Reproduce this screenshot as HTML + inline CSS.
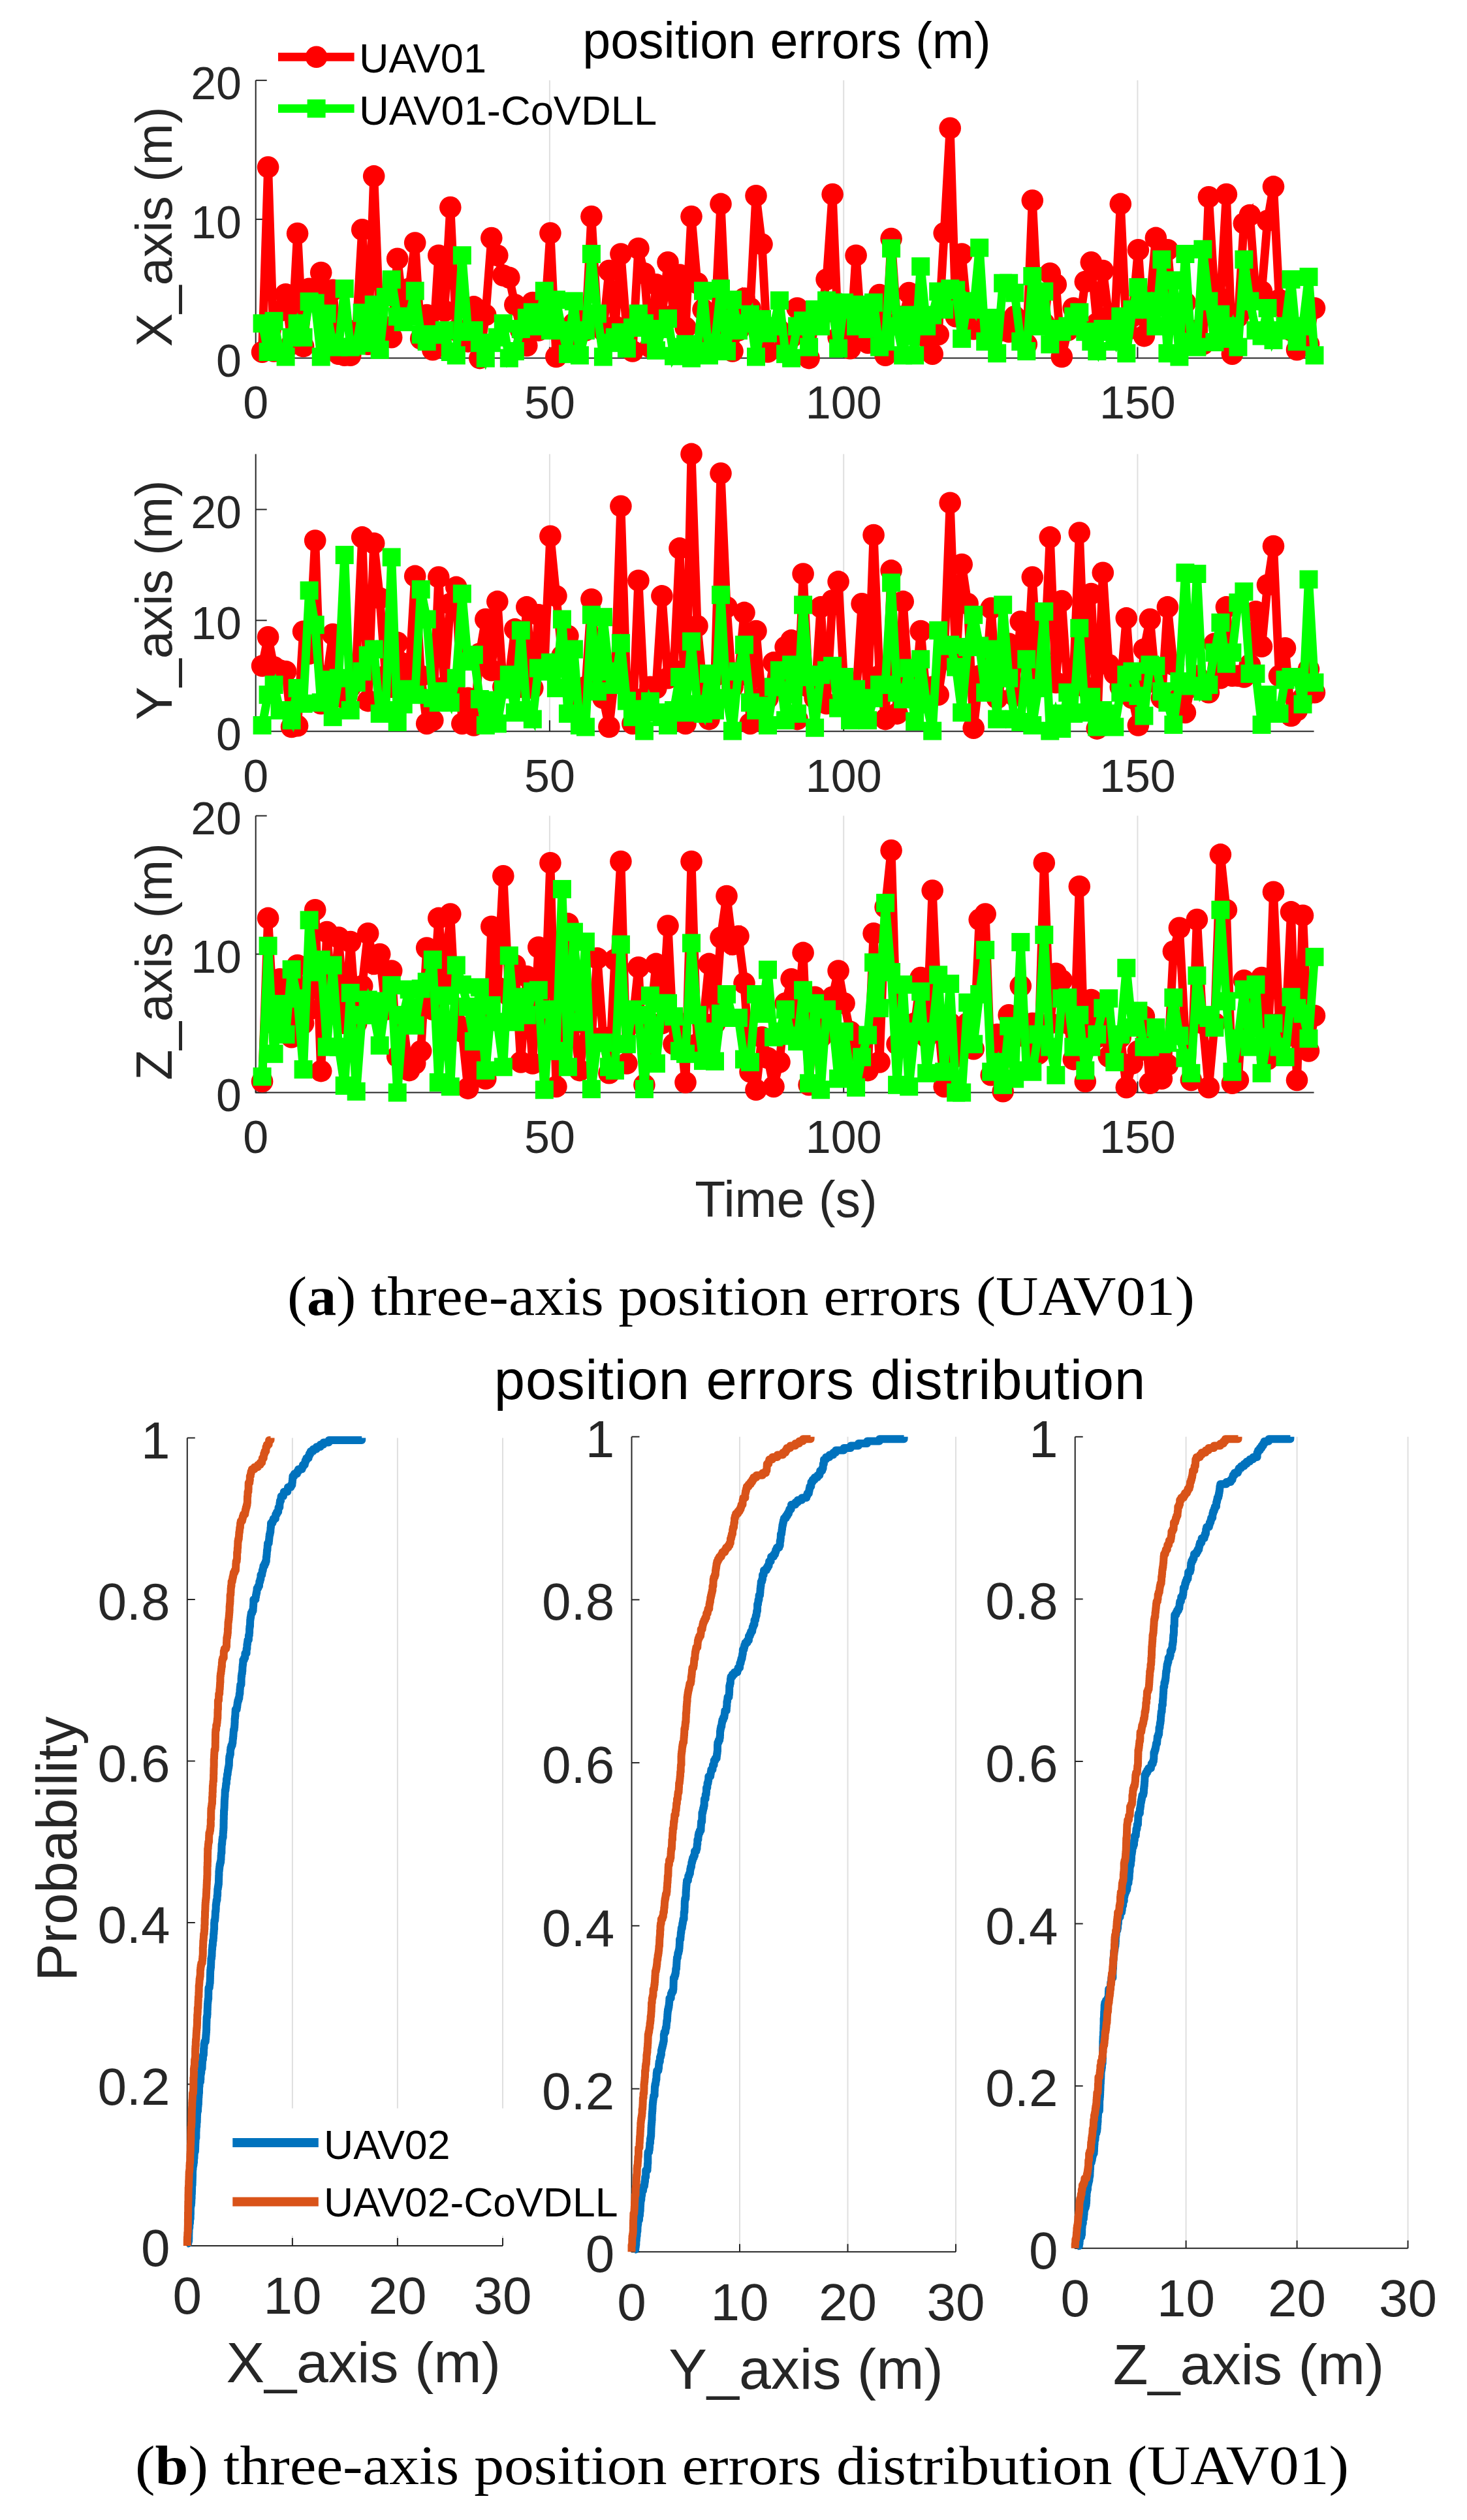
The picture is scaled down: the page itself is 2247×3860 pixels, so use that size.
<!DOCTYPE html>
<html><head><meta charset="utf-8"><title>position errors</title>
<style>html,body{margin:0;padding:0;background:#fff}body{width:2247px;height:3860px;overflow:hidden}svg{display:block}</style></head>
<body><svg width="2247" height="3860" viewBox="0 0 2247 3860">
<rect width="2247" height="3860" fill="#fff"/>
<g>
<line x1="841.9" y1="123.1" x2="841.9" y2="548.6" stroke="#dfdfdf" stroke-width="2"/>
<line x1="1292.2" y1="123.1" x2="1292.2" y2="548.6" stroke="#dfdfdf" stroke-width="2"/>
<line x1="1742.4" y1="123.1" x2="1742.4" y2="548.6" stroke="#dfdfdf" stroke-width="2"/>
<path d="M391.7 123.1V548.6H2012.6" fill="none" stroke="#262626" stroke-width="2"/>
<line x1="391.7" y1="548.6" x2="391.7" y2="531.6" stroke="#262626" stroke-width="2"/>
<text x="391.7" y="641.1" font-family="Liberation Sans, Arial, sans-serif" font-size="70" fill="#262626" text-anchor="middle">0</text>
<line x1="841.9" y1="548.6" x2="841.9" y2="531.6" stroke="#262626" stroke-width="2"/>
<text x="841.9" y="641.1" font-family="Liberation Sans, Arial, sans-serif" font-size="70" fill="#262626" text-anchor="middle">50</text>
<line x1="1292.2" y1="548.6" x2="1292.2" y2="531.6" stroke="#262626" stroke-width="2"/>
<text x="1292.2" y="641.1" font-family="Liberation Sans, Arial, sans-serif" font-size="70" fill="#262626" text-anchor="middle">100</text>
<line x1="1742.4" y1="548.6" x2="1742.4" y2="531.6" stroke="#262626" stroke-width="2"/>
<text x="1742.4" y="641.1" font-family="Liberation Sans, Arial, sans-serif" font-size="70" fill="#262626" text-anchor="middle">150</text>
<line x1="391.7" y1="548.6" x2="408.7" y2="548.6" stroke="#262626" stroke-width="2"/>
<text x="370" y="577.3" font-family="Liberation Sans, Arial, sans-serif" font-size="70" fill="#262626" text-anchor="end">0</text>
<line x1="391.7" y1="335.9" x2="408.7" y2="335.9" stroke="#262626" stroke-width="2"/>
<text x="370" y="364.6" font-family="Liberation Sans, Arial, sans-serif" font-size="70" fill="#262626" text-anchor="end">10</text>
<line x1="391.7" y1="123.1" x2="408.7" y2="123.1" stroke="#262626" stroke-width="2"/>
<text x="370" y="151.8" font-family="Liberation Sans, Arial, sans-serif" font-size="70" fill="#262626" text-anchor="end">20</text>
<text transform="translate(263 347.4) rotate(-90)" font-family="Liberation Sans, Arial, sans-serif" font-size="77" fill="#262626" text-anchor="middle">X_axis (m)</text>
<polyline points="401.6,539.2 410.6,256.1 419.6,538 428.6,476.3 437.6,450.7 446.6,527.3 455.6,357.6 464.6,530.5 473.6,442.2 482.7,448.6 491.7,417.5 500.7,484.8 509.7,444.4 518.7,542.2 527.7,544.3 536.7,544.3 545.7,506.1 554.7,351.8 563.7,527.3 572.7,269.9 581.7,495.4 590.7,506.1 599.7,516.7 608.7,396.3 617.7,474.1 626.7,442.2 635.7,372 644.7,518.8 653.7,482.6 662.8,535.8 671.8,391.2 680.8,476.3 689.8,317.6 698.8,506.1 707.8,506.1 716.8,523.1 725.8,469.9 734.8,548.6 743.8,482.6 752.8,364.6 761.8,391.2 770.8,422 779.8,425.2 788.8,466.7 797.8,506.1 806.8,529.5 815.8,463.5 824.8,506.1 833.8,495.4 842.9,357.1 851.9,546.5 860.9,506.1 869.9,516.7 878.9,495.4 887.9,486.9 896.9,506.1 905.9,331.6 914.9,484.8 923.9,506.1 932.9,414.6 941.9,499.7 950.9,389 959.9,506.1 968.9,538 977.9,380.5 986.9,418.8 995.9,531.6 1004.9,435.8 1013.9,484.8 1023,401.8 1032,482.6 1041,421 1050,501.8 1059,331.6 1068,433.7 1077,474.1 1086,516.7 1095,495.4 1104,312.4 1113,506.1 1122,538 1131,506.1 1140,457.1 1149,472 1158,299.7 1167,374.1 1176,539 1185,506.1 1194,506.1 1203.1,527.3 1212.1,516.7 1221.1,472 1230.1,506.1 1239.1,548.6 1248.1,495.4 1257.1,484.8 1266.1,428 1275.1,297.6 1284.1,516.7 1293.1,495.4 1302.1,533.7 1311.1,391.2 1320.1,516.7 1329.1,525.2 1338.1,484.8 1347.1,451.6 1356.1,544.3 1365.1,365.6 1374.1,495.4 1383.2,484.8 1392.2,448.6 1401.2,506.1 1410.2,484.8 1419.2,516.7 1428.2,542.2 1437.2,512.4 1446.2,357.1 1455.2,196.3 1464.2,484.8 1473.2,389 1482.2,484.8 1491.2,503.9 1500.2,484.8 1509.2,495.4 1518.2,506.1 1527.2,495.4 1536.2,506.1 1545.2,508.2 1554.2,484.8 1563.3,506.1 1572.3,527.3 1581.3,307.1 1590.3,484.8 1599.3,495.4 1608.3,418.8 1617.3,435.8 1626.3,546.5 1635.3,506.1 1644.3,472 1653.3,495.4 1662.3,431.6 1671.3,401.8 1680.3,495.4 1689.3,414.6 1698.3,484.8 1707.3,495.4 1716.3,312.4 1725.3,506.1 1734.3,484.8 1743.4,382.7 1752.4,514.6 1761.4,463.5 1770.4,364.4 1779.4,442.2 1788.4,382.7 1797.4,484.8 1806.4,495.4 1815.4,463.5 1824.4,525.2 1833.4,506.1 1842.4,527.3 1851.4,301.8 1860.4,452.9 1869.4,457.1 1878.4,297.6 1887.4,542.2 1896.4,484.8 1905.4,342.2 1914.4,329.5 1923.5,452.9 1932.5,446.5 1941.5,338 1950.5,285.9 1959.5,459.2 1968.5,474.1 1977.5,506.1 1986.5,535.8 1995.5,506.1 2004.5,527.3 2013.5,472" fill="none" stroke="#ff0000" stroke-width="13" stroke-linejoin="miter" stroke-miterlimit="3"/>
<g fill="#ff0000"><circle cx="401.6" cy="539.2" r="16.8"/><circle cx="410.6" cy="256.1" r="16.8"/><circle cx="419.6" cy="538" r="16.8"/><circle cx="428.6" cy="476.3" r="16.8"/><circle cx="437.6" cy="450.7" r="16.8"/><circle cx="446.6" cy="527.3" r="16.8"/><circle cx="455.6" cy="357.6" r="16.8"/><circle cx="464.6" cy="530.5" r="16.8"/><circle cx="473.6" cy="442.2" r="16.8"/><circle cx="482.7" cy="448.6" r="16.8"/><circle cx="491.7" cy="417.5" r="16.8"/><circle cx="500.7" cy="484.8" r="16.8"/><circle cx="509.7" cy="444.4" r="16.8"/><circle cx="518.7" cy="542.2" r="16.8"/><circle cx="527.7" cy="544.3" r="16.8"/><circle cx="536.7" cy="544.3" r="16.8"/><circle cx="545.7" cy="506.1" r="16.8"/><circle cx="554.7" cy="351.8" r="16.8"/><circle cx="563.7" cy="527.3" r="16.8"/><circle cx="572.7" cy="269.9" r="16.8"/><circle cx="581.7" cy="495.4" r="16.8"/><circle cx="590.7" cy="506.1" r="16.8"/><circle cx="599.7" cy="516.7" r="16.8"/><circle cx="608.7" cy="396.3" r="16.8"/><circle cx="617.7" cy="474.1" r="16.8"/><circle cx="626.7" cy="442.2" r="16.8"/><circle cx="635.7" cy="372" r="16.8"/><circle cx="644.7" cy="518.8" r="16.8"/><circle cx="653.7" cy="482.6" r="16.8"/><circle cx="662.8" cy="535.8" r="16.8"/><circle cx="671.8" cy="391.2" r="16.8"/><circle cx="680.8" cy="476.3" r="16.8"/><circle cx="689.8" cy="317.6" r="16.8"/><circle cx="698.8" cy="506.1" r="16.8"/><circle cx="707.8" cy="506.1" r="16.8"/><circle cx="716.8" cy="523.1" r="16.8"/><circle cx="725.8" cy="469.9" r="16.8"/><circle cx="734.8" cy="548.6" r="16.8"/><circle cx="743.8" cy="482.6" r="16.8"/><circle cx="752.8" cy="364.6" r="16.8"/><circle cx="761.8" cy="391.2" r="16.8"/><circle cx="770.8" cy="422" r="16.8"/><circle cx="779.8" cy="425.2" r="16.8"/><circle cx="788.8" cy="466.7" r="16.8"/><circle cx="797.8" cy="506.1" r="16.8"/><circle cx="806.8" cy="529.5" r="16.8"/><circle cx="815.8" cy="463.5" r="16.8"/><circle cx="824.8" cy="506.1" r="16.8"/><circle cx="833.8" cy="495.4" r="16.8"/><circle cx="842.9" cy="357.1" r="16.8"/><circle cx="851.9" cy="546.5" r="16.8"/><circle cx="860.9" cy="506.1" r="16.8"/><circle cx="869.9" cy="516.7" r="16.8"/><circle cx="878.9" cy="495.4" r="16.8"/><circle cx="887.9" cy="486.9" r="16.8"/><circle cx="896.9" cy="506.1" r="16.8"/><circle cx="905.9" cy="331.6" r="16.8"/><circle cx="914.9" cy="484.8" r="16.8"/><circle cx="923.9" cy="506.1" r="16.8"/><circle cx="932.9" cy="414.6" r="16.8"/><circle cx="941.9" cy="499.7" r="16.8"/><circle cx="950.9" cy="389" r="16.8"/><circle cx="959.9" cy="506.1" r="16.8"/><circle cx="968.9" cy="538" r="16.8"/><circle cx="977.9" cy="380.5" r="16.8"/><circle cx="986.9" cy="418.8" r="16.8"/><circle cx="995.9" cy="531.6" r="16.8"/><circle cx="1004.9" cy="435.8" r="16.8"/><circle cx="1013.9" cy="484.8" r="16.8"/><circle cx="1023" cy="401.8" r="16.8"/><circle cx="1032" cy="482.6" r="16.8"/><circle cx="1041" cy="421" r="16.8"/><circle cx="1050" cy="501.8" r="16.8"/><circle cx="1059" cy="331.6" r="16.8"/><circle cx="1068" cy="433.7" r="16.8"/><circle cx="1077" cy="474.1" r="16.8"/><circle cx="1086" cy="516.7" r="16.8"/><circle cx="1095" cy="495.4" r="16.8"/><circle cx="1104" cy="312.4" r="16.8"/><circle cx="1113" cy="506.1" r="16.8"/><circle cx="1122" cy="538" r="16.8"/><circle cx="1131" cy="506.1" r="16.8"/><circle cx="1140" cy="457.1" r="16.8"/><circle cx="1149" cy="472" r="16.8"/><circle cx="1158" cy="299.7" r="16.8"/><circle cx="1167" cy="374.1" r="16.8"/><circle cx="1176" cy="539" r="16.8"/><circle cx="1185" cy="506.1" r="16.8"/><circle cx="1194" cy="506.1" r="16.8"/><circle cx="1203.1" cy="527.3" r="16.8"/><circle cx="1212.1" cy="516.7" r="16.8"/><circle cx="1221.1" cy="472" r="16.8"/><circle cx="1230.1" cy="506.1" r="16.8"/><circle cx="1239.1" cy="548.6" r="16.8"/><circle cx="1248.1" cy="495.4" r="16.8"/><circle cx="1257.1" cy="484.8" r="16.8"/><circle cx="1266.1" cy="428" r="16.8"/><circle cx="1275.1" cy="297.6" r="16.8"/><circle cx="1284.1" cy="516.7" r="16.8"/><circle cx="1293.1" cy="495.4" r="16.8"/><circle cx="1302.1" cy="533.7" r="16.8"/><circle cx="1311.1" cy="391.2" r="16.8"/><circle cx="1320.1" cy="516.7" r="16.8"/><circle cx="1329.1" cy="525.2" r="16.8"/><circle cx="1338.1" cy="484.8" r="16.8"/><circle cx="1347.1" cy="451.6" r="16.8"/><circle cx="1356.1" cy="544.3" r="16.8"/><circle cx="1365.1" cy="365.6" r="16.8"/><circle cx="1374.1" cy="495.4" r="16.8"/><circle cx="1383.2" cy="484.8" r="16.8"/><circle cx="1392.2" cy="448.6" r="16.8"/><circle cx="1401.2" cy="506.1" r="16.8"/><circle cx="1410.2" cy="484.8" r="16.8"/><circle cx="1419.2" cy="516.7" r="16.8"/><circle cx="1428.2" cy="542.2" r="16.8"/><circle cx="1437.2" cy="512.4" r="16.8"/><circle cx="1446.2" cy="357.1" r="16.8"/><circle cx="1455.2" cy="196.3" r="16.8"/><circle cx="1464.2" cy="484.8" r="16.8"/><circle cx="1473.2" cy="389" r="16.8"/><circle cx="1482.2" cy="484.8" r="16.8"/><circle cx="1491.2" cy="503.9" r="16.8"/><circle cx="1500.2" cy="484.8" r="16.8"/><circle cx="1509.2" cy="495.4" r="16.8"/><circle cx="1518.2" cy="506.1" r="16.8"/><circle cx="1527.2" cy="495.4" r="16.8"/><circle cx="1536.2" cy="506.1" r="16.8"/><circle cx="1545.2" cy="508.2" r="16.8"/><circle cx="1554.2" cy="484.8" r="16.8"/><circle cx="1563.3" cy="506.1" r="16.8"/><circle cx="1572.3" cy="527.3" r="16.8"/><circle cx="1581.3" cy="307.1" r="16.8"/><circle cx="1590.3" cy="484.8" r="16.8"/><circle cx="1599.3" cy="495.4" r="16.8"/><circle cx="1608.3" cy="418.8" r="16.8"/><circle cx="1617.3" cy="435.8" r="16.8"/><circle cx="1626.3" cy="546.5" r="16.8"/><circle cx="1635.3" cy="506.1" r="16.8"/><circle cx="1644.3" cy="472" r="16.8"/><circle cx="1653.3" cy="495.4" r="16.8"/><circle cx="1662.3" cy="431.6" r="16.8"/><circle cx="1671.3" cy="401.8" r="16.8"/><circle cx="1680.3" cy="495.4" r="16.8"/><circle cx="1689.3" cy="414.6" r="16.8"/><circle cx="1698.3" cy="484.8" r="16.8"/><circle cx="1707.3" cy="495.4" r="16.8"/><circle cx="1716.3" cy="312.4" r="16.8"/><circle cx="1725.3" cy="506.1" r="16.8"/><circle cx="1734.3" cy="484.8" r="16.8"/><circle cx="1743.4" cy="382.7" r="16.8"/><circle cx="1752.4" cy="514.6" r="16.8"/><circle cx="1761.4" cy="463.5" r="16.8"/><circle cx="1770.4" cy="364.4" r="16.8"/><circle cx="1779.4" cy="442.2" r="16.8"/><circle cx="1788.4" cy="382.7" r="16.8"/><circle cx="1797.4" cy="484.8" r="16.8"/><circle cx="1806.4" cy="495.4" r="16.8"/><circle cx="1815.4" cy="463.5" r="16.8"/><circle cx="1824.4" cy="525.2" r="16.8"/><circle cx="1833.4" cy="506.1" r="16.8"/><circle cx="1842.4" cy="527.3" r="16.8"/><circle cx="1851.4" cy="301.8" r="16.8"/><circle cx="1860.4" cy="452.9" r="16.8"/><circle cx="1869.4" cy="457.1" r="16.8"/><circle cx="1878.4" cy="297.6" r="16.8"/><circle cx="1887.4" cy="542.2" r="16.8"/><circle cx="1896.4" cy="484.8" r="16.8"/><circle cx="1905.4" cy="342.2" r="16.8"/><circle cx="1914.4" cy="329.5" r="16.8"/><circle cx="1923.5" cy="452.9" r="16.8"/><circle cx="1932.5" cy="446.5" r="16.8"/><circle cx="1941.5" cy="338" r="16.8"/><circle cx="1950.5" cy="285.9" r="16.8"/><circle cx="1959.5" cy="459.2" r="16.8"/><circle cx="1968.5" cy="474.1" r="16.8"/><circle cx="1977.5" cy="506.1" r="16.8"/><circle cx="1986.5" cy="535.8" r="16.8"/><circle cx="1995.5" cy="506.1" r="16.8"/><circle cx="2004.5" cy="527.3" r="16.8"/><circle cx="2013.5" cy="472" r="16.8"/></g>
<polyline points="401.6,495.4 410.6,539 419.6,491.8 428.6,539 437.6,546.5 446.6,516.7 455.6,495.4 464.6,516.7 473.6,462 482.7,464.4 491.7,546.5 500.7,480.5 509.7,525.2 518.7,531.6 527.7,442.2 536.7,531.6 545.7,529.5 554.7,479.2 563.7,525.2 572.7,466.7 581.7,535.8 590.7,455 599.7,428.2 608.7,484.8 617.7,493.3 626.7,484.8 635.7,445.6 644.7,512.4 653.7,523.1 662.8,512.4 671.8,512.4 680.8,506.1 689.8,539 698.8,544.3 707.8,391.2 716.8,508.2 725.8,506.1 734.8,525.2 743.8,548.6 752.8,525.2 761.8,516.7 770.8,495.4 779.8,548.6 788.8,538 797.8,503.9 806.8,486.9 815.8,478.4 824.8,499.7 833.8,445.6 842.9,506.1 851.9,459.2 860.9,506.1 869.9,542.2 878.9,461.4 887.9,544.3 896.9,506.1 905.9,389 914.9,480.5 923.9,546.5 932.9,525.2 941.9,516.7 950.9,509.2 959.9,533.7 968.9,501.8 977.9,480.5 986.9,495.4 995.9,512.4 1004.9,536.7 1013.9,503.9 1023,488 1032,545.4 1041,531.6 1050,527.3 1059,548.6 1068,538 1077,445.6 1086,544.3 1095,525.2 1104,442.2 1113,538 1122,459.2 1131,506.1 1140,495.4 1149,481.6 1158,546.5 1167,489 1176,510.3 1185,499.7 1194,460.3 1203.1,542.2 1212.1,548.6 1221.1,499.7 1230.1,491.2 1239.1,531.6 1248.1,474.1 1257.1,499.7 1266.1,460.3 1275.1,474.1 1284.1,533.7 1293.1,463.5 1302.1,474.1 1311.1,499.7 1320.1,466.7 1329.1,503.9 1338.1,463.5 1347.1,531.6 1356.1,523.1 1365.1,380.5 1374.1,499.7 1383.2,544.3 1392.2,482.6 1401.2,544.3 1410.2,408.2 1419.2,499.7 1428.2,482.6 1437.2,446.5 1446.2,474.1 1455.2,442.2 1464.2,444.4 1473.2,518.8 1482.2,461.4 1491.2,474.1 1500.2,379.5 1509.2,523.1 1518.2,486.9 1527.2,541.2 1536.2,433.7 1545.2,433.7 1554.2,448.6 1563.3,523.1 1572.3,538 1581.3,423.1 1590.3,499.7 1599.3,446.5 1608.3,527.3 1617.3,503.9 1626.3,508.2 1635.3,499.7 1644.3,484.8 1653.3,478.4 1662.3,508.2 1671.3,523.1 1680.3,538 1689.3,503.9 1698.3,508.2 1707.3,523.1 1716.3,484.8 1725.3,541.2 1734.3,474.1 1743.4,440.1 1752.4,474.1 1761.4,461.4 1770.4,499.7 1779.4,397.5 1788.4,541.2 1797.4,429.5 1806.4,546.5 1815.4,389 1824.4,524.1 1833.4,531.6 1842.4,381.8 1851.4,461.4 1860.4,524.1 1869.4,481.6 1878.4,518.8 1887.4,499.7 1896.4,531.6 1905.4,397.5 1914.4,461.4 1923.5,506.1 1932.5,514.6 1941.5,472 1950.5,520.9 1959.5,506.1 1968.5,499.7 1977.5,428 1986.5,523.1 1995.5,499.7 2004.5,424.1 2013.5,544.3" fill="none" stroke="#00ff00" stroke-width="13" stroke-linejoin="miter" stroke-miterlimit="3"/>
<g fill="#00ff00"><rect x="387.6" y="481.4" width="28" height="28"/><rect x="396.6" y="525" width="28" height="28"/><rect x="405.6" y="477.8" width="28" height="28"/><rect x="414.6" y="525" width="28" height="28"/><rect x="423.6" y="532.5" width="28" height="28"/><rect x="432.6" y="502.7" width="28" height="28"/><rect x="441.6" y="481.4" width="28" height="28"/><rect x="450.6" y="502.7" width="28" height="28"/><rect x="459.6" y="448" width="28" height="28"/><rect x="468.7" y="450.4" width="28" height="28"/><rect x="477.7" y="532.5" width="28" height="28"/><rect x="486.7" y="466.5" width="28" height="28"/><rect x="495.7" y="511.2" width="28" height="28"/><rect x="504.7" y="517.6" width="28" height="28"/><rect x="513.7" y="428.2" width="28" height="28"/><rect x="522.7" y="517.6" width="28" height="28"/><rect x="531.7" y="515.5" width="28" height="28"/><rect x="540.7" y="465.2" width="28" height="28"/><rect x="549.7" y="511.2" width="28" height="28"/><rect x="558.7" y="452.7" width="28" height="28"/><rect x="567.7" y="521.8" width="28" height="28"/><rect x="576.7" y="441" width="28" height="28"/><rect x="585.7" y="414.2" width="28" height="28"/><rect x="594.7" y="470.8" width="28" height="28"/><rect x="603.7" y="479.3" width="28" height="28"/><rect x="612.7" y="470.8" width="28" height="28"/><rect x="621.7" y="431.6" width="28" height="28"/><rect x="630.7" y="498.4" width="28" height="28"/><rect x="639.7" y="509.1" width="28" height="28"/><rect x="648.8" y="498.4" width="28" height="28"/><rect x="657.8" y="498.4" width="28" height="28"/><rect x="666.8" y="492.1" width="28" height="28"/><rect x="675.8" y="525" width="28" height="28"/><rect x="684.8" y="530.3" width="28" height="28"/><rect x="693.8" y="377.2" width="28" height="28"/><rect x="702.8" y="494.2" width="28" height="28"/><rect x="711.8" y="492.1" width="28" height="28"/><rect x="720.8" y="511.2" width="28" height="28"/><rect x="729.8" y="534.6" width="28" height="28"/><rect x="738.8" y="511.2" width="28" height="28"/><rect x="747.8" y="502.7" width="28" height="28"/><rect x="756.8" y="481.4" width="28" height="28"/><rect x="765.8" y="534.6" width="28" height="28"/><rect x="774.8" y="524" width="28" height="28"/><rect x="783.8" y="489.9" width="28" height="28"/><rect x="792.8" y="472.9" width="28" height="28"/><rect x="801.8" y="464.4" width="28" height="28"/><rect x="810.8" y="485.7" width="28" height="28"/><rect x="819.8" y="431.6" width="28" height="28"/><rect x="828.9" y="492.1" width="28" height="28"/><rect x="837.9" y="445.2" width="28" height="28"/><rect x="846.9" y="492.1" width="28" height="28"/><rect x="855.9" y="528.2" width="28" height="28"/><rect x="864.9" y="447.4" width="28" height="28"/><rect x="873.9" y="530.3" width="28" height="28"/><rect x="882.9" y="492.1" width="28" height="28"/><rect x="891.9" y="375" width="28" height="28"/><rect x="900.9" y="466.5" width="28" height="28"/><rect x="909.9" y="532.5" width="28" height="28"/><rect x="918.9" y="511.2" width="28" height="28"/><rect x="927.9" y="502.7" width="28" height="28"/><rect x="936.9" y="495.2" width="28" height="28"/><rect x="945.9" y="519.7" width="28" height="28"/><rect x="954.9" y="487.8" width="28" height="28"/><rect x="963.9" y="466.5" width="28" height="28"/><rect x="972.9" y="481.4" width="28" height="28"/><rect x="981.9" y="498.4" width="28" height="28"/><rect x="990.9" y="522.7" width="28" height="28"/><rect x="999.9" y="489.9" width="28" height="28"/><rect x="1009" y="474" width="28" height="28"/><rect x="1018" y="531.4" width="28" height="28"/><rect x="1027" y="517.6" width="28" height="28"/><rect x="1036" y="513.3" width="28" height="28"/><rect x="1045" y="534.6" width="28" height="28"/><rect x="1054" y="524" width="28" height="28"/><rect x="1063" y="431.6" width="28" height="28"/><rect x="1072" y="530.3" width="28" height="28"/><rect x="1081" y="511.2" width="28" height="28"/><rect x="1090" y="428.2" width="28" height="28"/><rect x="1099" y="524" width="28" height="28"/><rect x="1108" y="445.2" width="28" height="28"/><rect x="1117" y="492.1" width="28" height="28"/><rect x="1126" y="481.4" width="28" height="28"/><rect x="1135" y="467.6" width="28" height="28"/><rect x="1144" y="532.5" width="28" height="28"/><rect x="1153" y="475" width="28" height="28"/><rect x="1162" y="496.3" width="28" height="28"/><rect x="1171" y="485.7" width="28" height="28"/><rect x="1180" y="446.3" width="28" height="28"/><rect x="1189.1" y="528.2" width="28" height="28"/><rect x="1198.1" y="534.6" width="28" height="28"/><rect x="1207.1" y="485.7" width="28" height="28"/><rect x="1216.1" y="477.2" width="28" height="28"/><rect x="1225.1" y="517.6" width="28" height="28"/><rect x="1234.1" y="460.1" width="28" height="28"/><rect x="1243.1" y="485.7" width="28" height="28"/><rect x="1252.1" y="446.3" width="28" height="28"/><rect x="1261.1" y="460.1" width="28" height="28"/><rect x="1270.1" y="519.7" width="28" height="28"/><rect x="1279.1" y="449.5" width="28" height="28"/><rect x="1288.1" y="460.1" width="28" height="28"/><rect x="1297.1" y="485.7" width="28" height="28"/><rect x="1306.1" y="452.7" width="28" height="28"/><rect x="1315.1" y="489.9" width="28" height="28"/><rect x="1324.1" y="449.5" width="28" height="28"/><rect x="1333.1" y="517.6" width="28" height="28"/><rect x="1342.1" y="509.1" width="28" height="28"/><rect x="1351.1" y="366.5" width="28" height="28"/><rect x="1360.1" y="485.7" width="28" height="28"/><rect x="1369.2" y="530.3" width="28" height="28"/><rect x="1378.2" y="468.6" width="28" height="28"/><rect x="1387.2" y="530.3" width="28" height="28"/><rect x="1396.2" y="394.2" width="28" height="28"/><rect x="1405.2" y="485.7" width="28" height="28"/><rect x="1414.2" y="468.6" width="28" height="28"/><rect x="1423.2" y="432.5" width="28" height="28"/><rect x="1432.2" y="460.1" width="28" height="28"/><rect x="1441.2" y="428.2" width="28" height="28"/><rect x="1450.2" y="430.4" width="28" height="28"/><rect x="1459.2" y="504.8" width="28" height="28"/><rect x="1468.2" y="447.4" width="28" height="28"/><rect x="1477.2" y="460.1" width="28" height="28"/><rect x="1486.2" y="365.5" width="28" height="28"/><rect x="1495.2" y="509.1" width="28" height="28"/><rect x="1504.2" y="472.9" width="28" height="28"/><rect x="1513.2" y="527.2" width="28" height="28"/><rect x="1522.2" y="419.7" width="28" height="28"/><rect x="1531.2" y="419.7" width="28" height="28"/><rect x="1540.2" y="434.6" width="28" height="28"/><rect x="1549.3" y="509.1" width="28" height="28"/><rect x="1558.3" y="524" width="28" height="28"/><rect x="1567.3" y="409.1" width="28" height="28"/><rect x="1576.3" y="485.7" width="28" height="28"/><rect x="1585.3" y="432.5" width="28" height="28"/><rect x="1594.3" y="513.3" width="28" height="28"/><rect x="1603.3" y="489.9" width="28" height="28"/><rect x="1612.3" y="494.2" width="28" height="28"/><rect x="1621.3" y="485.7" width="28" height="28"/><rect x="1630.3" y="470.8" width="28" height="28"/><rect x="1639.3" y="464.4" width="28" height="28"/><rect x="1648.3" y="494.2" width="28" height="28"/><rect x="1657.3" y="509.1" width="28" height="28"/><rect x="1666.3" y="524" width="28" height="28"/><rect x="1675.3" y="489.9" width="28" height="28"/><rect x="1684.3" y="494.2" width="28" height="28"/><rect x="1693.3" y="509.1" width="28" height="28"/><rect x="1702.3" y="470.8" width="28" height="28"/><rect x="1711.3" y="527.2" width="28" height="28"/><rect x="1720.3" y="460.1" width="28" height="28"/><rect x="1729.4" y="426.1" width="28" height="28"/><rect x="1738.4" y="460.1" width="28" height="28"/><rect x="1747.4" y="447.4" width="28" height="28"/><rect x="1756.4" y="485.7" width="28" height="28"/><rect x="1765.4" y="383.5" width="28" height="28"/><rect x="1774.4" y="527.2" width="28" height="28"/><rect x="1783.4" y="415.5" width="28" height="28"/><rect x="1792.4" y="532.5" width="28" height="28"/><rect x="1801.4" y="375" width="28" height="28"/><rect x="1810.4" y="510.1" width="28" height="28"/><rect x="1819.4" y="517.6" width="28" height="28"/><rect x="1828.4" y="367.8" width="28" height="28"/><rect x="1837.4" y="447.4" width="28" height="28"/><rect x="1846.4" y="510.1" width="28" height="28"/><rect x="1855.4" y="467.6" width="28" height="28"/><rect x="1864.4" y="504.8" width="28" height="28"/><rect x="1873.4" y="485.7" width="28" height="28"/><rect x="1882.4" y="517.6" width="28" height="28"/><rect x="1891.4" y="383.5" width="28" height="28"/><rect x="1900.4" y="447.4" width="28" height="28"/><rect x="1909.5" y="492.1" width="28" height="28"/><rect x="1918.5" y="500.6" width="28" height="28"/><rect x="1927.5" y="458" width="28" height="28"/><rect x="1936.5" y="506.9" width="28" height="28"/><rect x="1945.5" y="492.1" width="28" height="28"/><rect x="1954.5" y="485.7" width="28" height="28"/><rect x="1963.5" y="414" width="28" height="28"/><rect x="1972.5" y="509.1" width="28" height="28"/><rect x="1981.5" y="485.7" width="28" height="28"/><rect x="1990.5" y="410.1" width="28" height="28"/><rect x="1999.5" y="530.3" width="28" height="28"/></g>
</g>
<g>
<line x1="841.9" y1="695.4" x2="841.9" y2="1120.3" stroke="#dfdfdf" stroke-width="2"/>
<line x1="1292.2" y1="695.4" x2="1292.2" y2="1120.3" stroke="#dfdfdf" stroke-width="2"/>
<line x1="1742.4" y1="695.4" x2="1742.4" y2="1120.3" stroke="#dfdfdf" stroke-width="2"/>
<path d="M391.7 695.4V1120.3H2012.6" fill="none" stroke="#262626" stroke-width="2"/>
<line x1="391.7" y1="1120.3" x2="391.7" y2="1103.3" stroke="#262626" stroke-width="2"/>
<text x="391.7" y="1212.8" font-family="Liberation Sans, Arial, sans-serif" font-size="70" fill="#262626" text-anchor="middle">0</text>
<line x1="841.9" y1="1120.3" x2="841.9" y2="1103.3" stroke="#262626" stroke-width="2"/>
<text x="841.9" y="1212.8" font-family="Liberation Sans, Arial, sans-serif" font-size="70" fill="#262626" text-anchor="middle">50</text>
<line x1="1292.2" y1="1120.3" x2="1292.2" y2="1103.3" stroke="#262626" stroke-width="2"/>
<text x="1292.2" y="1212.8" font-family="Liberation Sans, Arial, sans-serif" font-size="70" fill="#262626" text-anchor="middle">100</text>
<line x1="1742.4" y1="1120.3" x2="1742.4" y2="1103.3" stroke="#262626" stroke-width="2"/>
<text x="1742.4" y="1212.8" font-family="Liberation Sans, Arial, sans-serif" font-size="70" fill="#262626" text-anchor="middle">150</text>
<line x1="391.7" y1="1120.3" x2="408.7" y2="1120.3" stroke="#262626" stroke-width="2"/>
<text x="370" y="1149" font-family="Liberation Sans, Arial, sans-serif" font-size="70" fill="#262626" text-anchor="end">0</text>
<line x1="391.7" y1="950.3" x2="408.7" y2="950.3" stroke="#262626" stroke-width="2"/>
<text x="370" y="979" font-family="Liberation Sans, Arial, sans-serif" font-size="70" fill="#262626" text-anchor="end">10</text>
<line x1="391.7" y1="780.4" x2="408.7" y2="780.4" stroke="#262626" stroke-width="2"/>
<text x="370" y="809.1" font-family="Liberation Sans, Arial, sans-serif" font-size="70" fill="#262626" text-anchor="end">20</text>
<text transform="translate(263 919.3) rotate(-90)" font-family="Liberation Sans, Arial, sans-serif" font-size="77" fill="#262626" text-anchor="middle">Y_axis (m)</text>
<polyline points="401.6,1020 410.6,975.8 419.6,1021.7 428.6,1026.8 437.6,1028.5 446.6,1113.5 455.6,1111.8 464.6,967.3 473.6,1001.3 482.7,828 491.7,1077.8 500.7,1035.3 509.7,971.6 518.7,1052.3 527.7,1069.3 536.7,1052.3 545.7,1018.3 554.7,822.9 563.7,1073.6 572.7,832.2 581.7,916.3 590.7,1035.3 599.7,1052.3 608.7,984.3 617.7,1016.6 626.7,1035.3 635.7,882.4 644.7,1035.3 653.7,1108.4 662.8,1103.3 671.8,884.1 680.8,1052.3 689.8,924.8 698.8,899.4 707.8,1108.4 716.8,1069.3 725.8,1111 734.8,1001.3 743.8,948.6 752.8,1026.8 761.8,921.4 770.8,1052.3 779.8,1035.3 788.8,963.9 797.8,1052.3 806.8,929.9 815.8,1054 824.8,941.8 833.8,1018.3 842.9,821.2 851.9,912.9 860.9,1004.7 869.9,974.1 878.9,1052.3 887.9,1069.3 896.9,1052.3 905.9,918 914.9,1035.3 923.9,1069.3 932.9,1113.5 941.9,1035.3 950.9,775.3 959.9,1052.3 968.9,1108.4 977.9,889.2 986.9,1069.3 995.9,1052.3 1004.9,1054 1013.9,912.9 1023,1038.7 1032,1026.8 1041,839.9 1050,1108.4 1059,695.4 1068,958.8 1077,1052.3 1086,1101.6 1095,1035.3 1104,725.1 1113,929.9 1122,1052.3 1131,1035.3 1140,938.4 1149,1108.4 1158,966.5 1167,1069.3 1176,1069.3 1185,1014.9 1194,1052.3 1203.1,991.1 1212.1,980.9 1221.1,1101.6 1230.1,879 1239.1,1052.3 1248.1,1069.3 1257.1,929.9 1266.1,1077.8 1275.1,919.7 1284.1,890.9 1293.1,1052.3 1302.1,1069.3 1311.1,1069.3 1320.1,924.8 1329.1,1069.3 1338.1,819.5 1347.1,1035.3 1356.1,1101.6 1365.1,873.9 1374.1,1093.1 1383.2,921.4 1392.2,1052.3 1401.2,1069.3 1410.2,966.5 1419.2,1069.3 1428.2,1052.3 1437.2,1064.2 1446.2,1004.7 1455.2,770.2 1464.2,1018.3 1473.2,864.5 1482.2,924.8 1491.2,1115.2 1500.2,1035.3 1509.2,1052.3 1518.2,931.6 1527.2,1069.3 1536.2,1035.3 1545.2,986 1554.2,1065.9 1563.3,952 1572.3,1052.3 1581.3,884.1 1590.3,1035.3 1599.3,1018.3 1608.3,822.9 1617.3,1045.5 1626.3,920.6 1635.3,1052.3 1644.3,1035.3 1653.3,816.1 1662.3,1052.3 1671.3,909.5 1680.3,1116.1 1689.3,877.3 1698.3,1018.3 1707.3,1031.9 1716.3,1052.3 1725.3,946.9 1734.3,1069.3 1743.4,1111 1752.4,994.5 1761.4,948.6 1770.4,1045.5 1779.4,1069.3 1788.4,929.9 1797.4,1018.3 1806.4,1069.3 1815.4,1091.4 1824.4,1052.3 1833.4,1035.3 1842.4,1052.3 1851.4,1060.8 1860.4,986 1869.4,1038.7 1878.4,929.9 1887.4,1035.3 1896.4,1035.3 1905.4,1037 1914.4,1018.3 1923.5,936.7 1932.5,990.3 1941.5,896 1950.5,836.5 1959.5,1035.3 1968.5,992.8 1977.5,1096.5 1986.5,1088 1995.5,1069.3 2004.5,1025.1 2013.5,1060.8" fill="none" stroke="#ff0000" stroke-width="13" stroke-linejoin="miter" stroke-miterlimit="3"/>
<g fill="#ff0000"><circle cx="401.6" cy="1020" r="16.8"/><circle cx="410.6" cy="975.8" r="16.8"/><circle cx="419.6" cy="1021.7" r="16.8"/><circle cx="428.6" cy="1026.8" r="16.8"/><circle cx="437.6" cy="1028.5" r="16.8"/><circle cx="446.6" cy="1113.5" r="16.8"/><circle cx="455.6" cy="1111.8" r="16.8"/><circle cx="464.6" cy="967.3" r="16.8"/><circle cx="473.6" cy="1001.3" r="16.8"/><circle cx="482.7" cy="828" r="16.8"/><circle cx="491.7" cy="1077.8" r="16.8"/><circle cx="500.7" cy="1035.3" r="16.8"/><circle cx="509.7" cy="971.6" r="16.8"/><circle cx="518.7" cy="1052.3" r="16.8"/><circle cx="527.7" cy="1069.3" r="16.8"/><circle cx="536.7" cy="1052.3" r="16.8"/><circle cx="545.7" cy="1018.3" r="16.8"/><circle cx="554.7" cy="822.9" r="16.8"/><circle cx="563.7" cy="1073.6" r="16.8"/><circle cx="572.7" cy="832.2" r="16.8"/><circle cx="581.7" cy="916.3" r="16.8"/><circle cx="590.7" cy="1035.3" r="16.8"/><circle cx="599.7" cy="1052.3" r="16.8"/><circle cx="608.7" cy="984.3" r="16.8"/><circle cx="617.7" cy="1016.6" r="16.8"/><circle cx="626.7" cy="1035.3" r="16.8"/><circle cx="635.7" cy="882.4" r="16.8"/><circle cx="644.7" cy="1035.3" r="16.8"/><circle cx="653.7" cy="1108.4" r="16.8"/><circle cx="662.8" cy="1103.3" r="16.8"/><circle cx="671.8" cy="884.1" r="16.8"/><circle cx="680.8" cy="1052.3" r="16.8"/><circle cx="689.8" cy="924.8" r="16.8"/><circle cx="698.8" cy="899.4" r="16.8"/><circle cx="707.8" cy="1108.4" r="16.8"/><circle cx="716.8" cy="1069.3" r="16.8"/><circle cx="725.8" cy="1111" r="16.8"/><circle cx="734.8" cy="1001.3" r="16.8"/><circle cx="743.8" cy="948.6" r="16.8"/><circle cx="752.8" cy="1026.8" r="16.8"/><circle cx="761.8" cy="921.4" r="16.8"/><circle cx="770.8" cy="1052.3" r="16.8"/><circle cx="779.8" cy="1035.3" r="16.8"/><circle cx="788.8" cy="963.9" r="16.8"/><circle cx="797.8" cy="1052.3" r="16.8"/><circle cx="806.8" cy="929.9" r="16.8"/><circle cx="815.8" cy="1054" r="16.8"/><circle cx="824.8" cy="941.8" r="16.8"/><circle cx="833.8" cy="1018.3" r="16.8"/><circle cx="842.9" cy="821.2" r="16.8"/><circle cx="851.9" cy="912.9" r="16.8"/><circle cx="860.9" cy="1004.7" r="16.8"/><circle cx="869.9" cy="974.1" r="16.8"/><circle cx="878.9" cy="1052.3" r="16.8"/><circle cx="887.9" cy="1069.3" r="16.8"/><circle cx="896.9" cy="1052.3" r="16.8"/><circle cx="905.9" cy="918" r="16.8"/><circle cx="914.9" cy="1035.3" r="16.8"/><circle cx="923.9" cy="1069.3" r="16.8"/><circle cx="932.9" cy="1113.5" r="16.8"/><circle cx="941.9" cy="1035.3" r="16.8"/><circle cx="950.9" cy="775.3" r="16.8"/><circle cx="959.9" cy="1052.3" r="16.8"/><circle cx="968.9" cy="1108.4" r="16.8"/><circle cx="977.9" cy="889.2" r="16.8"/><circle cx="986.9" cy="1069.3" r="16.8"/><circle cx="995.9" cy="1052.3" r="16.8"/><circle cx="1004.9" cy="1054" r="16.8"/><circle cx="1013.9" cy="912.9" r="16.8"/><circle cx="1023" cy="1038.7" r="16.8"/><circle cx="1032" cy="1026.8" r="16.8"/><circle cx="1041" cy="839.9" r="16.8"/><circle cx="1050" cy="1108.4" r="16.8"/><circle cx="1059" cy="695.4" r="16.8"/><circle cx="1068" cy="958.8" r="16.8"/><circle cx="1077" cy="1052.3" r="16.8"/><circle cx="1086" cy="1101.6" r="16.8"/><circle cx="1095" cy="1035.3" r="16.8"/><circle cx="1104" cy="725.1" r="16.8"/><circle cx="1113" cy="929.9" r="16.8"/><circle cx="1122" cy="1052.3" r="16.8"/><circle cx="1131" cy="1035.3" r="16.8"/><circle cx="1140" cy="938.4" r="16.8"/><circle cx="1149" cy="1108.4" r="16.8"/><circle cx="1158" cy="966.5" r="16.8"/><circle cx="1167" cy="1069.3" r="16.8"/><circle cx="1176" cy="1069.3" r="16.8"/><circle cx="1185" cy="1014.9" r="16.8"/><circle cx="1194" cy="1052.3" r="16.8"/><circle cx="1203.1" cy="991.1" r="16.8"/><circle cx="1212.1" cy="980.9" r="16.8"/><circle cx="1221.1" cy="1101.6" r="16.8"/><circle cx="1230.1" cy="879" r="16.8"/><circle cx="1239.1" cy="1052.3" r="16.8"/><circle cx="1248.1" cy="1069.3" r="16.8"/><circle cx="1257.1" cy="929.9" r="16.8"/><circle cx="1266.1" cy="1077.8" r="16.8"/><circle cx="1275.1" cy="919.7" r="16.8"/><circle cx="1284.1" cy="890.9" r="16.8"/><circle cx="1293.1" cy="1052.3" r="16.8"/><circle cx="1302.1" cy="1069.3" r="16.8"/><circle cx="1311.1" cy="1069.3" r="16.8"/><circle cx="1320.1" cy="924.8" r="16.8"/><circle cx="1329.1" cy="1069.3" r="16.8"/><circle cx="1338.1" cy="819.5" r="16.8"/><circle cx="1347.1" cy="1035.3" r="16.8"/><circle cx="1356.1" cy="1101.6" r="16.8"/><circle cx="1365.1" cy="873.9" r="16.8"/><circle cx="1374.1" cy="1093.1" r="16.8"/><circle cx="1383.2" cy="921.4" r="16.8"/><circle cx="1392.2" cy="1052.3" r="16.8"/><circle cx="1401.2" cy="1069.3" r="16.8"/><circle cx="1410.2" cy="966.5" r="16.8"/><circle cx="1419.2" cy="1069.3" r="16.8"/><circle cx="1428.2" cy="1052.3" r="16.8"/><circle cx="1437.2" cy="1064.2" r="16.8"/><circle cx="1446.2" cy="1004.7" r="16.8"/><circle cx="1455.2" cy="770.2" r="16.8"/><circle cx="1464.2" cy="1018.3" r="16.8"/><circle cx="1473.2" cy="864.5" r="16.8"/><circle cx="1482.2" cy="924.8" r="16.8"/><circle cx="1491.2" cy="1115.2" r="16.8"/><circle cx="1500.2" cy="1035.3" r="16.8"/><circle cx="1509.2" cy="1052.3" r="16.8"/><circle cx="1518.2" cy="931.6" r="16.8"/><circle cx="1527.2" cy="1069.3" r="16.8"/><circle cx="1536.2" cy="1035.3" r="16.8"/><circle cx="1545.2" cy="986" r="16.8"/><circle cx="1554.2" cy="1065.9" r="16.8"/><circle cx="1563.3" cy="952" r="16.8"/><circle cx="1572.3" cy="1052.3" r="16.8"/><circle cx="1581.3" cy="884.1" r="16.8"/><circle cx="1590.3" cy="1035.3" r="16.8"/><circle cx="1599.3" cy="1018.3" r="16.8"/><circle cx="1608.3" cy="822.9" r="16.8"/><circle cx="1617.3" cy="1045.5" r="16.8"/><circle cx="1626.3" cy="920.6" r="16.8"/><circle cx="1635.3" cy="1052.3" r="16.8"/><circle cx="1644.3" cy="1035.3" r="16.8"/><circle cx="1653.3" cy="816.1" r="16.8"/><circle cx="1662.3" cy="1052.3" r="16.8"/><circle cx="1671.3" cy="909.5" r="16.8"/><circle cx="1680.3" cy="1116.1" r="16.8"/><circle cx="1689.3" cy="877.3" r="16.8"/><circle cx="1698.3" cy="1018.3" r="16.8"/><circle cx="1707.3" cy="1031.9" r="16.8"/><circle cx="1716.3" cy="1052.3" r="16.8"/><circle cx="1725.3" cy="946.9" r="16.8"/><circle cx="1734.3" cy="1069.3" r="16.8"/><circle cx="1743.4" cy="1111" r="16.8"/><circle cx="1752.4" cy="994.5" r="16.8"/><circle cx="1761.4" cy="948.6" r="16.8"/><circle cx="1770.4" cy="1045.5" r="16.8"/><circle cx="1779.4" cy="1069.3" r="16.8"/><circle cx="1788.4" cy="929.9" r="16.8"/><circle cx="1797.4" cy="1018.3" r="16.8"/><circle cx="1806.4" cy="1069.3" r="16.8"/><circle cx="1815.4" cy="1091.4" r="16.8"/><circle cx="1824.4" cy="1052.3" r="16.8"/><circle cx="1833.4" cy="1035.3" r="16.8"/><circle cx="1842.4" cy="1052.3" r="16.8"/><circle cx="1851.4" cy="1060.8" r="16.8"/><circle cx="1860.4" cy="986" r="16.8"/><circle cx="1869.4" cy="1038.7" r="16.8"/><circle cx="1878.4" cy="929.9" r="16.8"/><circle cx="1887.4" cy="1035.3" r="16.8"/><circle cx="1896.4" cy="1035.3" r="16.8"/><circle cx="1905.4" cy="1037" r="16.8"/><circle cx="1914.4" cy="1018.3" r="16.8"/><circle cx="1923.5" cy="936.7" r="16.8"/><circle cx="1932.5" cy="990.3" r="16.8"/><circle cx="1941.5" cy="896" r="16.8"/><circle cx="1950.5" cy="836.5" r="16.8"/><circle cx="1959.5" cy="1035.3" r="16.8"/><circle cx="1968.5" cy="992.8" r="16.8"/><circle cx="1977.5" cy="1096.5" r="16.8"/><circle cx="1986.5" cy="1088" r="16.8"/><circle cx="1995.5" cy="1069.3" r="16.8"/><circle cx="2004.5" cy="1025.1" r="16.8"/><circle cx="2013.5" cy="1060.8" r="16.8"/></g>
<polyline points="401.6,1111 410.6,1064.2 419.6,1048.9 428.6,1088 437.6,1088 446.6,1103.3 455.6,1054 464.6,1077.8 473.6,904.5 482.7,957.1 491.7,1076.1 500.7,1041.3 509.7,1098.2 518.7,1038.7 527.7,850.1 536.7,1088 545.7,1045.5 554.7,1028.5 563.7,1003.9 572.7,994.5 581.7,1093.1 590.7,1088 599.7,853.5 608.7,1105.9 617.7,1078.7 626.7,1055.7 635.7,1064.2 644.7,902.8 653.7,948.6 662.8,1069.3 671.8,1076.1 680.8,1059.1 689.8,1076.1 698.8,1038.7 707.8,909.5 716.8,1013.2 725.8,1003 734.8,1071 743.8,1111 752.8,1072.7 761.8,1108.4 770.8,1056.2 779.8,1033.6 788.8,1091.4 797.8,965.6 806.8,1088 815.8,1101.6 824.8,1023.4 833.8,1028.5 842.9,1014.9 851.9,1054 860.9,948.6 869.9,1093.1 878.9,994.5 887.9,1111 896.9,1113.5 905.9,941.8 914.9,1059.1 923.9,945.2 932.9,1028.5 941.9,1048.9 950.9,985.2 959.9,1073.6 968.9,1098.2 977.9,1086.3 986.9,1119.6 995.9,1074.4 1004.9,1091.4 1013.9,1098.2 1023,1111 1032,1088 1041,1037 1050,1091.4 1059,982.6 1068,1078.7 1077,1093.1 1086,1031.9 1095,1088 1104,911.2 1113,1069.3 1122,1119.6 1131,1028.5 1140,987.7 1149,1076.1 1158,1088 1167,1081.2 1176,1111 1185,1052.3 1194,1026.8 1203.1,1103.3 1212.1,1018.3 1221.1,1093.1 1230.1,926.5 1239.1,1037 1248.1,1114.7 1257.1,1033.6 1266.1,1026.8 1275.1,1020 1284.1,1084.6 1293.1,1037 1302.1,1103.3 1311.1,1055.7 1320.1,1078.7 1329.1,1103.3 1338.1,1069.3 1347.1,1048.9 1356.1,1048.9 1365.1,892.6 1374.1,1060.8 1383.2,1071 1392.2,1023.4 1401.2,1105 1410.2,1009.8 1419.2,1078.7 1428.2,1119.6 1437.2,965.6 1446.2,989.4 1455.2,987.7 1464.2,1021.7 1473.2,1091.4 1482.2,991.1 1491.2,941.8 1500.2,989.4 1509.2,1060.8 1518.2,994.5 1527.2,1101.6 1536.2,926.5 1545.2,1038.7 1554.2,1101.6 1563.3,1105.9 1572.3,1009.8 1581.3,1111 1590.3,1054 1599.3,936.7 1608.3,1119.6 1617.3,1093.1 1626.3,1116.1 1635.3,1060.8 1644.3,1093.1 1653.3,962.2 1662.3,1091.4 1671.3,1067.6 1680.3,1113.5 1689.3,1088 1698.3,1093.1 1707.3,1113.5 1716.3,1060.8 1725.3,1033.6 1734.3,1028.5 1743.4,1065.9 1752.4,1096.5 1761.4,1018.3 1770.4,1020 1779.4,1059.1 1788.4,1076.1 1797.4,1110.1 1806.4,1043.8 1815.4,877.3 1824.4,1050.6 1833.4,879 1842.4,1059.1 1851.4,1048.9 1860.4,999.6 1869.4,953.7 1878.4,1016.6 1887.4,999.6 1896.4,923.1 1905.4,906.2 1914.4,1031.9 1923.5,1031.9 1932.5,1110.1 1941.5,1064.2 1950.5,1088 1959.5,1093.1 1968.5,1041.3 1977.5,1037 1986.5,1037 1995.5,1078.7 2004.5,887.5 2013.5,1045.5" fill="none" stroke="#00ff00" stroke-width="13" stroke-linejoin="miter" stroke-miterlimit="3"/>
<g fill="#00ff00"><rect x="387.6" y="1097" width="28" height="28"/><rect x="396.6" y="1050.2" width="28" height="28"/><rect x="405.6" y="1034.9" width="28" height="28"/><rect x="414.6" y="1074" width="28" height="28"/><rect x="423.6" y="1074" width="28" height="28"/><rect x="432.6" y="1089.3" width="28" height="28"/><rect x="441.6" y="1040" width="28" height="28"/><rect x="450.6" y="1063.8" width="28" height="28"/><rect x="459.6" y="890.5" width="28" height="28"/><rect x="468.7" y="943.1" width="28" height="28"/><rect x="477.7" y="1062.1" width="28" height="28"/><rect x="486.7" y="1027.3" width="28" height="28"/><rect x="495.7" y="1084.2" width="28" height="28"/><rect x="504.7" y="1024.7" width="28" height="28"/><rect x="513.7" y="836.1" width="28" height="28"/><rect x="522.7" y="1074" width="28" height="28"/><rect x="531.7" y="1031.5" width="28" height="28"/><rect x="540.7" y="1014.5" width="28" height="28"/><rect x="549.7" y="989.9" width="28" height="28"/><rect x="558.7" y="980.5" width="28" height="28"/><rect x="567.7" y="1079.1" width="28" height="28"/><rect x="576.7" y="1074" width="28" height="28"/><rect x="585.7" y="839.5" width="28" height="28"/><rect x="594.7" y="1091.9" width="28" height="28"/><rect x="603.7" y="1064.7" width="28" height="28"/><rect x="612.7" y="1041.7" width="28" height="28"/><rect x="621.7" y="1050.2" width="28" height="28"/><rect x="630.7" y="888.8" width="28" height="28"/><rect x="639.7" y="934.6" width="28" height="28"/><rect x="648.8" y="1055.3" width="28" height="28"/><rect x="657.8" y="1062.1" width="28" height="28"/><rect x="666.8" y="1045.1" width="28" height="28"/><rect x="675.8" y="1062.1" width="28" height="28"/><rect x="684.8" y="1024.7" width="28" height="28"/><rect x="693.8" y="895.5" width="28" height="28"/><rect x="702.8" y="999.2" width="28" height="28"/><rect x="711.8" y="989" width="28" height="28"/><rect x="720.8" y="1057" width="28" height="28"/><rect x="729.8" y="1097" width="28" height="28"/><rect x="738.8" y="1058.7" width="28" height="28"/><rect x="747.8" y="1094.4" width="28" height="28"/><rect x="756.8" y="1042.2" width="28" height="28"/><rect x="765.8" y="1019.6" width="28" height="28"/><rect x="774.8" y="1077.4" width="28" height="28"/><rect x="783.8" y="951.6" width="28" height="28"/><rect x="792.8" y="1074" width="28" height="28"/><rect x="801.8" y="1087.6" width="28" height="28"/><rect x="810.8" y="1009.4" width="28" height="28"/><rect x="819.8" y="1014.5" width="28" height="28"/><rect x="828.9" y="1000.9" width="28" height="28"/><rect x="837.9" y="1040" width="28" height="28"/><rect x="846.9" y="934.6" width="28" height="28"/><rect x="855.9" y="1079.1" width="28" height="28"/><rect x="864.9" y="980.5" width="28" height="28"/><rect x="873.9" y="1097" width="28" height="28"/><rect x="882.9" y="1099.5" width="28" height="28"/><rect x="891.9" y="927.8" width="28" height="28"/><rect x="900.9" y="1045.1" width="28" height="28"/><rect x="909.9" y="931.2" width="28" height="28"/><rect x="918.9" y="1014.5" width="28" height="28"/><rect x="927.9" y="1034.9" width="28" height="28"/><rect x="936.9" y="971.2" width="28" height="28"/><rect x="945.9" y="1059.6" width="28" height="28"/><rect x="954.9" y="1084.2" width="28" height="28"/><rect x="963.9" y="1072.3" width="28" height="28"/><rect x="972.9" y="1105.6" width="28" height="28"/><rect x="981.9" y="1060.4" width="28" height="28"/><rect x="990.9" y="1077.4" width="28" height="28"/><rect x="999.9" y="1084.2" width="28" height="28"/><rect x="1009" y="1097" width="28" height="28"/><rect x="1018" y="1074" width="28" height="28"/><rect x="1027" y="1023" width="28" height="28"/><rect x="1036" y="1077.4" width="28" height="28"/><rect x="1045" y="968.6" width="28" height="28"/><rect x="1054" y="1064.7" width="28" height="28"/><rect x="1063" y="1079.1" width="28" height="28"/><rect x="1072" y="1017.9" width="28" height="28"/><rect x="1081" y="1074" width="28" height="28"/><rect x="1090" y="897.2" width="28" height="28"/><rect x="1099" y="1055.3" width="28" height="28"/><rect x="1108" y="1105.6" width="28" height="28"/><rect x="1117" y="1014.5" width="28" height="28"/><rect x="1126" y="973.7" width="28" height="28"/><rect x="1135" y="1062.1" width="28" height="28"/><rect x="1144" y="1074" width="28" height="28"/><rect x="1153" y="1067.2" width="28" height="28"/><rect x="1162" y="1097" width="28" height="28"/><rect x="1171" y="1038.3" width="28" height="28"/><rect x="1180" y="1012.8" width="28" height="28"/><rect x="1189.1" y="1089.3" width="28" height="28"/><rect x="1198.1" y="1004.3" width="28" height="28"/><rect x="1207.1" y="1079.1" width="28" height="28"/><rect x="1216.1" y="912.5" width="28" height="28"/><rect x="1225.1" y="1023" width="28" height="28"/><rect x="1234.1" y="1100.7" width="28" height="28"/><rect x="1243.1" y="1019.6" width="28" height="28"/><rect x="1252.1" y="1012.8" width="28" height="28"/><rect x="1261.1" y="1006" width="28" height="28"/><rect x="1270.1" y="1070.6" width="28" height="28"/><rect x="1279.1" y="1023" width="28" height="28"/><rect x="1288.1" y="1089.3" width="28" height="28"/><rect x="1297.1" y="1041.7" width="28" height="28"/><rect x="1306.1" y="1064.7" width="28" height="28"/><rect x="1315.1" y="1089.3" width="28" height="28"/><rect x="1324.1" y="1055.3" width="28" height="28"/><rect x="1333.1" y="1034.9" width="28" height="28"/><rect x="1342.1" y="1034.9" width="28" height="28"/><rect x="1351.1" y="878.6" width="28" height="28"/><rect x="1360.1" y="1046.8" width="28" height="28"/><rect x="1369.2" y="1057" width="28" height="28"/><rect x="1378.2" y="1009.4" width="28" height="28"/><rect x="1387.2" y="1091" width="28" height="28"/><rect x="1396.2" y="995.8" width="28" height="28"/><rect x="1405.2" y="1064.7" width="28" height="28"/><rect x="1414.2" y="1105.6" width="28" height="28"/><rect x="1423.2" y="951.6" width="28" height="28"/><rect x="1432.2" y="975.4" width="28" height="28"/><rect x="1441.2" y="973.7" width="28" height="28"/><rect x="1450.2" y="1007.7" width="28" height="28"/><rect x="1459.2" y="1077.4" width="28" height="28"/><rect x="1468.2" y="977.1" width="28" height="28"/><rect x="1477.2" y="927.8" width="28" height="28"/><rect x="1486.2" y="975.4" width="28" height="28"/><rect x="1495.2" y="1046.8" width="28" height="28"/><rect x="1504.2" y="980.5" width="28" height="28"/><rect x="1513.2" y="1087.6" width="28" height="28"/><rect x="1522.2" y="912.5" width="28" height="28"/><rect x="1531.2" y="1024.7" width="28" height="28"/><rect x="1540.2" y="1087.6" width="28" height="28"/><rect x="1549.3" y="1091.9" width="28" height="28"/><rect x="1558.3" y="995.8" width="28" height="28"/><rect x="1567.3" y="1097" width="28" height="28"/><rect x="1576.3" y="1040" width="28" height="28"/><rect x="1585.3" y="922.7" width="28" height="28"/><rect x="1594.3" y="1105.6" width="28" height="28"/><rect x="1603.3" y="1079.1" width="28" height="28"/><rect x="1612.3" y="1102.1" width="28" height="28"/><rect x="1621.3" y="1046.8" width="28" height="28"/><rect x="1630.3" y="1079.1" width="28" height="28"/><rect x="1639.3" y="948.2" width="28" height="28"/><rect x="1648.3" y="1077.4" width="28" height="28"/><rect x="1657.3" y="1053.6" width="28" height="28"/><rect x="1666.3" y="1099.5" width="28" height="28"/><rect x="1675.3" y="1074" width="28" height="28"/><rect x="1684.3" y="1079.1" width="28" height="28"/><rect x="1693.3" y="1099.5" width="28" height="28"/><rect x="1702.3" y="1046.8" width="28" height="28"/><rect x="1711.3" y="1019.6" width="28" height="28"/><rect x="1720.3" y="1014.5" width="28" height="28"/><rect x="1729.4" y="1051.9" width="28" height="28"/><rect x="1738.4" y="1082.5" width="28" height="28"/><rect x="1747.4" y="1004.3" width="28" height="28"/><rect x="1756.4" y="1006" width="28" height="28"/><rect x="1765.4" y="1045.1" width="28" height="28"/><rect x="1774.4" y="1062.1" width="28" height="28"/><rect x="1783.4" y="1096.1" width="28" height="28"/><rect x="1792.4" y="1029.8" width="28" height="28"/><rect x="1801.4" y="863.3" width="28" height="28"/><rect x="1810.4" y="1036.6" width="28" height="28"/><rect x="1819.4" y="865" width="28" height="28"/><rect x="1828.4" y="1045.1" width="28" height="28"/><rect x="1837.4" y="1034.9" width="28" height="28"/><rect x="1846.4" y="985.6" width="28" height="28"/><rect x="1855.4" y="939.7" width="28" height="28"/><rect x="1864.4" y="1002.6" width="28" height="28"/><rect x="1873.4" y="985.6" width="28" height="28"/><rect x="1882.4" y="909.1" width="28" height="28"/><rect x="1891.4" y="892.2" width="28" height="28"/><rect x="1900.4" y="1017.9" width="28" height="28"/><rect x="1909.5" y="1017.9" width="28" height="28"/><rect x="1918.5" y="1096.1" width="28" height="28"/><rect x="1927.5" y="1050.2" width="28" height="28"/><rect x="1936.5" y="1074" width="28" height="28"/><rect x="1945.5" y="1079.1" width="28" height="28"/><rect x="1954.5" y="1027.3" width="28" height="28"/><rect x="1963.5" y="1023" width="28" height="28"/><rect x="1972.5" y="1023" width="28" height="28"/><rect x="1981.5" y="1064.7" width="28" height="28"/><rect x="1990.5" y="873.5" width="28" height="28"/><rect x="1999.5" y="1031.5" width="28" height="28"/></g>
</g>
<g>
<line x1="841.9" y1="1249.6" x2="841.9" y2="1673.5" stroke="#dfdfdf" stroke-width="2"/>
<line x1="1292.2" y1="1249.6" x2="1292.2" y2="1673.5" stroke="#dfdfdf" stroke-width="2"/>
<line x1="1742.4" y1="1249.6" x2="1742.4" y2="1673.5" stroke="#dfdfdf" stroke-width="2"/>
<path d="M391.7 1249.6V1673.5H2012.6" fill="none" stroke="#262626" stroke-width="2"/>
<line x1="391.7" y1="1673.5" x2="391.7" y2="1656.5" stroke="#262626" stroke-width="2"/>
<text x="391.7" y="1766" font-family="Liberation Sans, Arial, sans-serif" font-size="70" fill="#262626" text-anchor="middle">0</text>
<line x1="841.9" y1="1673.5" x2="841.9" y2="1656.5" stroke="#262626" stroke-width="2"/>
<text x="841.9" y="1766" font-family="Liberation Sans, Arial, sans-serif" font-size="70" fill="#262626" text-anchor="middle">50</text>
<line x1="1292.2" y1="1673.5" x2="1292.2" y2="1656.5" stroke="#262626" stroke-width="2"/>
<text x="1292.2" y="1766" font-family="Liberation Sans, Arial, sans-serif" font-size="70" fill="#262626" text-anchor="middle">100</text>
<line x1="1742.4" y1="1673.5" x2="1742.4" y2="1656.5" stroke="#262626" stroke-width="2"/>
<text x="1742.4" y="1766" font-family="Liberation Sans, Arial, sans-serif" font-size="70" fill="#262626" text-anchor="middle">150</text>
<line x1="391.7" y1="1673.5" x2="408.7" y2="1673.5" stroke="#262626" stroke-width="2"/>
<text x="370" y="1702.2" font-family="Liberation Sans, Arial, sans-serif" font-size="70" fill="#262626" text-anchor="end">0</text>
<line x1="391.7" y1="1461.5" x2="408.7" y2="1461.5" stroke="#262626" stroke-width="2"/>
<text x="370" y="1490.2" font-family="Liberation Sans, Arial, sans-serif" font-size="70" fill="#262626" text-anchor="end">10</text>
<line x1="391.7" y1="1249.6" x2="408.7" y2="1249.6" stroke="#262626" stroke-width="2"/>
<text x="370" y="1278.3" font-family="Liberation Sans, Arial, sans-serif" font-size="70" fill="#262626" text-anchor="end">20</text>
<text transform="translate(263 1473) rotate(-90)" font-family="Liberation Sans, Arial, sans-serif" font-size="77" fill="#262626" text-anchor="middle">Z_axis (m)</text>
<polyline points="401.6,1656.5 410.6,1406.4 419.6,1567.5 428.6,1499.7 437.6,1546.3 446.6,1588.7 455.6,1478.5 464.6,1567.5 473.6,1546.3 482.7,1393.7 491.7,1640.6 500.7,1427.6 509.7,1546.3 518.7,1436.1 527.7,1567.5 536.7,1442.5 545.7,1567.5 554.7,1510.3 563.7,1429.8 572.7,1476.4 581.7,1461.5 590.7,1546.3 599.7,1487 608.7,1618.4 617.7,1567.5 626.7,1639.6 635.7,1629 644.7,1609.9 653.7,1452 662.8,1546.3 671.8,1406.4 680.8,1503.9 689.8,1400.1 698.8,1567.5 707.8,1580.2 716.8,1667.1 725.8,1588.7 734.8,1643.8 743.8,1652.3 752.8,1419.2 761.8,1512.4 770.8,1341.8 779.8,1525.1 788.8,1478.5 797.8,1626.9 806.8,1495.5 815.8,1629 824.8,1451 833.8,1567.5 842.9,1321.7 851.9,1664.4 860.9,1546.3 869.9,1414.9 878.9,1567.5 887.9,1639.6 896.9,1567.5 905.9,1588.7 914.9,1467.9 923.9,1588.7 932.9,1643.8 941.9,1470 950.9,1319.5 959.9,1629 968.9,1567.5 977.9,1481.7 986.9,1661.8 995.9,1567.5 1004.9,1476.4 1013.9,1567.5 1023,1418.1 1032,1599.3 1041,1567.5 1050,1658 1059,1319.5 1068,1599.3 1077,1567.5 1086,1476.4 1095,1567.5 1104,1436.1 1113,1372.5 1122,1446.7 1131,1434 1140,1506.1 1149,1641.7 1158,1669.3 1167,1588.7 1176,1620.5 1185,1664.4 1194,1626.9 1203.1,1536.8 1212.1,1499.7 1221.1,1567.5 1230.1,1459.4 1239.1,1661.8 1248.1,1527.3 1257.1,1588.7 1266.1,1567.5 1275.1,1527.3 1284.1,1487 1293.1,1536.8 1302.1,1580.2 1311.1,1609.9 1320.1,1588.7 1329.1,1639.6 1338.1,1429.8 1347.1,1626.9 1356.1,1389.5 1365.1,1302.6 1374.1,1599.3 1383.2,1567.5 1392.2,1588.7 1401.2,1567.5 1410.2,1497.6 1419.2,1588.7 1428.2,1364.1 1437.2,1567.5 1446.2,1664.4 1455.2,1567.5 1464.2,1618.4 1473.2,1588.7 1482.2,1567.5 1491.2,1606.7 1500.2,1408.6 1509.2,1400.1 1518.2,1646.8 1527.2,1584.5 1536.2,1671.8 1545.2,1554.8 1554.2,1588.7 1563.3,1510.3 1572.3,1588.7 1581.3,1567.5 1590.3,1614.2 1599.3,1321.7 1608.3,1567.5 1617.3,1491.2 1626.3,1501.8 1635.3,1567.5 1644.3,1622.6 1653.3,1357.7 1662.3,1656.5 1671.3,1531.5 1680.3,1588.7 1689.3,1567.5 1698.3,1618.4 1707.3,1588.7 1716.3,1588.7 1725.3,1665.7 1734.3,1629 1743.4,1609.9 1752.4,1556.9 1761.4,1659.3 1770.4,1609.9 1779.4,1652.3 1788.4,1631.1 1797.4,1457.3 1806.4,1421.3 1815.4,1588.7 1824.4,1654.4 1833.4,1408.6 1842.4,1567.5 1851.4,1665.7 1860.4,1567.5 1869.4,1308.9 1878.4,1393.7 1887.4,1659.3 1896.4,1654.4 1905.4,1501.8 1914.4,1567.5 1923.5,1546.3 1932.5,1497.6 1941.5,1622.6 1950.5,1366.2 1959.5,1567.5 1968.5,1588.7 1977.5,1396.9 1986.5,1654.4 1995.5,1402.2 2004.5,1609.9 2013.5,1555.7" fill="none" stroke="#ff0000" stroke-width="13" stroke-linejoin="miter" stroke-miterlimit="3"/>
<g fill="#ff0000"><circle cx="401.6" cy="1656.5" r="16.8"/><circle cx="410.6" cy="1406.4" r="16.8"/><circle cx="419.6" cy="1567.5" r="16.8"/><circle cx="428.6" cy="1499.7" r="16.8"/><circle cx="437.6" cy="1546.3" r="16.8"/><circle cx="446.6" cy="1588.7" r="16.8"/><circle cx="455.6" cy="1478.5" r="16.8"/><circle cx="464.6" cy="1567.5" r="16.8"/><circle cx="473.6" cy="1546.3" r="16.8"/><circle cx="482.7" cy="1393.7" r="16.8"/><circle cx="491.7" cy="1640.6" r="16.8"/><circle cx="500.7" cy="1427.6" r="16.8"/><circle cx="509.7" cy="1546.3" r="16.8"/><circle cx="518.7" cy="1436.1" r="16.8"/><circle cx="527.7" cy="1567.5" r="16.8"/><circle cx="536.7" cy="1442.5" r="16.8"/><circle cx="545.7" cy="1567.5" r="16.8"/><circle cx="554.7" cy="1510.3" r="16.8"/><circle cx="563.7" cy="1429.8" r="16.8"/><circle cx="572.7" cy="1476.4" r="16.8"/><circle cx="581.7" cy="1461.5" r="16.8"/><circle cx="590.7" cy="1546.3" r="16.8"/><circle cx="599.7" cy="1487" r="16.8"/><circle cx="608.7" cy="1618.4" r="16.8"/><circle cx="617.7" cy="1567.5" r="16.8"/><circle cx="626.7" cy="1639.6" r="16.8"/><circle cx="635.7" cy="1629" r="16.8"/><circle cx="644.7" cy="1609.9" r="16.8"/><circle cx="653.7" cy="1452" r="16.8"/><circle cx="662.8" cy="1546.3" r="16.8"/><circle cx="671.8" cy="1406.4" r="16.8"/><circle cx="680.8" cy="1503.9" r="16.8"/><circle cx="689.8" cy="1400.1" r="16.8"/><circle cx="698.8" cy="1567.5" r="16.8"/><circle cx="707.8" cy="1580.2" r="16.8"/><circle cx="716.8" cy="1667.1" r="16.8"/><circle cx="725.8" cy="1588.7" r="16.8"/><circle cx="734.8" cy="1643.8" r="16.8"/><circle cx="743.8" cy="1652.3" r="16.8"/><circle cx="752.8" cy="1419.2" r="16.8"/><circle cx="761.8" cy="1512.4" r="16.8"/><circle cx="770.8" cy="1341.8" r="16.8"/><circle cx="779.8" cy="1525.1" r="16.8"/><circle cx="788.8" cy="1478.5" r="16.8"/><circle cx="797.8" cy="1626.9" r="16.8"/><circle cx="806.8" cy="1495.5" r="16.8"/><circle cx="815.8" cy="1629" r="16.8"/><circle cx="824.8" cy="1451" r="16.8"/><circle cx="833.8" cy="1567.5" r="16.8"/><circle cx="842.9" cy="1321.7" r="16.8"/><circle cx="851.9" cy="1664.4" r="16.8"/><circle cx="860.9" cy="1546.3" r="16.8"/><circle cx="869.9" cy="1414.9" r="16.8"/><circle cx="878.9" cy="1567.5" r="16.8"/><circle cx="887.9" cy="1639.6" r="16.8"/><circle cx="896.9" cy="1567.5" r="16.8"/><circle cx="905.9" cy="1588.7" r="16.8"/><circle cx="914.9" cy="1467.9" r="16.8"/><circle cx="923.9" cy="1588.7" r="16.8"/><circle cx="932.9" cy="1643.8" r="16.8"/><circle cx="941.9" cy="1470" r="16.8"/><circle cx="950.9" cy="1319.5" r="16.8"/><circle cx="959.9" cy="1629" r="16.8"/><circle cx="968.9" cy="1567.5" r="16.8"/><circle cx="977.9" cy="1481.7" r="16.8"/><circle cx="986.9" cy="1661.8" r="16.8"/><circle cx="995.9" cy="1567.5" r="16.8"/><circle cx="1004.9" cy="1476.4" r="16.8"/><circle cx="1013.9" cy="1567.5" r="16.8"/><circle cx="1023" cy="1418.1" r="16.8"/><circle cx="1032" cy="1599.3" r="16.8"/><circle cx="1041" cy="1567.5" r="16.8"/><circle cx="1050" cy="1658" r="16.8"/><circle cx="1059" cy="1319.5" r="16.8"/><circle cx="1068" cy="1599.3" r="16.8"/><circle cx="1077" cy="1567.5" r="16.8"/><circle cx="1086" cy="1476.4" r="16.8"/><circle cx="1095" cy="1567.5" r="16.8"/><circle cx="1104" cy="1436.1" r="16.8"/><circle cx="1113" cy="1372.5" r="16.8"/><circle cx="1122" cy="1446.7" r="16.8"/><circle cx="1131" cy="1434" r="16.8"/><circle cx="1140" cy="1506.1" r="16.8"/><circle cx="1149" cy="1641.7" r="16.8"/><circle cx="1158" cy="1669.3" r="16.8"/><circle cx="1167" cy="1588.7" r="16.8"/><circle cx="1176" cy="1620.5" r="16.8"/><circle cx="1185" cy="1664.4" r="16.8"/><circle cx="1194" cy="1626.9" r="16.8"/><circle cx="1203.1" cy="1536.8" r="16.8"/><circle cx="1212.1" cy="1499.7" r="16.8"/><circle cx="1221.1" cy="1567.5" r="16.8"/><circle cx="1230.1" cy="1459.4" r="16.8"/><circle cx="1239.1" cy="1661.8" r="16.8"/><circle cx="1248.1" cy="1527.3" r="16.8"/><circle cx="1257.1" cy="1588.7" r="16.8"/><circle cx="1266.1" cy="1567.5" r="16.8"/><circle cx="1275.1" cy="1527.3" r="16.8"/><circle cx="1284.1" cy="1487" r="16.8"/><circle cx="1293.1" cy="1536.8" r="16.8"/><circle cx="1302.1" cy="1580.2" r="16.8"/><circle cx="1311.1" cy="1609.9" r="16.8"/><circle cx="1320.1" cy="1588.7" r="16.8"/><circle cx="1329.1" cy="1639.6" r="16.8"/><circle cx="1338.1" cy="1429.8" r="16.8"/><circle cx="1347.1" cy="1626.9" r="16.8"/><circle cx="1356.1" cy="1389.5" r="16.8"/><circle cx="1365.1" cy="1302.6" r="16.8"/><circle cx="1374.1" cy="1599.3" r="16.8"/><circle cx="1383.2" cy="1567.5" r="16.8"/><circle cx="1392.2" cy="1588.7" r="16.8"/><circle cx="1401.2" cy="1567.5" r="16.8"/><circle cx="1410.2" cy="1497.6" r="16.8"/><circle cx="1419.2" cy="1588.7" r="16.8"/><circle cx="1428.2" cy="1364.1" r="16.8"/><circle cx="1437.2" cy="1567.5" r="16.8"/><circle cx="1446.2" cy="1664.4" r="16.8"/><circle cx="1455.2" cy="1567.5" r="16.8"/><circle cx="1464.2" cy="1618.4" r="16.8"/><circle cx="1473.2" cy="1588.7" r="16.8"/><circle cx="1482.2" cy="1567.5" r="16.8"/><circle cx="1491.2" cy="1606.7" r="16.8"/><circle cx="1500.2" cy="1408.6" r="16.8"/><circle cx="1509.2" cy="1400.1" r="16.8"/><circle cx="1518.2" cy="1646.8" r="16.8"/><circle cx="1527.2" cy="1584.5" r="16.8"/><circle cx="1536.2" cy="1671.8" r="16.8"/><circle cx="1545.2" cy="1554.8" r="16.8"/><circle cx="1554.2" cy="1588.7" r="16.8"/><circle cx="1563.3" cy="1510.3" r="16.8"/><circle cx="1572.3" cy="1588.7" r="16.8"/><circle cx="1581.3" cy="1567.5" r="16.8"/><circle cx="1590.3" cy="1614.2" r="16.8"/><circle cx="1599.3" cy="1321.7" r="16.8"/><circle cx="1608.3" cy="1567.5" r="16.8"/><circle cx="1617.3" cy="1491.2" r="16.8"/><circle cx="1626.3" cy="1501.8" r="16.8"/><circle cx="1635.3" cy="1567.5" r="16.8"/><circle cx="1644.3" cy="1622.6" r="16.8"/><circle cx="1653.3" cy="1357.7" r="16.8"/><circle cx="1662.3" cy="1656.5" r="16.8"/><circle cx="1671.3" cy="1531.5" r="16.8"/><circle cx="1680.3" cy="1588.7" r="16.8"/><circle cx="1689.3" cy="1567.5" r="16.8"/><circle cx="1698.3" cy="1618.4" r="16.8"/><circle cx="1707.3" cy="1588.7" r="16.8"/><circle cx="1716.3" cy="1588.7" r="16.8"/><circle cx="1725.3" cy="1665.7" r="16.8"/><circle cx="1734.3" cy="1629" r="16.8"/><circle cx="1743.4" cy="1609.9" r="16.8"/><circle cx="1752.4" cy="1556.9" r="16.8"/><circle cx="1761.4" cy="1659.3" r="16.8"/><circle cx="1770.4" cy="1609.9" r="16.8"/><circle cx="1779.4" cy="1652.3" r="16.8"/><circle cx="1788.4" cy="1631.1" r="16.8"/><circle cx="1797.4" cy="1457.3" r="16.8"/><circle cx="1806.4" cy="1421.3" r="16.8"/><circle cx="1815.4" cy="1588.7" r="16.8"/><circle cx="1824.4" cy="1654.4" r="16.8"/><circle cx="1833.4" cy="1408.6" r="16.8"/><circle cx="1842.4" cy="1567.5" r="16.8"/><circle cx="1851.4" cy="1665.7" r="16.8"/><circle cx="1860.4" cy="1567.5" r="16.8"/><circle cx="1869.4" cy="1308.9" r="16.8"/><circle cx="1878.4" cy="1393.7" r="16.8"/><circle cx="1887.4" cy="1659.3" r="16.8"/><circle cx="1896.4" cy="1654.4" r="16.8"/><circle cx="1905.4" cy="1501.8" r="16.8"/><circle cx="1914.4" cy="1567.5" r="16.8"/><circle cx="1923.5" cy="1546.3" r="16.8"/><circle cx="1932.5" cy="1497.6" r="16.8"/><circle cx="1941.5" cy="1622.6" r="16.8"/><circle cx="1950.5" cy="1366.2" r="16.8"/><circle cx="1959.5" cy="1567.5" r="16.8"/><circle cx="1968.5" cy="1588.7" r="16.8"/><circle cx="1977.5" cy="1396.9" r="16.8"/><circle cx="1986.5" cy="1654.4" r="16.8"/><circle cx="1995.5" cy="1402.2" r="16.8"/><circle cx="2004.5" cy="1609.9" r="16.8"/><circle cx="2013.5" cy="1555.7" r="16.8"/></g>
<polyline points="401.6,1649.1 410.6,1448.8 419.6,1614.2 428.6,1537.9 437.6,1584.5 446.6,1484.9 455.6,1529.4 464.6,1638.1 473.6,1409.4 482.7,1489.1 491.7,1470 500.7,1603.6 509.7,1478.5 518.7,1603.6 527.7,1662.9 536.7,1520.9 545.7,1671.8 554.7,1554.8 563.7,1531.5 572.7,1554.8 581.7,1601.4 590.7,1533.6 599.7,1509.2 608.7,1673.5 617.7,1554.8 626.7,1515.6 635.7,1570.7 644.7,1514.5 653.7,1503.9 662.8,1470 671.8,1658 680.8,1525.1 689.8,1664.4 698.8,1478.5 707.8,1508.2 716.8,1542.1 725.8,1595.1 734.8,1512.4 743.8,1639.6 752.8,1540 761.8,1565.4 770.8,1634.3 779.8,1463.7 788.8,1565.4 797.8,1527.3 806.8,1554.8 815.8,1518.8 824.8,1516.7 833.8,1669.3 842.9,1546.3 851.9,1609.9 860.9,1361.9 869.9,1634.3 878.9,1427.6 887.9,1565.4 896.9,1442.5 905.9,1668.2 914.9,1597.2 923.9,1597.2 932.9,1634.3 941.9,1639.6 950.9,1446.7 959.9,1599.3 968.9,1546.3 977.9,1554.8 986.9,1668.2 995.9,1525.1 1004.9,1629 1013.9,1536.8 1023,1536.8 1032,1556.9 1041,1609.9 1050,1614.2 1059,1444.6 1068,1554.8 1077,1624.8 1086,1580.2 1095,1625.6 1104,1552.7 1113,1523 1122,1559 1131,1559 1140,1622.6 1149,1626.9 1158,1523 1167,1552.7 1176,1485.5 1185,1588.7 1194,1580.2 1203.1,1546.3 1212.1,1586.6 1221.1,1595.1 1230.1,1516.7 1239.1,1659.3 1248.1,1536.8 1257.1,1669.3 1266.1,1546.3 1275.1,1561.2 1284.1,1652.3 1293.1,1580.2 1302.1,1641.7 1311.1,1665.7 1320.1,1619.2 1329.1,1585.5 1338.1,1474.3 1347.1,1544.2 1356.1,1383.1 1365.1,1489.1 1374.1,1661.8 1383.2,1508.2 1392.2,1664.4 1401.2,1580.2 1410.2,1518.8 1419.2,1643.8 1428.2,1580.2 1437.2,1493.3 1446.2,1641.7 1455.2,1506.9 1464.2,1673.5 1473.2,1673.5 1482.2,1535.7 1491.2,1599.3 1500.2,1523 1509.2,1455.2 1518.2,1641.7 1527.2,1626.9 1536.2,1661.8 1545.2,1571.8 1554.2,1652.3 1563.3,1443.1 1572.3,1639.6 1581.3,1641.7 1590.3,1584.5 1599.3,1431.9 1608.3,1603.6 1617.3,1646.8 1626.3,1529.4 1635.3,1528.1 1644.3,1603.6 1653.3,1554.8 1662.3,1639.6 1671.3,1603.6 1680.3,1584.5 1689.3,1544.2 1698.3,1529.4 1707.3,1626.9 1716.3,1584.5 1725.3,1482.7 1734.3,1573.9 1743.4,1548.4 1752.4,1603.6 1761.4,1603.6 1770.4,1573.9 1779.4,1599.3 1788.4,1597.2 1797.4,1528.1 1806.4,1586.6 1815.4,1620.5 1824.4,1643.8 1833.4,1494.4 1842.4,1554.8 1851.4,1559 1860.4,1573.9 1869.4,1393.7 1878.4,1533.6 1887.4,1641.7 1896.4,1590.8 1905.4,1515.6 1914.4,1603.6 1923.5,1508.2 1932.5,1643.8 1941.5,1588.7 1950.5,1567.5 1959.5,1603.6 1968.5,1619.2 1977.5,1527.3 1986.5,1544.2 1995.5,1552.7 2004.5,1590.8 2013.5,1465.8" fill="none" stroke="#00ff00" stroke-width="13" stroke-linejoin="miter" stroke-miterlimit="3"/>
<g fill="#00ff00"><rect x="387.6" y="1635.1" width="28" height="28"/><rect x="396.6" y="1434.8" width="28" height="28"/><rect x="405.6" y="1600.2" width="28" height="28"/><rect x="414.6" y="1523.9" width="28" height="28"/><rect x="423.6" y="1570.5" width="28" height="28"/><rect x="432.6" y="1470.9" width="28" height="28"/><rect x="441.6" y="1515.4" width="28" height="28"/><rect x="450.6" y="1624.1" width="28" height="28"/><rect x="459.6" y="1395.4" width="28" height="28"/><rect x="468.7" y="1475.1" width="28" height="28"/><rect x="477.7" y="1456" width="28" height="28"/><rect x="486.7" y="1589.6" width="28" height="28"/><rect x="495.7" y="1464.5" width="28" height="28"/><rect x="504.7" y="1589.6" width="28" height="28"/><rect x="513.7" y="1648.9" width="28" height="28"/><rect x="522.7" y="1506.9" width="28" height="28"/><rect x="531.7" y="1657.8" width="28" height="28"/><rect x="540.7" y="1540.8" width="28" height="28"/><rect x="549.7" y="1517.5" width="28" height="28"/><rect x="558.7" y="1540.8" width="28" height="28"/><rect x="567.7" y="1587.4" width="28" height="28"/><rect x="576.7" y="1519.6" width="28" height="28"/><rect x="585.7" y="1495.2" width="28" height="28"/><rect x="594.7" y="1659.5" width="28" height="28"/><rect x="603.7" y="1540.8" width="28" height="28"/><rect x="612.7" y="1501.6" width="28" height="28"/><rect x="621.7" y="1556.7" width="28" height="28"/><rect x="630.7" y="1500.5" width="28" height="28"/><rect x="639.7" y="1489.9" width="28" height="28"/><rect x="648.8" y="1456" width="28" height="28"/><rect x="657.8" y="1644" width="28" height="28"/><rect x="666.8" y="1511.1" width="28" height="28"/><rect x="675.8" y="1650.4" width="28" height="28"/><rect x="684.8" y="1464.5" width="28" height="28"/><rect x="693.8" y="1494.2" width="28" height="28"/><rect x="702.8" y="1528.1" width="28" height="28"/><rect x="711.8" y="1581.1" width="28" height="28"/><rect x="720.8" y="1498.4" width="28" height="28"/><rect x="729.8" y="1625.6" width="28" height="28"/><rect x="738.8" y="1526" width="28" height="28"/><rect x="747.8" y="1551.4" width="28" height="28"/><rect x="756.8" y="1620.3" width="28" height="28"/><rect x="765.8" y="1449.7" width="28" height="28"/><rect x="774.8" y="1551.4" width="28" height="28"/><rect x="783.8" y="1513.3" width="28" height="28"/><rect x="792.8" y="1540.8" width="28" height="28"/><rect x="801.8" y="1504.8" width="28" height="28"/><rect x="810.8" y="1502.7" width="28" height="28"/><rect x="819.8" y="1655.3" width="28" height="28"/><rect x="828.9" y="1532.3" width="28" height="28"/><rect x="837.9" y="1595.9" width="28" height="28"/><rect x="846.9" y="1347.9" width="28" height="28"/><rect x="855.9" y="1620.3" width="28" height="28"/><rect x="864.9" y="1413.6" width="28" height="28"/><rect x="873.9" y="1551.4" width="28" height="28"/><rect x="882.9" y="1428.5" width="28" height="28"/><rect x="891.9" y="1654.2" width="28" height="28"/><rect x="900.9" y="1583.2" width="28" height="28"/><rect x="909.9" y="1583.2" width="28" height="28"/><rect x="918.9" y="1620.3" width="28" height="28"/><rect x="927.9" y="1625.6" width="28" height="28"/><rect x="936.9" y="1432.7" width="28" height="28"/><rect x="945.9" y="1585.3" width="28" height="28"/><rect x="954.9" y="1532.3" width="28" height="28"/><rect x="963.9" y="1540.8" width="28" height="28"/><rect x="972.9" y="1654.2" width="28" height="28"/><rect x="981.9" y="1511.1" width="28" height="28"/><rect x="990.9" y="1615" width="28" height="28"/><rect x="999.9" y="1522.8" width="28" height="28"/><rect x="1009" y="1522.8" width="28" height="28"/><rect x="1018" y="1542.9" width="28" height="28"/><rect x="1027" y="1595.9" width="28" height="28"/><rect x="1036" y="1600.2" width="28" height="28"/><rect x="1045" y="1430.6" width="28" height="28"/><rect x="1054" y="1540.8" width="28" height="28"/><rect x="1063" y="1610.8" width="28" height="28"/><rect x="1072" y="1566.2" width="28" height="28"/><rect x="1081" y="1611.6" width="28" height="28"/><rect x="1090" y="1538.7" width="28" height="28"/><rect x="1099" y="1509" width="28" height="28"/><rect x="1108" y="1545" width="28" height="28"/><rect x="1117" y="1545" width="28" height="28"/><rect x="1126" y="1608.6" width="28" height="28"/><rect x="1135" y="1612.9" width="28" height="28"/><rect x="1144" y="1509" width="28" height="28"/><rect x="1153" y="1538.7" width="28" height="28"/><rect x="1162" y="1471.5" width="28" height="28"/><rect x="1171" y="1574.7" width="28" height="28"/><rect x="1180" y="1566.2" width="28" height="28"/><rect x="1189.1" y="1532.3" width="28" height="28"/><rect x="1198.1" y="1572.6" width="28" height="28"/><rect x="1207.1" y="1581.1" width="28" height="28"/><rect x="1216.1" y="1502.7" width="28" height="28"/><rect x="1225.1" y="1645.3" width="28" height="28"/><rect x="1234.1" y="1522.8" width="28" height="28"/><rect x="1243.1" y="1655.3" width="28" height="28"/><rect x="1252.1" y="1532.3" width="28" height="28"/><rect x="1261.1" y="1547.2" width="28" height="28"/><rect x="1270.1" y="1638.3" width="28" height="28"/><rect x="1279.1" y="1566.2" width="28" height="28"/><rect x="1288.1" y="1627.7" width="28" height="28"/><rect x="1297.1" y="1651.7" width="28" height="28"/><rect x="1306.1" y="1605.2" width="28" height="28"/><rect x="1315.1" y="1571.5" width="28" height="28"/><rect x="1324.1" y="1460.3" width="28" height="28"/><rect x="1333.1" y="1530.2" width="28" height="28"/><rect x="1342.1" y="1369.1" width="28" height="28"/><rect x="1351.1" y="1475.1" width="28" height="28"/><rect x="1360.1" y="1647.8" width="28" height="28"/><rect x="1369.2" y="1494.2" width="28" height="28"/><rect x="1378.2" y="1650.4" width="28" height="28"/><rect x="1387.2" y="1566.2" width="28" height="28"/><rect x="1396.2" y="1504.8" width="28" height="28"/><rect x="1405.2" y="1629.8" width="28" height="28"/><rect x="1414.2" y="1566.2" width="28" height="28"/><rect x="1423.2" y="1479.3" width="28" height="28"/><rect x="1432.2" y="1627.7" width="28" height="28"/><rect x="1441.2" y="1492.9" width="28" height="28"/><rect x="1450.2" y="1659.5" width="28" height="28"/><rect x="1459.2" y="1659.5" width="28" height="28"/><rect x="1468.2" y="1521.7" width="28" height="28"/><rect x="1477.2" y="1585.3" width="28" height="28"/><rect x="1486.2" y="1509" width="28" height="28"/><rect x="1495.2" y="1441.2" width="28" height="28"/><rect x="1504.2" y="1627.7" width="28" height="28"/><rect x="1513.2" y="1612.9" width="28" height="28"/><rect x="1522.2" y="1647.8" width="28" height="28"/><rect x="1531.2" y="1557.8" width="28" height="28"/><rect x="1540.2" y="1638.3" width="28" height="28"/><rect x="1549.3" y="1429.1" width="28" height="28"/><rect x="1558.3" y="1625.6" width="28" height="28"/><rect x="1567.3" y="1627.7" width="28" height="28"/><rect x="1576.3" y="1570.5" width="28" height="28"/><rect x="1585.3" y="1417.9" width="28" height="28"/><rect x="1594.3" y="1589.6" width="28" height="28"/><rect x="1603.3" y="1632.8" width="28" height="28"/><rect x="1612.3" y="1515.4" width="28" height="28"/><rect x="1621.3" y="1514.1" width="28" height="28"/><rect x="1630.3" y="1589.6" width="28" height="28"/><rect x="1639.3" y="1540.8" width="28" height="28"/><rect x="1648.3" y="1625.6" width="28" height="28"/><rect x="1657.3" y="1589.6" width="28" height="28"/><rect x="1666.3" y="1570.5" width="28" height="28"/><rect x="1675.3" y="1530.2" width="28" height="28"/><rect x="1684.3" y="1515.4" width="28" height="28"/><rect x="1693.3" y="1612.9" width="28" height="28"/><rect x="1702.3" y="1570.5" width="28" height="28"/><rect x="1711.3" y="1468.7" width="28" height="28"/><rect x="1720.3" y="1559.9" width="28" height="28"/><rect x="1729.4" y="1534.4" width="28" height="28"/><rect x="1738.4" y="1589.6" width="28" height="28"/><rect x="1747.4" y="1589.6" width="28" height="28"/><rect x="1756.4" y="1559.9" width="28" height="28"/><rect x="1765.4" y="1585.3" width="28" height="28"/><rect x="1774.4" y="1583.2" width="28" height="28"/><rect x="1783.4" y="1514.1" width="28" height="28"/><rect x="1792.4" y="1572.6" width="28" height="28"/><rect x="1801.4" y="1606.5" width="28" height="28"/><rect x="1810.4" y="1629.8" width="28" height="28"/><rect x="1819.4" y="1480.4" width="28" height="28"/><rect x="1828.4" y="1540.8" width="28" height="28"/><rect x="1837.4" y="1545" width="28" height="28"/><rect x="1846.4" y="1559.9" width="28" height="28"/><rect x="1855.4" y="1379.7" width="28" height="28"/><rect x="1864.4" y="1519.6" width="28" height="28"/><rect x="1873.4" y="1627.7" width="28" height="28"/><rect x="1882.4" y="1576.8" width="28" height="28"/><rect x="1891.4" y="1501.6" width="28" height="28"/><rect x="1900.4" y="1589.6" width="28" height="28"/><rect x="1909.5" y="1494.2" width="28" height="28"/><rect x="1918.5" y="1629.8" width="28" height="28"/><rect x="1927.5" y="1574.7" width="28" height="28"/><rect x="1936.5" y="1553.5" width="28" height="28"/><rect x="1945.5" y="1589.6" width="28" height="28"/><rect x="1954.5" y="1605.2" width="28" height="28"/><rect x="1963.5" y="1513.3" width="28" height="28"/><rect x="1972.5" y="1530.2" width="28" height="28"/><rect x="1981.5" y="1538.7" width="28" height="28"/><rect x="1990.5" y="1576.8" width="28" height="28"/><rect x="1999.5" y="1451.8" width="28" height="28"/></g>
</g>
<text x="1205" y="88.5" font-family="Liberation Sans, Arial, sans-serif" font-size="77.1" fill="#000" text-anchor="middle">position errors (m)</text>
<line x1="426" y1="87.3" x2="542.6" y2="87.3" stroke="#ff0000" stroke-width="13"/><circle cx="484.6" cy="87.3" r="16.8" fill="#ff0000"/>
<line x1="426" y1="166.3" x2="542.6" y2="166.3" stroke="#00ff00" stroke-width="13"/><rect x="470.6" y="152.3" width="28" height="28" fill="#00ff00"/>
<text x="550" y="111" font-family="Liberation Sans, Arial, sans-serif" font-size="63" fill="#000">UAV01</text>
<text x="550" y="190.5" font-family="Liberation Sans, Arial, sans-serif" font-size="63.3" fill="#000">UAV01-CoVDLL</text>
<text x="1204" y="1864" font-family="Liberation Sans, Arial, sans-serif" font-size="77" fill="#262626" text-anchor="middle">Time (s)</text>
<text x="440" y="2013.5" font-family="Liberation Serif, Times New Roman, serif" font-size="84" fill="#000" textLength="1390" lengthAdjust="spacingAndGlyphs">(<tspan font-weight="bold">a</tspan>) three-axis position errors (UAV01)</text>
<text x="207" y="3805" font-family="Liberation Serif, Times New Roman, serif" font-size="84" fill="#000" textLength="1859" lengthAdjust="spacingAndGlyphs">(<tspan font-weight="bold">b</tspan>) three-axis position errors distribution (UAV01)</text>
<line x1="447.9" y1="2202.5" x2="447.9" y2="3440" stroke="#dfdfdf" stroke-width="2"/>
<line x1="608.9" y1="2202.5" x2="608.9" y2="3440" stroke="#dfdfdf" stroke-width="2"/>
<line x1="770" y1="2202.5" x2="770" y2="3440" stroke="#dfdfdf" stroke-width="2"/>
<path d="M286.8 2202.5V3440H770" fill="none" stroke="#262626" stroke-width="2"/>
<line x1="286.8" y1="3440" x2="286.8" y2="3428" stroke="#262626" stroke-width="2"/>
<text x="286.8" y="3544.3" font-family="Liberation Sans, Arial, sans-serif" font-size="80" fill="#262626" text-anchor="middle">0</text>
<line x1="447.9" y1="3440" x2="447.9" y2="3428" stroke="#262626" stroke-width="2"/>
<text x="447.9" y="3544.3" font-family="Liberation Sans, Arial, sans-serif" font-size="80" fill="#262626" text-anchor="middle">10</text>
<line x1="608.9" y1="3440" x2="608.9" y2="3428" stroke="#262626" stroke-width="2"/>
<text x="608.9" y="3544.3" font-family="Liberation Sans, Arial, sans-serif" font-size="80" fill="#262626" text-anchor="middle">20</text>
<line x1="770" y1="3440" x2="770" y2="3428" stroke="#262626" stroke-width="2"/>
<text x="770" y="3544.3" font-family="Liberation Sans, Arial, sans-serif" font-size="80" fill="#262626" text-anchor="middle">30</text>
<line x1="286.8" y1="3440" x2="298.8" y2="3440" stroke="#262626" stroke-width="2"/>
<text x="260.6" y="3471" font-family="Liberation Sans, Arial, sans-serif" font-size="80" fill="#262626" text-anchor="end">0</text>
<line x1="286.8" y1="3192.5" x2="298.8" y2="3192.5" stroke="#262626" stroke-width="2"/>
<text x="260.6" y="3223.5" font-family="Liberation Sans, Arial, sans-serif" font-size="80" fill="#262626" text-anchor="end">0.2</text>
<line x1="286.8" y1="2945" x2="298.8" y2="2945" stroke="#262626" stroke-width="2"/>
<text x="260.6" y="2976" font-family="Liberation Sans, Arial, sans-serif" font-size="80" fill="#262626" text-anchor="end">0.4</text>
<line x1="286.8" y1="2697.5" x2="298.8" y2="2697.5" stroke="#262626" stroke-width="2"/>
<text x="260.6" y="2728.5" font-family="Liberation Sans, Arial, sans-serif" font-size="80" fill="#262626" text-anchor="end">0.6</text>
<line x1="286.8" y1="2450" x2="298.8" y2="2450" stroke="#262626" stroke-width="2"/>
<text x="260.6" y="2481" font-family="Liberation Sans, Arial, sans-serif" font-size="80" fill="#262626" text-anchor="end">0.8</text>
<line x1="286.8" y1="2202.5" x2="298.8" y2="2202.5" stroke="#262626" stroke-width="2"/>
<text x="260.6" y="2233.5" font-family="Liberation Sans, Arial, sans-serif" font-size="80" fill="#262626" text-anchor="end">1</text>
<text x="556.7" y="3649" font-family="Liberation Sans, Arial, sans-serif" font-size="88" fill="#262626" text-anchor="middle">X_axis (m)</text>
<polyline points="287.2,3440 287.2,3440 287.2,3436.6 288.3,3436.6 288.3,3433.1 289.2,3433.1 289.2,3429.7 289.3,3429.7 289.3,3426.2 289.3,3426.2 289.3,3422.8 289.4,3422.8 289.4,3419.4 289.5,3419.4 289.5,3415.9 289.5,3415.9 289.5,3412.5 290.3,3412.5 290.3,3409.1 290.3,3409.1 290.3,3405.6 291,3405.6 291,3402.2 291,3402.2 291,3398.8 291.7,3398.8 291.7,3395.3 291.7,3395.3 291.7,3391.9 291.9,3391.9 291.9,3388.4 291.9,3388.4 291.9,3385 291.9,3385 291.9,3381.6 292.2,3381.6 292.2,3378.1 292.9,3378.1 292.9,3374.7 293.2,3374.7 293.2,3371.2 293.3,3371.2 293.3,3367.8 293.6,3367.8 293.6,3364.4 293.6,3364.4 293.6,3360.9 293.9,3360.9 293.9,3357.5 294,3357.5 294,3354.1 294.1,3354.1 294.1,3350.6 294.1,3350.6 294.1,3347.2 294.6,3347.2 294.6,3343.8 294.7,3343.8 294.7,3340.3 294.8,3340.3 294.8,3336.9 294.9,3336.9 294.9,3333.4 295,3333.4 295,3330 295,3330 295,3326.6 295.1,3326.6 295.1,3323.1 295.5,3323.1 295.5,3319.7 295.8,3319.7 295.8,3316.2 296.5,3316.2 296.5,3312.8 297,3312.8 297,3309.4 297,3309.4 297,3305.9 297.5,3305.9 297.5,3302.5 297.6,3302.5 297.6,3299.1 297.9,3299.1 297.9,3295.6 298.9,3295.6 298.9,3292.2 299.1,3292.2 299.1,3288.8 299.2,3288.8 299.2,3285.3 299.3,3285.3 299.3,3281.9 299.5,3281.9 299.5,3278.4 299.6,3278.4 299.6,3275 300.4,3275 300.4,3271.6 300.4,3271.6 300.4,3268.1 300.4,3268.1 300.4,3264.7 300.6,3264.7 300.6,3261.2 300.7,3261.2 300.7,3257.8 301.2,3257.8 301.2,3254.4 301.3,3254.4 301.3,3250.9 301.7,3250.9 301.7,3247.5 301.8,3247.5 301.8,3244.1 301.9,3244.1 301.9,3240.6 302,3240.6 302,3237.2 302.3,3237.2 302.3,3233.8 303.1,3233.8 303.1,3230.3 303.2,3230.3 303.2,3226.9 303.5,3226.9 303.5,3223.4 303.9,3223.4 303.9,3220 304,3220 304,3216.6 304.1,3216.6 304.1,3213.1 304.4,3213.1 304.4,3209.7 304.6,3209.7 304.6,3206.2 305,3206.2 305,3202.8 305,3202.8 305,3199.4 305.1,3199.4 305.1,3195.9 305.5,3195.9 305.5,3192.5 305.7,3192.5 305.7,3189.1 307,3189.1 307,3185.6 307.3,3185.6 307.3,3182.2 307.3,3182.2 307.3,3178.8 307.6,3178.8 307.6,3175.3 308.3,3175.3 308.3,3171.9 308.4,3171.9 308.4,3168.4 309.6,3168.4 309.6,3165 309.7,3165 309.7,3161.6 309.9,3161.6 309.9,3158.1 310.1,3158.1 310.1,3154.7 310.9,3154.7 310.9,3151.2 311,3151.2 311,3147.8 311.9,3147.8 311.9,3144.4 312,3144.4 312,3140.9 312.1,3140.9 312.1,3137.5 312.5,3137.5 312.5,3134.1 312.6,3134.1 312.6,3130.6 313.2,3130.6 313.2,3127.2 314.8,3127.2 314.8,3123.8 315.2,3123.8 315.2,3120.3 315.4,3120.3 315.4,3116.9 315.7,3116.9 315.7,3113.4 316,3113.4 316,3110 316.2,3110 316.2,3106.6 316.2,3106.6 316.2,3103.1 316.3,3103.1 316.3,3099.7 316.4,3099.7 316.4,3096.2 316.5,3096.2 316.5,3092.8 316.6,3092.8 316.6,3089.4 317.3,3089.4 317.3,3085.9 317.6,3085.9 317.6,3082.5 317.6,3082.5 317.6,3079.1 317.8,3079.1 317.8,3075.6 317.9,3075.6 317.9,3072.2 318,3072.2 318,3068.8 318.3,3068.8 318.3,3065.3 318.7,3065.3 318.7,3061.9 319.2,3061.9 319.2,3058.4 319.2,3058.4 319.2,3055 319.3,3055 319.3,3051.6 319.3,3051.6 319.3,3048.1 319.5,3048.1 319.5,3044.7 320.8,3044.7 320.8,3041.2 321.2,3041.2 321.2,3037.8 321.7,3037.8 321.7,3034.4 321.8,3034.4 321.8,3030.9 321.9,3030.9 321.9,3027.5 322,3027.5 322,3024.1 322.1,3024.1 322.1,3020.6 322.2,3020.6 322.2,3017.2 322.6,3017.2 322.6,3013.8 323.1,3013.8 323.1,3010.3 323.2,3010.3 323.2,3006.9 323.3,3006.9 323.3,3003.4 323.4,3003.4 323.4,3000 324.1,3000 324.1,2996.6 324.5,2996.6 324.5,2993.1 324.6,2993.1 324.6,2989.7 324.7,2989.7 324.7,2986.2 325.1,2986.2 325.1,2982.8 325.3,2982.8 325.3,2979.4 325.9,2979.4 325.9,2975.9 326,2975.9 326,2972.5 326.7,2972.5 326.7,2969.1 327,2969.1 327,2965.6 327.1,2965.6 327.1,2962.2 327.5,2962.2 327.5,2958.8 327.7,2958.8 327.7,2955.3 328.1,2955.3 328.1,2951.9 328.1,2951.9 328.1,2948.4 328.1,2948.4 328.1,2945 328.4,2945 328.4,2941.6 329.3,2941.6 329.3,2938.1 329.6,2938.1 329.6,2934.7 329.8,2934.7 329.8,2931.2 329.9,2931.2 329.9,2927.8 330.5,2927.8 330.5,2924.4 330.7,2924.4 330.7,2920.9 330.7,2920.9 330.7,2917.5 331.2,2917.5 331.2,2914.1 331.6,2914.1 331.6,2910.6 332.5,2910.6 332.5,2907.2 332.6,2907.2 332.6,2903.8 333.1,2903.8 333.1,2900.3 333.2,2900.3 333.2,2896.9 333.3,2896.9 333.3,2893.4 333.8,2893.4 333.8,2890 334.4,2890 334.4,2886.6 334.9,2886.6 334.9,2883.1 335,2883.1 335,2879.7 335.1,2879.7 335.1,2876.2 335.2,2876.2 335.2,2872.8 335.4,2872.8 335.4,2869.4 335.4,2869.4 335.4,2865.9 335.8,2865.9 335.8,2862.5 336.2,2862.5 336.2,2859.1 336.6,2859.1 336.6,2855.6 337.4,2855.6 337.4,2852.2 338.2,2852.2 338.2,2848.8 338.5,2848.8 338.5,2845.3 338.6,2845.3 338.6,2841.9 338.9,2841.9 338.9,2838.4 339.4,2838.4 339.4,2835 339.4,2835 339.4,2831.6 339.5,2831.6 339.5,2828.1 339.6,2828.1 339.6,2824.7 340.2,2824.7 340.2,2821.2 340.4,2821.2 340.4,2817.8 340.8,2817.8 340.8,2814.4 341.7,2814.4 341.7,2810.9 341.7,2810.9 341.7,2807.5 342,2807.5 342,2804.1 342.3,2804.1 342.3,2800.6 342.5,2800.6 342.5,2797.2 342.5,2797.2 342.5,2793.8 342.6,2793.8 342.6,2790.3 342.6,2790.3 342.6,2786.9 342.8,2786.9 342.8,2783.4 342.8,2783.4 342.8,2780 343,2780 343,2776.6 343,2776.6 343,2773.1 343.4,2773.1 343.4,2769.7 343.6,2769.7 343.6,2766.2 343.7,2766.2 343.7,2762.8 343.8,2762.8 343.8,2759.4 343.9,2759.4 343.9,2755.9 344.2,2755.9 344.2,2752.5 344.5,2752.5 344.5,2749.1 344.6,2749.1 344.6,2745.6 344.7,2745.6 344.7,2742.2 345.5,2742.2 345.5,2738.8 345.9,2738.8 345.9,2735.3 346.2,2735.3 346.2,2731.9 346.9,2731.9 346.9,2728.4 346.9,2728.4 346.9,2725 347.7,2725 347.7,2721.6 347.9,2721.6 347.9,2718.1 348.7,2718.1 348.7,2714.7 349,2714.7 349,2711.2 349.6,2711.2 349.6,2707.8 350.3,2707.8 350.3,2704.4 350.8,2704.4 350.8,2700.9 350.9,2700.9 350.9,2697.5 351,2697.5 351,2694.1 351.3,2694.1 351.3,2690.6 352.1,2690.6 352.1,2687.2 352.9,2687.2 352.9,2683.8 352.9,2683.8 352.9,2680.3 353.3,2680.3 353.3,2676.9 354.3,2676.9 354.3,2673.4 355.7,2673.4 355.7,2670 356.4,2670 356.4,2666.6 356.6,2666.6 356.6,2663.1 357.1,2663.1 357.1,2659.7 357.4,2659.7 357.4,2656.2 357.6,2656.2 357.6,2652.8 357.9,2652.8 357.9,2649.4 358.8,2649.4 358.8,2645.9 359.2,2645.9 359.2,2642.5 359.4,2642.5 359.4,2639.1 359.6,2639.1 359.6,2635.6 359.6,2635.6 359.6,2632.2 360,2632.2 360,2628.8 360.4,2628.8 360.4,2625.3 360.5,2625.3 360.5,2621.9 360.7,2621.9 360.7,2618.4 362.7,2618.4 362.7,2615 363.3,2615 363.3,2611.6 363.7,2611.6 363.7,2608.1 364.3,2608.1 364.3,2604.7 365.4,2604.7 365.4,2601.2 366.4,2601.2 366.4,2597.8 366.7,2597.8 366.7,2594.4 367.4,2594.4 367.4,2590.9 367.5,2590.9 367.5,2587.5 367.8,2587.5 367.8,2584.1 368.2,2584.1 368.2,2580.6 369.5,2580.6 369.5,2577.2 369.6,2577.2 369.6,2573.8 369.6,2573.8 369.6,2570.3 369.8,2570.3 369.8,2566.9 370.3,2566.9 370.3,2563.4 370.9,2563.4 370.9,2560 371.3,2560 371.3,2556.6 371.4,2556.6 371.4,2553.1 371.7,2553.1 371.7,2549.7 372.2,2549.7 372.2,2546.2 372.3,2546.2 372.3,2542.8 373.9,2542.8 373.9,2539.4 375.3,2539.4 375.3,2535.9 375.4,2535.9 375.4,2532.5 377.6,2532.5 377.6,2529.1 377.6,2529.1 377.6,2525.6 378.4,2525.6 378.4,2522.2 378.4,2522.2 378.4,2518.8 379,2518.8 379,2515.3 379.4,2515.3 379.4,2511.9 380.9,2511.9 380.9,2508.4 380.9,2508.4 380.9,2505 381.8,2505 381.8,2501.6 382.1,2501.6 382.1,2498.1 382.1,2498.1 382.1,2494.7 382.4,2494.7 382.4,2491.2 383,2491.2 383,2487.8 383.1,2487.8 383.1,2484.4 383.2,2484.4 383.2,2480.9 383.6,2480.9 383.6,2477.5 384.2,2477.5 384.2,2474.1 384.7,2474.1 384.7,2470.6 386.3,2470.6 386.3,2467.2 387.6,2467.2 387.6,2463.8 387.8,2463.8 387.8,2460.3 388.1,2460.3 388.1,2456.9 388.3,2456.9 388.3,2453.4 388.3,2453.4 388.3,2450 391.5,2450 391.5,2446.6 392,2446.6 392,2443.1 392.6,2443.1 392.6,2439.7 393.3,2439.7 393.3,2436.2 393.6,2436.2 393.6,2432.8 395.4,2432.8 395.4,2429.4 397,2429.4 397,2425.9 397.3,2425.9 397.3,2422.5 398.4,2422.5 398.4,2419.1 399.4,2419.1 399.4,2415.6 399.4,2415.6 399.4,2412.2 401.3,2412.2 401.3,2408.8 401.8,2408.8 401.8,2405.3 402.8,2405.3 402.8,2401.9 403.4,2401.9 403.4,2398.4 405.2,2398.4 405.2,2395 406.8,2395 406.8,2391.6 407.8,2391.6 407.8,2388.1 407.9,2388.1 407.9,2384.7 408.4,2384.7 408.4,2381.2 408.7,2381.2 408.7,2377.8 408.9,2377.8 408.9,2374.4 409.5,2374.4 409.5,2370.9 409.7,2370.9 409.7,2367.5 410,2367.5 410,2364.1 411.7,2364.1 411.7,2360.6 412.1,2360.6 412.1,2357.2 412.4,2357.2 412.4,2353.8 412.8,2353.8 412.8,2350.3 413.6,2350.3 413.6,2346.9 414.3,2346.9 414.3,2343.4 414.5,2343.4 414.5,2340 414.9,2340 414.9,2336.6 415,2336.6 415,2333.1 417.4,2333.1 417.4,2329.7 418.7,2329.7 418.7,2326.2 421.9,2326.2 421.9,2322.8 422.2,2322.8 422.2,2319.4 424,2319.4 424,2315.9 426.2,2315.9 426.2,2312.5 426.5,2312.5 426.5,2309.1 428.3,2309.1 428.3,2305.6 428.4,2305.6 428.4,2302.2 428.9,2302.2 428.9,2298.8 430.2,2298.8 430.2,2295.3 430.6,2295.3 430.6,2291.9 434,2291.9 434,2288.4 434.8,2288.4 434.8,2285 440.3,2285 440.3,2281.6 441,2281.6 441,2278.1 445.6,2278.1 445.6,2274.7 447.4,2274.7 447.4,2271.2 447.8,2271.2 447.8,2267.8 448.1,2267.8 448.1,2264.4 448.4,2264.4 448.4,2260.9 450.8,2260.9 450.8,2257.5 455,2257.5 455,2254.1 457,2254.1 457,2250.6 462.5,2250.6 462.5,2247.2 463.9,2247.2 463.9,2243.8 466.8,2243.8 466.8,2240.3 467.7,2240.3 467.7,2236.9 469.3,2236.9 469.3,2233.4 472.6,2233.4 472.6,2230 473.9,2230 473.9,2226.6 475.8,2226.6 475.8,2223.1 479.6,2223.1 479.6,2219.7 484.7,2219.7 484.7,2216.2 490.6,2216.2 490.6,2212.8 495.4,2212.8 495.4,2209.4 503.6,2209.4 503.6,2205.9 554.2,2205.9 554.2,2202.5" fill="none" stroke="#0072bd" stroke-width="12" stroke-linejoin="round" stroke-linecap="butt"/>
<polyline points="286.8,3440 286.8,3440 286.8,3436.6 286.8,3436.6 286.8,3433.1 286.8,3433.1 286.8,3429.7 286.9,3429.7 286.9,3426.2 287.2,3426.2 287.2,3422.8 287.3,3422.8 287.3,3419.4 287.7,3419.4 287.7,3415.9 287.7,3415.9 287.7,3412.5 287.8,3412.5 287.8,3409.1 287.9,3409.1 287.9,3405.6 287.9,3405.6 287.9,3402.2 287.9,3402.2 287.9,3398.8 288,3398.8 288,3395.3 288,3395.3 288,3391.9 288,3391.9 288,3388.4 288.2,3388.4 288.2,3385 288.2,3385 288.2,3381.6 288.2,3381.6 288.2,3378.1 288.3,3378.1 288.3,3374.7 288.3,3374.7 288.3,3371.2 288.5,3371.2 288.5,3367.8 288.5,3367.8 288.5,3364.4 288.5,3364.4 288.5,3360.9 288.6,3360.9 288.6,3357.5 288.7,3357.5 288.7,3354.1 288.7,3354.1 288.7,3350.6 289,3350.6 289,3347.2 289.2,3347.2 289.2,3343.8 289.2,3343.8 289.2,3340.3 289.4,3340.3 289.4,3336.9 289.5,3336.9 289.5,3333.4 289.6,3333.4 289.6,3330 289.7,3330 289.7,3326.6 290.2,3326.6 290.2,3323.1 290.5,3323.1 290.5,3319.7 290.5,3319.7 290.5,3316.2 290.7,3316.2 290.7,3312.8 291.2,3312.8 291.2,3309.4 291.3,3309.4 291.3,3305.9 291.3,3305.9 291.3,3302.5 291.4,3302.5 291.4,3299.1 291.6,3299.1 291.6,3295.6 291.8,3295.6 291.8,3292.2 291.8,3292.2 291.8,3288.8 291.8,3288.8 291.8,3285.3 292.1,3285.3 292.1,3281.9 292.2,3281.9 292.2,3278.4 292.4,3278.4 292.4,3275 292.4,3275 292.4,3271.6 292.4,3271.6 292.4,3268.1 292.5,3268.1 292.5,3264.7 292.6,3264.7 292.6,3261.2 292.7,3261.2 292.7,3257.8 293.2,3257.8 293.2,3254.4 293.3,3254.4 293.3,3250.9 293.6,3250.9 293.6,3247.5 293.6,3247.5 293.6,3244.1 293.6,3244.1 293.6,3240.6 293.7,3240.6 293.7,3237.2 293.8,3237.2 293.8,3233.8 293.9,3233.8 293.9,3230.3 294.1,3230.3 294.1,3226.9 294.3,3226.9 294.3,3223.4 294.3,3223.4 294.3,3220 294.5,3220 294.5,3216.6 294.8,3216.6 294.8,3213.1 294.9,3213.1 294.9,3209.7 295,3209.7 295,3206.2 296,3206.2 296,3202.8 296.1,3202.8 296.1,3199.4 296.3,3199.4 296.3,3195.9 296.3,3195.9 296.3,3192.5 296.4,3192.5 296.4,3189.1 296.4,3189.1 296.4,3185.6 296.4,3185.6 296.4,3182.2 296.8,3182.2 296.8,3178.8 296.9,3178.8 296.9,3175.3 296.9,3175.3 296.9,3171.9 296.9,3171.9 296.9,3168.4 297.4,3168.4 297.4,3165 298,3165 298,3161.6 298,3161.6 298,3158.1 298.1,3158.1 298.1,3154.7 298.8,3154.7 298.8,3151.2 299.1,3151.2 299.1,3147.8 299.1,3147.8 299.1,3144.4 299.1,3144.4 299.1,3140.9 299.2,3140.9 299.2,3137.5 299.4,3137.5 299.4,3134.1 299.8,3134.1 299.8,3130.6 299.8,3130.6 299.8,3127.2 300,3127.2 300,3123.8 300.5,3123.8 300.5,3120.3 300.6,3120.3 300.6,3116.9 300.8,3116.9 300.8,3113.4 301,3113.4 301,3110 301.3,3110 301.3,3106.6 301.7,3106.6 301.7,3103.1 301.9,3103.1 301.9,3099.7 302,3099.7 302,3096.2 302,3096.2 302,3092.8 302.2,3092.8 302.2,3089.4 302.2,3089.4 302.2,3085.9 302.6,3085.9 302.6,3082.5 302.8,3082.5 302.8,3079.1 302.8,3079.1 302.8,3075.6 303.4,3075.6 303.4,3072.2 303.5,3072.2 303.5,3068.8 303.6,3068.8 303.6,3065.3 303.8,3065.3 303.8,3061.9 303.9,3061.9 303.9,3058.4 304.4,3058.4 304.4,3055 304.4,3055 304.4,3051.6 304.6,3051.6 304.6,3048.1 304.7,3048.1 304.7,3044.7 304.7,3044.7 304.7,3041.2 305.2,3041.2 305.2,3037.8 305.4,3037.8 305.4,3034.4 305.6,3034.4 305.6,3030.9 306.2,3030.9 306.2,3027.5 306.7,3027.5 306.7,3024.1 306.8,3024.1 306.8,3020.6 306.8,3020.6 306.8,3017.2 307.2,3017.2 307.2,3013.8 307.6,3013.8 307.6,3010.3 308.3,3010.3 308.3,3006.9 309.7,3006.9 309.7,3003.4 310,3003.4 310,3000 310.3,3000 310.3,2996.6 310.7,2996.6 310.7,2993.1 310.8,2993.1 310.8,2989.7 310.8,2989.7 310.8,2986.2 310.8,2986.2 310.8,2982.8 311.1,2982.8 311.1,2979.4 311.2,2979.4 311.2,2975.9 311.3,2975.9 311.3,2972.5 311.7,2972.5 311.7,2969.1 311.9,2969.1 311.9,2965.6 312.1,2965.6 312.1,2962.2 312.8,2962.2 312.8,2958.8 313,2958.8 313,2955.3 313.3,2955.3 313.3,2951.9 313.3,2951.9 313.3,2948.4 313.6,2948.4 313.6,2945 313.6,2945 313.6,2941.6 313.6,2941.6 313.6,2938.1 313.9,2938.1 313.9,2934.7 314,2934.7 314,2931.2 314,2931.2 314,2927.8 314.3,2927.8 314.3,2924.4 314.4,2924.4 314.4,2920.9 314.5,2920.9 314.5,2917.5 314.7,2917.5 314.7,2914.1 315,2914.1 315,2910.6 315.4,2910.6 315.4,2907.2 315.8,2907.2 315.8,2903.8 315.9,2903.8 315.9,2900.3 316.1,2900.3 316.1,2896.9 316.2,2896.9 316.2,2893.4 316.5,2893.4 316.5,2890 316.6,2890 316.6,2886.6 316.8,2886.6 316.8,2883.1 316.9,2883.1 316.9,2879.7 317.2,2879.7 317.2,2876.2 317.3,2876.2 317.3,2872.8 317.5,2872.8 317.5,2869.4 317.5,2869.4 317.5,2865.9 317.5,2865.9 317.5,2862.5 317.5,2862.5 317.5,2859.1 317.8,2859.1 317.8,2855.6 317.8,2855.6 317.8,2852.2 318,2852.2 318,2848.8 318,2848.8 318,2845.3 318,2845.3 318,2841.9 318.1,2841.9 318.1,2838.4 318.2,2838.4 318.2,2835 318.2,2835 318.2,2831.6 318.7,2831.6 318.7,2828.1 318.9,2828.1 318.9,2824.7 319.3,2824.7 319.3,2821.2 320.1,2821.2 320.1,2817.8 320.1,2817.8 320.1,2814.4 320.2,2814.4 320.2,2810.9 320.4,2810.9 320.4,2807.5 321.4,2807.5 321.4,2804.1 322.1,2804.1 322.1,2800.6 322.3,2800.6 322.3,2797.2 322.8,2797.2 322.8,2793.8 322.8,2793.8 322.8,2790.3 322.8,2790.3 322.8,2786.9 323.2,2786.9 323.2,2783.4 323.2,2783.4 323.2,2780 323.2,2780 323.2,2776.6 323.3,2776.6 323.3,2773.1 323.4,2773.1 323.4,2769.7 324,2769.7 324,2766.2 324.4,2766.2 324.4,2762.8 325,2762.8 325,2759.4 325.1,2759.4 325.1,2755.9 325.1,2755.9 325.1,2752.5 325.5,2752.5 325.5,2749.1 325.5,2749.1 325.5,2745.6 325.8,2745.6 325.8,2742.2 325.8,2742.2 325.8,2738.8 325.9,2738.8 325.9,2735.3 326.3,2735.3 326.3,2731.9 326.5,2731.9 326.5,2728.4 327,2728.4 327,2725 327.1,2725 327.1,2721.6 327.1,2721.6 327.1,2718.1 327.3,2718.1 327.3,2714.7 327.3,2714.7 327.3,2711.2 327.4,2711.2 327.4,2707.8 327.6,2707.8 327.6,2704.4 327.7,2704.4 327.7,2700.9 327.7,2700.9 327.7,2697.5 327.7,2697.5 327.7,2694.1 328,2694.1 328,2690.6 328.1,2690.6 328.1,2687.2 328.3,2687.2 328.3,2683.8 328.5,2683.8 328.5,2680.3 329.6,2680.3 329.6,2676.9 329.8,2676.9 329.8,2673.4 329.8,2673.4 329.8,2670 329.9,2670 329.9,2666.6 329.9,2666.6 329.9,2663.1 330,2663.1 330,2659.7 330,2659.7 330,2656.2 330.1,2656.2 330.1,2652.8 330.3,2652.8 330.3,2649.4 331.1,2649.4 331.1,2645.9 331.2,2645.9 331.2,2642.5 332.2,2642.5 332.2,2639.1 332.6,2639.1 332.6,2635.6 332.9,2635.6 332.9,2632.2 333.3,2632.2 333.3,2628.8 333.4,2628.8 333.4,2625.3 333.4,2625.3 333.4,2621.9 333.5,2621.9 333.5,2618.4 333.9,2618.4 333.9,2615 333.9,2615 333.9,2611.6 333.9,2611.6 333.9,2608.1 333.9,2608.1 333.9,2604.7 335,2604.7 335,2601.2 335.1,2601.2 335.1,2597.8 335.2,2597.8 335.2,2594.4 336.2,2594.4 336.2,2590.9 336.3,2590.9 336.3,2587.5 336.7,2587.5 336.7,2584.1 336.9,2584.1 336.9,2580.6 337.1,2580.6 337.1,2577.2 337.4,2577.2 337.4,2573.8 337.4,2573.8 337.4,2570.3 337.5,2570.3 337.5,2566.9 337.9,2566.9 337.9,2563.4 338.5,2563.4 338.5,2560 338.9,2560 338.9,2556.6 339.3,2556.6 339.3,2553.1 339.9,2553.1 339.9,2549.7 339.9,2549.7 339.9,2546.2 340.3,2546.2 340.3,2542.8 341.1,2542.8 341.1,2539.4 342.7,2539.4 342.7,2535.9 342.7,2535.9 342.7,2532.5 342.8,2532.5 342.8,2529.1 343.7,2529.1 343.7,2525.6 346.2,2525.6 346.2,2522.2 347,2522.2 347,2518.8 347,2518.8 347,2515.3 347.2,2515.3 347.2,2511.9 347.3,2511.9 347.3,2508.4 348,2508.4 348,2505 348.5,2505 348.5,2501.6 348.9,2501.6 348.9,2498.1 348.9,2498.1 348.9,2494.7 349.3,2494.7 349.3,2491.2 349.4,2491.2 349.4,2487.8 349.5,2487.8 349.5,2484.4 350,2484.4 350,2480.9 350.5,2480.9 350.5,2477.5 350.8,2477.5 350.8,2474.1 351.1,2474.1 351.1,2470.6 351.4,2470.6 351.4,2467.2 351.6,2467.2 351.6,2463.8 351.6,2463.8 351.6,2460.3 351.9,2460.3 351.9,2456.9 352.3,2456.9 352.3,2453.4 352.5,2453.4 352.5,2450 352.6,2450 352.6,2446.6 352.6,2446.6 352.6,2443.1 353.3,2443.1 353.3,2439.7 353.5,2439.7 353.5,2436.2 353.6,2436.2 353.6,2432.8 353.9,2432.8 353.9,2429.4 354.5,2429.4 354.5,2425.9 354.6,2425.9 354.6,2422.5 355.8,2422.5 355.8,2419.1 356.4,2419.1 356.4,2415.6 357.2,2415.6 357.2,2412.2 357.8,2412.2 357.8,2408.8 359.5,2408.8 359.5,2405.3 361,2405.3 361,2401.9 361.2,2401.9 361.2,2398.4 361.3,2398.4 361.3,2395 361.6,2395 361.6,2391.6 362.7,2391.6 362.7,2388.1 363.1,2388.1 363.1,2384.7 363.1,2384.7 363.1,2381.2 363.1,2381.2 363.1,2377.8 363.7,2377.8 363.7,2374.4 363.8,2374.4 363.8,2370.9 364.2,2370.9 364.2,2367.5 364.3,2367.5 364.3,2364.1 364.4,2364.1 364.4,2360.6 365,2360.6 365,2357.2 365.8,2357.2 365.8,2353.8 366.1,2353.8 366.1,2350.3 366.3,2350.3 366.3,2346.9 366.9,2346.9 366.9,2343.4 367.2,2343.4 367.2,2340 367.9,2340 367.9,2336.6 368.1,2336.6 368.1,2333.1 368.8,2333.1 368.8,2329.7 371,2329.7 371,2326.2 371.8,2326.2 371.8,2322.8 372.9,2322.8 372.9,2319.4 375.3,2319.4 375.3,2315.9 375.9,2315.9 375.9,2312.5 376.7,2312.5 376.7,2309.1 377.7,2309.1 377.7,2305.6 378.5,2305.6 378.5,2302.2 378.9,2302.2 378.9,2298.8 378.9,2298.8 378.9,2295.3 379,2295.3 379,2291.9 379.4,2291.9 379.4,2288.4 379.5,2288.4 379.5,2285 380.4,2285 380.4,2281.6 380.6,2281.6 380.6,2278.1 380.6,2278.1 380.6,2274.7 380.7,2274.7 380.7,2271.2 382.3,2271.2 382.3,2267.8 382.8,2267.8 382.8,2264.4 382.8,2264.4 382.8,2260.9 383.9,2260.9 383.9,2257.5 384.5,2257.5 384.5,2254.1 385.8,2254.1 385.8,2250.6 389.7,2250.6 389.7,2247.2 394.9,2247.2 394.9,2243.8 398.6,2243.8 398.6,2240.3 401.2,2240.3 401.2,2236.9 401.8,2236.9 401.8,2233.4 403.8,2233.4 403.8,2230 404.2,2230 404.2,2226.6 405.4,2226.6 405.4,2223.1 407.4,2223.1 407.4,2219.7 407.5,2219.7 407.5,2216.2 408.8,2216.2 408.8,2212.8 411.7,2212.8 411.7,2209.4 412.1,2209.4 412.1,2205.9 414.5,2205.9 414.5,2202.5" fill="none" stroke="#d95319" stroke-width="12" stroke-linejoin="round" stroke-linecap="butt"/>
<rect x="330" y="3229.5" width="615" height="195" fill="#fff"/>
<line x1="356.3" y1="3282" x2="487.8" y2="3282" stroke="#0072bd" stroke-width="14"/>
<line x1="356.3" y1="3372.6" x2="487.8" y2="3372.6" stroke="#d95319" stroke-width="14"/>
<text x="496" y="3307" font-family="Liberation Sans, Arial, sans-serif" font-size="62.5" fill="#000">UAV02</text>
<text x="496" y="3395" font-family="Liberation Sans, Arial, sans-serif" font-size="62.5" fill="#000">UAV02-CoVDLL</text>
<line x1="1133" y1="2200.7" x2="1133" y2="3449.2" stroke="#dfdfdf" stroke-width="2"/>
<line x1="1298.5" y1="2200.7" x2="1298.5" y2="3449.2" stroke="#dfdfdf" stroke-width="2"/>
<line x1="1464" y1="2200.7" x2="1464" y2="3449.2" stroke="#dfdfdf" stroke-width="2"/>
<path d="M967.5 2200.7V3449.2H1464" fill="none" stroke="#262626" stroke-width="2"/>
<line x1="967.5" y1="3449.2" x2="967.5" y2="3437.2" stroke="#262626" stroke-width="2"/>
<text x="967.5" y="3553.5" font-family="Liberation Sans, Arial, sans-serif" font-size="80" fill="#262626" text-anchor="middle">0</text>
<line x1="1133" y1="3449.2" x2="1133" y2="3437.2" stroke="#262626" stroke-width="2"/>
<text x="1133" y="3553.5" font-family="Liberation Sans, Arial, sans-serif" font-size="80" fill="#262626" text-anchor="middle">10</text>
<line x1="1298.5" y1="3449.2" x2="1298.5" y2="3437.2" stroke="#262626" stroke-width="2"/>
<text x="1298.5" y="3553.5" font-family="Liberation Sans, Arial, sans-serif" font-size="80" fill="#262626" text-anchor="middle">20</text>
<line x1="1464" y1="3449.2" x2="1464" y2="3437.2" stroke="#262626" stroke-width="2"/>
<text x="1464" y="3553.5" font-family="Liberation Sans, Arial, sans-serif" font-size="80" fill="#262626" text-anchor="middle">30</text>
<line x1="967.5" y1="3449.2" x2="979.5" y2="3449.2" stroke="#262626" stroke-width="2"/>
<text x="941.3" y="3480.2" font-family="Liberation Sans, Arial, sans-serif" font-size="80" fill="#262626" text-anchor="end">0</text>
<line x1="967.5" y1="3199.5" x2="979.5" y2="3199.5" stroke="#262626" stroke-width="2"/>
<text x="941.3" y="3230.5" font-family="Liberation Sans, Arial, sans-serif" font-size="80" fill="#262626" text-anchor="end">0.2</text>
<line x1="967.5" y1="2949.8" x2="979.5" y2="2949.8" stroke="#262626" stroke-width="2"/>
<text x="941.3" y="2980.8" font-family="Liberation Sans, Arial, sans-serif" font-size="80" fill="#262626" text-anchor="end">0.4</text>
<line x1="967.5" y1="2700.1" x2="979.5" y2="2700.1" stroke="#262626" stroke-width="2"/>
<text x="941.3" y="2731.1" font-family="Liberation Sans, Arial, sans-serif" font-size="80" fill="#262626" text-anchor="end">0.6</text>
<line x1="967.5" y1="2450.4" x2="979.5" y2="2450.4" stroke="#262626" stroke-width="2"/>
<text x="941.3" y="2481.4" font-family="Liberation Sans, Arial, sans-serif" font-size="80" fill="#262626" text-anchor="end">0.8</text>
<line x1="967.5" y1="2200.7" x2="979.5" y2="2200.7" stroke="#262626" stroke-width="2"/>
<text x="941.3" y="2231.7" font-family="Liberation Sans, Arial, sans-serif" font-size="80" fill="#262626" text-anchor="end">1</text>
<text x="1234.5" y="3659" font-family="Liberation Sans, Arial, sans-serif" font-size="88" fill="#262626" text-anchor="middle">Y_axis (m)</text>
<polyline points="972.5,3449.2 972.5,3449.2 972.5,3445.7 973.3,3445.7 973.3,3442.3 973.8,3442.3 973.8,3438.8 974.3,3438.8 974.3,3435.3 974.4,3435.3 974.4,3431.9 974.8,3431.9 974.8,3428.4 975,3428.4 975,3424.9 975.6,3424.9 975.6,3421.5 975.7,3421.5 975.7,3418 976.4,3418 976.4,3414.5 976.5,3414.5 976.5,3411.1 976.7,3411.1 976.7,3407.6 977.3,3407.6 977.3,3404.1 977.6,3404.1 977.6,3400.6 979,3400.6 979,3397.2 979.1,3397.2 979.1,3393.7 980,3393.7 980,3390.2 980.2,3390.2 980.2,3386.8 980.7,3386.8 980.7,3383.3 980.8,3383.3 980.8,3379.8 981,3379.8 981,3376.4 981.2,3376.4 981.2,3372.9 981.5,3372.9 981.5,3369.4 982.3,3369.4 982.3,3366 982.5,3366 982.5,3362.5 983.2,3362.5 983.2,3359 983.2,3359 983.2,3355.6 985.1,3355.6 985.1,3352.1 985.6,3352.1 985.6,3348.6 987,3348.6 987,3345.2 987.4,3345.2 987.4,3341.7 988,3341.7 988,3338.2 988.1,3338.2 988.1,3334.8 989.2,3334.8 989.2,3331.3 989.2,3331.3 989.2,3327.8 989.2,3327.8 989.2,3324.3 991.6,3324.3 991.6,3320.9 991.8,3320.9 991.8,3317.4 991.9,3317.4 991.9,3313.9 992.3,3313.9 992.3,3310.5 992.3,3310.5 992.3,3307 992.3,3307 992.3,3303.5 992.3,3303.5 992.3,3300.1 992.5,3300.1 992.5,3296.6 994.2,3296.6 994.2,3293.1 994.8,3293.1 994.8,3289.7 995.1,3289.7 995.1,3286.2 995.2,3286.2 995.2,3282.7 996,3282.7 996,3279.3 996,3279.3 996,3275.8 996.7,3275.8 996.7,3272.3 997.2,3272.3 997.2,3268.9 997.3,3268.9 997.3,3265.4 997.4,3265.4 997.4,3261.9 997.5,3261.9 997.5,3258.5 997.7,3258.5 997.7,3255 998,3255 998,3251.5 998.3,3251.5 998.3,3248.1 998.6,3248.1 998.6,3244.6 998.6,3244.6 998.6,3241.1 998.7,3241.1 998.7,3237.6 999,3237.6 999,3234.2 999.3,3234.2 999.3,3230.7 999.5,3230.7 999.5,3227.2 999.6,3227.2 999.6,3223.8 999.9,3223.8 999.9,3220.3 1000.3,3220.3 1000.3,3216.8 1000.7,3216.8 1000.7,3213.4 1001.2,3213.4 1001.2,3209.9 1002.6,3209.9 1002.6,3206.4 1002.6,3206.4 1002.6,3203 1002.8,3203 1002.8,3199.5 1002.9,3199.5 1002.9,3196 1003.4,3196 1003.4,3192.6 1004.3,3192.6 1004.3,3189.1 1004.7,3189.1 1004.7,3185.6 1005.4,3185.6 1005.4,3182.2 1005.5,3182.2 1005.5,3178.7 1005.7,3178.7 1005.7,3175.2 1006.2,3175.2 1006.2,3171.8 1008.4,3171.8 1008.4,3168.3 1009,3168.3 1009,3164.8 1009.2,3164.8 1009.2,3161.4 1009.6,3161.4 1009.6,3157.9 1010.8,3157.9 1010.8,3154.4 1010.9,3154.4 1010.9,3150.9 1012,3150.9 1012,3147.5 1012.9,3147.5 1012.9,3144 1012.9,3144 1012.9,3140.5 1013.7,3140.5 1013.7,3137.1 1014.6,3137.1 1014.6,3133.6 1015.4,3133.6 1015.4,3130.1 1016.2,3130.1 1016.2,3126.7 1016.8,3126.7 1016.8,3123.2 1016.8,3123.2 1016.8,3119.7 1016.8,3119.7 1016.8,3116.3 1017.5,3116.3 1017.5,3112.8 1019.3,3112.8 1019.3,3109.3 1019.7,3109.3 1019.7,3105.9 1020.6,3105.9 1020.6,3102.4 1020.9,3102.4 1020.9,3098.9 1021.2,3098.9 1021.2,3095.5 1021.9,3095.5 1021.9,3092 1022.1,3092 1022.1,3088.5 1022.3,3088.5 1022.3,3085.1 1022.6,3085.1 1022.6,3081.6 1023,3081.6 1023,3078.1 1023.8,3078.1 1023.8,3074.6 1024.5,3074.6 1024.5,3071.2 1024.9,3071.2 1024.9,3067.7 1025.2,3067.7 1025.2,3064.2 1025.4,3064.2 1025.4,3060.8 1027.7,3060.8 1027.7,3057.3 1027.8,3057.3 1027.8,3053.8 1029.2,3053.8 1029.2,3050.4 1030.9,3050.4 1030.9,3046.9 1031.4,3046.9 1031.4,3043.4 1031.5,3043.4 1031.5,3040 1031.6,3040 1031.6,3036.5 1031.7,3036.5 1031.7,3033 1031.8,3033 1031.8,3029.6 1033.3,3029.6 1033.3,3026.1 1034.4,3026.1 1034.4,3022.6 1035,3022.6 1035,3019.2 1035.2,3019.2 1035.2,3015.7 1036,3015.7 1036,3012.2 1036.2,3012.2 1036.2,3008.8 1036.4,3008.8 1036.4,3005.3 1036.6,3005.3 1036.6,3001.8 1036.9,3001.8 1036.9,2998.4 1037.9,2998.4 1037.9,2994.9 1038.3,2994.9 1038.3,2991.4 1039.4,2991.4 1039.4,2987.9 1040.2,2987.9 1040.2,2984.5 1040.6,2984.5 1040.6,2981 1040.8,2981 1040.8,2977.5 1041,2977.5 1041,2974.1 1041,2974.1 1041,2970.6 1042.3,2970.6 1042.3,2967.1 1042.6,2967.1 1042.6,2963.7 1042.8,2963.7 1042.8,2960.2 1043.4,2960.2 1043.4,2956.7 1043.7,2956.7 1043.7,2953.3 1044.8,2953.3 1044.8,2949.8 1045.2,2949.8 1045.2,2946.3 1045.9,2946.3 1045.9,2942.9 1046.4,2942.9 1046.4,2939.4 1047.6,2939.4 1047.6,2935.9 1047.6,2935.9 1047.6,2932.5 1047.7,2932.5 1047.7,2929 1048.4,2929 1048.4,2925.5 1048.5,2925.5 1048.5,2922.1 1048.7,2922.1 1048.7,2918.6 1048.7,2918.6 1048.7,2915.1 1048.8,2915.1 1048.8,2911.7 1049.2,2911.7 1049.2,2908.2 1050.3,2908.2 1050.3,2904.7 1050.6,2904.7 1050.6,2901.2 1050.6,2901.2 1050.6,2897.8 1050.8,2897.8 1050.8,2894.3 1051.1,2894.3 1051.1,2890.8 1051.3,2890.8 1051.3,2887.4 1051.6,2887.4 1051.6,2883.9 1052,2883.9 1052,2880.4 1053.9,2880.4 1053.9,2877 1054.2,2877 1054.2,2873.5 1055.6,2873.5 1055.6,2870 1056.9,2870 1056.9,2866.6 1057.2,2866.6 1057.2,2863.1 1057.9,2863.1 1057.9,2859.6 1059,2859.6 1059,2856.2 1059.3,2856.2 1059.3,2852.7 1060.2,2852.7 1060.2,2849.2 1061.1,2849.2 1061.1,2845.8 1062.7,2845.8 1062.7,2842.3 1064,2842.3 1064,2838.8 1064,2838.8 1064,2835.4 1066.5,2835.4 1066.5,2831.9 1067.5,2831.9 1067.5,2828.4 1067.7,2828.4 1067.7,2824.9 1068.3,2824.9 1068.3,2821.5 1068.3,2821.5 1068.3,2818 1069.4,2818 1069.4,2814.5 1069.6,2814.5 1069.6,2811.1 1070.3,2811.1 1070.3,2807.6 1071.7,2807.6 1071.7,2804.1 1073.5,2804.1 1073.5,2800.7 1073.6,2800.7 1073.6,2797.2 1073.8,2797.2 1073.8,2793.7 1074,2793.7 1074,2790.3 1075.2,2790.3 1075.2,2786.8 1075.3,2786.8 1075.3,2783.3 1075.4,2783.3 1075.4,2779.9 1075.4,2779.9 1075.4,2776.4 1076.4,2776.4 1076.4,2772.9 1077.1,2772.9 1077.1,2769.5 1078,2769.5 1078,2766 1078.7,2766 1078.7,2762.5 1078.7,2762.5 1078.7,2759.1 1078.9,2759.1 1078.9,2755.6 1080.6,2755.6 1080.6,2752.1 1080.7,2752.1 1080.7,2748.7 1081.7,2748.7 1081.7,2745.2 1082,2745.2 1082,2741.7 1082,2741.7 1082,2738.2 1083.3,2738.2 1083.3,2734.8 1083.5,2734.8 1083.5,2731.3 1084.6,2731.3 1084.6,2727.8 1085.2,2727.8 1085.2,2724.4 1085.3,2724.4 1085.3,2720.9 1088.2,2720.9 1088.2,2717.4 1088.7,2717.4 1088.7,2714 1089.3,2714 1089.3,2710.5 1091.5,2710.5 1091.5,2707 1091.9,2707 1091.9,2703.6 1093.6,2703.6 1093.6,2700.1 1093.7,2700.1 1093.7,2696.6 1095.6,2696.6 1095.6,2693.2 1097.7,2693.2 1097.7,2689.7 1098.1,2689.7 1098.1,2686.2 1098.6,2686.2 1098.6,2682.8 1099,2682.8 1099,2679.3 1099,2679.3 1099,2675.8 1099,2675.8 1099,2672.4 1099.3,2672.4 1099.3,2668.9 1100.7,2668.9 1100.7,2665.4 1102.2,2665.4 1102.2,2662 1102.8,2662 1102.8,2658.5 1103,2658.5 1103,2655 1103,2655 1103,2651.5 1103.5,2651.5 1103.5,2648.1 1104.2,2648.1 1104.2,2644.6 1105.3,2644.6 1105.3,2641.1 1105.7,2641.1 1105.7,2637.7 1106.4,2637.7 1106.4,2634.2 1107.9,2634.2 1107.9,2630.7 1109.4,2630.7 1109.4,2627.3 1109.9,2627.3 1109.9,2623.8 1110.3,2623.8 1110.3,2620.3 1112.8,2620.3 1112.8,2616.9 1113,2616.9 1113,2613.4 1113.4,2613.4 1113.4,2609.9 1113.4,2609.9 1113.4,2606.5 1114.1,2606.5 1114.1,2603 1114.5,2603 1114.5,2599.5 1116.5,2599.5 1116.5,2596.1 1116.9,2596.1 1116.9,2592.6 1117.1,2592.6 1117.1,2589.1 1117.2,2589.1 1117.2,2585.7 1117.2,2585.7 1117.2,2582.2 1118,2582.2 1118,2578.7 1118.8,2578.7 1118.8,2575.2 1118.9,2575.2 1118.9,2571.8 1119.5,2571.8 1119.5,2568.3 1121.7,2568.3 1121.7,2564.8 1124.8,2564.8 1124.8,2561.4 1129.4,2561.4 1129.4,2557.9 1130.6,2557.9 1130.6,2554.4 1133.1,2554.4 1133.1,2551 1133.3,2551 1133.3,2547.5 1134.6,2547.5 1134.6,2544 1135.4,2544 1135.4,2540.6 1136.6,2540.6 1136.6,2537.1 1137.1,2537.1 1137.1,2533.6 1137.8,2533.6 1137.8,2530.2 1137.8,2530.2 1137.8,2526.7 1139.5,2526.7 1139.5,2523.2 1140.3,2523.2 1140.3,2519.8 1141.5,2519.8 1141.5,2516.3 1144.5,2516.3 1144.5,2512.8 1146.9,2512.8 1146.9,2509.4 1146.9,2509.4 1146.9,2505.9 1148.8,2505.9 1148.8,2502.4 1150.1,2502.4 1150.1,2499 1152.2,2499 1152.2,2495.5 1152.7,2495.5 1152.7,2492 1154,2492 1154,2488.5 1155.5,2488.5 1155.5,2485.1 1155.5,2485.1 1155.5,2481.6 1157.1,2481.6 1157.1,2478.1 1157.7,2478.1 1157.7,2474.7 1158.7,2474.7 1158.7,2471.2 1159.1,2471.2 1159.1,2467.7 1160,2467.7 1160,2464.3 1160.1,2464.3 1160.1,2460.8 1160.1,2460.8 1160.1,2457.3 1161.1,2457.3 1161.1,2453.9 1161.5,2453.9 1161.5,2450.4 1162.5,2450.4 1162.5,2446.9 1162.6,2446.9 1162.6,2443.5 1164.1,2443.5 1164.1,2440 1164.4,2440 1164.4,2436.5 1164.6,2436.5 1164.6,2433.1 1165,2433.1 1165,2429.6 1165.5,2429.6 1165.5,2426.1 1165.7,2426.1 1165.7,2422.7 1167.1,2422.7 1167.1,2419.2 1168,2419.2 1168,2415.7 1168,2415.7 1168,2412.3 1169.7,2412.3 1169.7,2408.8 1170,2408.8 1170,2405.3 1173.8,2405.3 1173.8,2401.8 1175.8,2401.8 1175.8,2398.4 1177.6,2398.4 1177.6,2394.9 1178.1,2394.9 1178.1,2391.4 1180.7,2391.4 1180.7,2388 1181.1,2388 1181.1,2384.5 1184.9,2384.5 1184.9,2381 1187.2,2381 1187.2,2377.6 1188.2,2377.6 1188.2,2374.1 1189.9,2374.1 1189.9,2370.6 1193.4,2370.6 1193.4,2367.2 1194.7,2367.2 1194.7,2363.7 1194.7,2363.7 1194.7,2360.2 1195.5,2360.2 1195.5,2356.8 1195.8,2356.8 1195.8,2353.3 1195.9,2353.3 1195.9,2349.8 1197.1,2349.8 1197.1,2346.4 1197.5,2346.4 1197.5,2342.9 1198,2342.9 1198,2339.4 1198.4,2339.4 1198.4,2336 1199.2,2336 1199.2,2332.5 1199.9,2332.5 1199.9,2329 1200.9,2329 1200.9,2325.5 1203.7,2325.5 1203.7,2322.1 1206,2322.1 1206,2318.6 1208,2318.6 1208,2315.1 1209.2,2315.1 1209.2,2311.7 1211.7,2311.7 1211.7,2308.2 1212,2308.2 1212,2304.7 1218.3,2304.7 1218.3,2301.3 1221.8,2301.3 1221.8,2297.8 1228.2,2297.8 1228.2,2294.3 1235.2,2294.3 1235.2,2290.9 1236.6,2290.9 1236.6,2287.4 1238.9,2287.4 1238.9,2283.9 1239.6,2283.9 1239.6,2280.5 1240.3,2280.5 1240.3,2277 1242.3,2277 1242.3,2273.5 1242.5,2273.5 1242.5,2270.1 1244.7,2270.1 1244.7,2266.6 1247.8,2266.6 1247.8,2263.1 1252.2,2263.1 1252.2,2259.7 1255.3,2259.7 1255.3,2256.2 1256.2,2256.2 1256.2,2252.7 1259.3,2252.7 1259.3,2249.3 1260.6,2249.3 1260.6,2245.8 1260.8,2245.8 1260.8,2242.3 1261.9,2242.3 1261.9,2238.8 1262,2238.8 1262,2235.4 1265.1,2235.4 1265.1,2231.9 1270.5,2231.9 1270.5,2228.4 1276.3,2228.4 1276.3,2225 1280.1,2225 1280.1,2221.5 1292.4,2221.5 1292.4,2218 1303,2218 1303,2214.6 1314.9,2214.6 1314.9,2211.1 1328.3,2211.1 1328.3,2207.6 1347,2207.6 1347,2204.2 1384.6,2204.2 1384.6,2200.7" fill="none" stroke="#0072bd" stroke-width="12" stroke-linejoin="round" stroke-linecap="butt"/>
<polyline points="967.5,3449.2 967.5,3449.2 967.5,3445.7 967.5,3445.7 967.5,3442.3 967.5,3442.3 967.5,3438.8 968.2,3438.8 968.2,3435.3 968.3,3435.3 968.3,3431.9 968.3,3431.9 968.3,3428.4 968.5,3428.4 968.5,3424.9 969.1,3424.9 969.1,3421.5 969.6,3421.5 969.6,3418 969.8,3418 969.8,3414.5 969.8,3414.5 969.8,3411.1 969.9,3411.1 969.9,3407.6 969.9,3407.6 969.9,3404.1 970,3404.1 970,3400.6 970.2,3400.6 970.2,3397.2 970.3,3397.2 970.3,3393.7 970.4,3393.7 970.4,3390.2 971.4,3390.2 971.4,3386.8 971.6,3386.8 971.6,3383.3 971.8,3383.3 971.8,3379.8 972,3379.8 972,3376.4 972,3376.4 972,3372.9 972.3,3372.9 972.3,3369.4 972.4,3369.4 972.4,3366 972.6,3366 972.6,3362.5 973.5,3362.5 973.5,3359 973.6,3359 973.6,3355.6 973.6,3355.6 973.6,3352.1 974,3352.1 974,3348.6 974.6,3348.6 974.6,3345.2 974.6,3345.2 974.6,3341.7 974.8,3341.7 974.8,3338.2 974.9,3338.2 974.9,3334.8 975.1,3334.8 975.1,3331.3 975.6,3331.3 975.6,3327.8 975.7,3327.8 975.7,3324.3 975.7,3324.3 975.7,3320.9 976,3320.9 976,3317.4 976.7,3317.4 976.7,3313.9 976.9,3313.9 976.9,3310.5 977.2,3310.5 977.2,3307 977.3,3307 977.3,3303.5 977.9,3303.5 977.9,3300.1 978,3300.1 978,3296.6 978,3296.6 978,3293.1 978.1,3293.1 978.1,3289.7 979.5,3289.7 979.5,3286.2 979.5,3286.2 979.5,3282.7 979.8,3282.7 979.8,3279.3 979.9,3279.3 979.9,3275.8 980.1,3275.8 980.1,3272.3 980.5,3272.3 980.5,3268.9 980.6,3268.9 980.6,3265.4 980.8,3265.4 980.8,3261.9 981,3261.9 981,3258.5 981.3,3258.5 981.3,3255 981.3,3255 981.3,3251.5 981.7,3251.5 981.7,3248.1 982.1,3248.1 982.1,3244.6 982.7,3244.6 982.7,3241.1 983.3,3241.1 983.3,3237.6 983.6,3237.6 983.6,3234.2 983.6,3234.2 983.6,3230.7 984.2,3230.7 984.2,3227.2 984.4,3227.2 984.4,3223.8 984.6,3223.8 984.6,3220.3 984.7,3220.3 984.7,3216.8 984.8,3216.8 984.8,3213.4 985.5,3213.4 985.5,3209.9 985.5,3209.9 985.5,3206.4 986.3,3206.4 986.3,3203 986.4,3203 986.4,3199.5 986.5,3199.5 986.5,3196 986.5,3196 986.5,3192.6 986.9,3192.6 986.9,3189.1 987.3,3189.1 987.3,3185.6 987.5,3185.6 987.5,3182.2 987.9,3182.2 987.9,3178.7 988,3178.7 988,3175.2 988,3175.2 988,3171.8 988.7,3171.8 988.7,3168.3 988.8,3168.3 988.8,3164.8 989.2,3164.8 989.2,3161.4 989.9,3161.4 989.9,3157.9 990.1,3157.9 990.1,3154.4 990.4,3154.4 990.4,3150.9 990.4,3150.9 990.4,3147.5 990.9,3147.5 990.9,3144 991.4,3144 991.4,3140.5 991.5,3140.5 991.5,3137.1 991.9,3137.1 991.9,3133.6 992.1,3133.6 992.1,3130.1 992.4,3130.1 992.4,3126.7 992.5,3126.7 992.5,3123.2 992.6,3123.2 992.6,3119.7 992.7,3119.7 992.7,3116.3 993.4,3116.3 993.4,3112.8 994.2,3112.8 994.2,3109.3 994.6,3109.3 994.6,3105.9 995.3,3105.9 995.3,3102.4 995.5,3102.4 995.5,3098.9 996.1,3098.9 996.1,3095.5 996.5,3095.5 996.5,3092 996.6,3092 996.6,3088.5 997.2,3088.5 997.2,3085.1 997.4,3085.1 997.4,3081.6 997.7,3081.6 997.7,3078.1 997.8,3078.1 997.8,3074.6 998,3074.6 998,3071.2 998,3071.2 998,3067.7 998.7,3067.7 998.7,3064.2 998.8,3064.2 998.8,3060.8 999.6,3060.8 999.6,3057.3 1000.4,3057.3 1000.4,3053.8 1000.5,3053.8 1000.5,3050.4 1000.6,3050.4 1000.6,3046.9 1001.8,3046.9 1001.8,3043.4 1002.2,3043.4 1002.2,3040 1002.7,3040 1002.7,3036.5 1003,3036.5 1003,3033 1003.2,3033 1003.2,3029.6 1003.4,3029.6 1003.4,3026.1 1003.7,3026.1 1003.7,3022.6 1003.8,3022.6 1003.8,3019.2 1004.8,3019.2 1004.8,3015.7 1005.5,3015.7 1005.5,3012.2 1006,3012.2 1006,3008.8 1006.4,3008.8 1006.4,3005.3 1006.6,3005.3 1006.6,3001.8 1007.3,3001.8 1007.3,2998.4 1007.6,2998.4 1007.6,2994.9 1008.3,2994.9 1008.3,2991.4 1008.8,2991.4 1008.8,2987.9 1009.2,2987.9 1009.2,2984.5 1009.4,2984.5 1009.4,2981 1010,2981 1010,2977.5 1010.1,2977.5 1010.1,2974.1 1010.2,2974.1 1010.2,2970.6 1010.4,2970.6 1010.4,2967.1 1010.8,2967.1 1010.8,2963.7 1011.1,2963.7 1011.1,2960.2 1011.1,2960.2 1011.1,2956.7 1011.5,2956.7 1011.5,2953.3 1011.5,2953.3 1011.5,2949.8 1011.9,2949.8 1011.9,2946.3 1012.7,2946.3 1012.7,2942.9 1012.8,2942.9 1012.8,2939.4 1014.6,2939.4 1014.6,2935.9 1015.8,2935.9 1015.8,2932.5 1016.1,2932.5 1016.1,2929 1017,2929 1017,2925.5 1017.2,2925.5 1017.2,2922.1 1017.7,2922.1 1017.7,2918.6 1017.9,2918.6 1017.9,2915.1 1018.1,2915.1 1018.1,2911.7 1018.6,2911.7 1018.6,2908.2 1019.3,2908.2 1019.3,2904.7 1019.8,2904.7 1019.8,2901.2 1021,2901.2 1021,2897.8 1021.5,2897.8 1021.5,2894.3 1021.6,2894.3 1021.6,2890.8 1022,2890.8 1022,2887.4 1022.1,2887.4 1022.1,2883.9 1022.5,2883.9 1022.5,2880.4 1022.7,2880.4 1022.7,2877 1022.8,2877 1022.8,2873.5 1023.4,2873.5 1023.4,2870 1023.5,2870 1023.5,2866.6 1023.6,2866.6 1023.6,2863.1 1023.7,2863.1 1023.7,2859.6 1023.9,2859.6 1023.9,2856.2 1024.9,2856.2 1024.9,2852.7 1025,2852.7 1025,2849.2 1026.6,2849.2 1026.6,2845.8 1027.4,2845.8 1027.4,2842.3 1027.5,2842.3 1027.5,2838.8 1027.7,2838.8 1027.7,2835.4 1028,2835.4 1028,2831.9 1028.9,2831.9 1028.9,2828.4 1029.1,2828.4 1029.1,2824.9 1029.2,2824.9 1029.2,2821.5 1029.3,2821.5 1029.3,2818 1030,2818 1030,2814.5 1030,2814.5 1030,2811.1 1030.2,2811.1 1030.2,2807.6 1030.6,2807.6 1030.6,2804.1 1030.6,2804.1 1030.6,2800.7 1031.6,2800.7 1031.6,2797.2 1031.8,2797.2 1031.8,2793.7 1032,2793.7 1032,2790.3 1032.7,2790.3 1032.7,2786.8 1033,2786.8 1033,2783.3 1033.2,2783.3 1033.2,2779.9 1034.7,2779.9 1034.7,2776.4 1034.8,2776.4 1034.8,2772.9 1035.6,2772.9 1035.6,2769.5 1035.9,2769.5 1035.9,2766 1036.1,2766 1036.1,2762.5 1036.9,2762.5 1036.9,2759.1 1037,2759.1 1037,2755.6 1038,2755.6 1038,2752.1 1038.2,2752.1 1038.2,2748.7 1038.6,2748.7 1038.6,2745.2 1039.6,2745.2 1039.6,2741.7 1039.8,2741.7 1039.8,2738.2 1040,2738.2 1040,2734.8 1040.1,2734.8 1040.1,2731.3 1040.9,2731.3 1040.9,2727.8 1041.3,2727.8 1041.3,2724.4 1041.6,2724.4 1041.6,2720.9 1042,2720.9 1042,2717.4 1042.1,2717.4 1042.1,2714 1042.7,2714 1042.7,2710.5 1042.7,2710.5 1042.7,2707 1042.9,2707 1042.9,2703.6 1043.5,2703.6 1043.5,2700.1 1043.5,2700.1 1043.5,2696.6 1043.5,2696.6 1043.5,2693.2 1043.5,2693.2 1043.5,2689.7 1043.7,2689.7 1043.7,2686.2 1044.1,2686.2 1044.1,2682.8 1044.6,2682.8 1044.6,2679.3 1044.9,2679.3 1044.9,2675.8 1045.4,2675.8 1045.4,2672.4 1046,2672.4 1046,2668.9 1047.2,2668.9 1047.2,2665.4 1047.4,2665.4 1047.4,2662 1047.7,2662 1047.7,2658.5 1048,2658.5 1048,2655 1048.2,2655 1048.2,2651.5 1048.3,2651.5 1048.3,2648.1 1049.2,2648.1 1049.2,2644.6 1049.6,2644.6 1049.6,2641.1 1049.9,2641.1 1049.9,2637.7 1050.5,2637.7 1050.5,2634.2 1050.6,2634.2 1050.6,2630.7 1050.8,2630.7 1050.8,2627.3 1050.8,2627.3 1050.8,2623.8 1051.3,2623.8 1051.3,2620.3 1051.5,2620.3 1051.5,2616.9 1051.6,2616.9 1051.6,2613.4 1051.9,2613.4 1051.9,2609.9 1052.2,2609.9 1052.2,2606.5 1052.6,2606.5 1052.6,2603 1052.6,2603 1052.6,2599.5 1053.1,2599.5 1053.1,2596.1 1053.6,2596.1 1053.6,2592.6 1054.2,2592.6 1054.2,2589.1 1055,2589.1 1055,2585.7 1055.7,2585.7 1055.7,2582.2 1056.3,2582.2 1056.3,2578.7 1058,2578.7 1058,2575.2 1058.6,2575.2 1058.6,2571.8 1058.7,2571.8 1058.7,2568.3 1059.3,2568.3 1059.3,2564.8 1059.7,2564.8 1059.7,2561.4 1059.9,2561.4 1059.9,2557.9 1060.4,2557.9 1060.4,2554.4 1062.2,2554.4 1062.2,2551 1062.8,2551 1062.8,2547.5 1063.1,2547.5 1063.1,2544 1063.4,2544 1063.4,2540.6 1064.4,2540.6 1064.4,2537.1 1064.6,2537.1 1064.6,2533.6 1064.9,2533.6 1064.9,2530.2 1065.6,2530.2 1065.6,2526.7 1066.3,2526.7 1066.3,2523.2 1068.3,2523.2 1068.3,2519.8 1068.6,2519.8 1068.6,2516.3 1068.9,2516.3 1068.9,2512.8 1069.7,2512.8 1069.7,2509.4 1071,2509.4 1071,2505.9 1073.1,2505.9 1073.1,2502.4 1073.6,2502.4 1073.6,2499 1073.7,2499 1073.7,2495.5 1075.7,2495.5 1075.7,2492 1076.2,2492 1076.2,2488.5 1077,2488.5 1077,2485.1 1078.4,2485.1 1078.4,2481.6 1080.1,2481.6 1080.1,2478.1 1081.8,2478.1 1081.8,2474.7 1082.1,2474.7 1082.1,2471.2 1083.8,2471.2 1083.8,2467.7 1084.5,2467.7 1084.5,2464.3 1086.3,2464.3 1086.3,2460.8 1086.5,2460.8 1086.5,2457.3 1087.1,2457.3 1087.1,2453.9 1087.9,2453.9 1087.9,2450.4 1088.2,2450.4 1088.2,2446.9 1089,2446.9 1089,2443.5 1089.8,2443.5 1089.8,2440 1090.6,2440 1090.6,2436.5 1091.4,2436.5 1091.4,2433.1 1091.4,2433.1 1091.4,2429.6 1092.4,2429.6 1092.4,2426.1 1092.5,2426.1 1092.5,2422.7 1092.6,2422.7 1092.6,2419.2 1093.3,2419.2 1093.3,2415.7 1094.8,2415.7 1094.8,2412.3 1095.9,2412.3 1095.9,2408.8 1096,2408.8 1096,2405.3 1096.5,2405.3 1096.5,2401.8 1097.1,2401.8 1097.1,2398.4 1097.5,2398.4 1097.5,2394.9 1098.3,2394.9 1098.3,2391.4 1099.8,2391.4 1099.8,2388 1101.8,2388 1101.8,2384.5 1104.7,2384.5 1104.7,2381 1106.4,2381 1106.4,2377.6 1110.2,2377.6 1110.2,2374.1 1112.1,2374.1 1112.1,2370.6 1115.3,2370.6 1115.3,2367.2 1117.4,2367.2 1117.4,2363.7 1118.8,2363.7 1118.8,2360.2 1118.9,2360.2 1118.9,2356.8 1120,2356.8 1120,2353.3 1120.8,2353.3 1120.8,2349.8 1122,2349.8 1122,2346.4 1122.1,2346.4 1122.1,2342.9 1122.8,2342.9 1122.8,2339.4 1124,2339.4 1124,2336 1124.3,2336 1124.3,2332.5 1125,2332.5 1125,2329 1125,2329 1125,2325.5 1125.9,2325.5 1125.9,2322.1 1127.1,2322.1 1127.1,2318.6 1130.2,2318.6 1130.2,2315.1 1132.8,2315.1 1132.8,2311.7 1134.5,2311.7 1134.5,2308.2 1135.5,2308.2 1135.5,2304.7 1137.5,2304.7 1137.5,2301.3 1137.6,2301.3 1137.6,2297.8 1138.4,2297.8 1138.4,2294.3 1141.4,2294.3 1141.4,2290.9 1141.5,2290.9 1141.5,2287.4 1142,2287.4 1142,2283.9 1142.9,2283.9 1142.9,2280.5 1143.8,2280.5 1143.8,2277 1146.7,2277 1146.7,2273.5 1149.7,2273.5 1149.7,2270.1 1152.2,2270.1 1152.2,2266.6 1154.2,2266.6 1154.2,2263.1 1158.6,2263.1 1158.6,2259.7 1168,2259.7 1168,2256.2 1173,2256.2 1173,2252.7 1174.4,2252.7 1174.4,2249.3 1174.6,2249.3 1174.6,2245.8 1174.8,2245.8 1174.8,2242.3 1177.3,2242.3 1177.3,2238.8 1178.3,2238.8 1178.3,2235.4 1183,2235.4 1183,2231.9 1190.7,2231.9 1190.7,2228.4 1199.1,2228.4 1199.1,2225 1203.2,2225 1203.2,2221.5 1205.2,2221.5 1205.2,2218 1210.4,2218 1210.4,2214.6 1218.2,2214.6 1218.2,2211.1 1224.2,2211.1 1224.2,2207.6 1229.8,2207.6 1229.8,2204.2 1241.6,2204.2 1241.6,2200.7" fill="none" stroke="#d95319" stroke-width="12" stroke-linejoin="round" stroke-linecap="butt"/>
<line x1="1816.6" y1="2200.8" x2="1816.6" y2="3443.8" stroke="#dfdfdf" stroke-width="2"/>
<line x1="1986.6" y1="2200.8" x2="1986.6" y2="3443.8" stroke="#dfdfdf" stroke-width="2"/>
<line x1="2156.5" y1="2200.8" x2="2156.5" y2="3443.8" stroke="#dfdfdf" stroke-width="2"/>
<path d="M1646.7 2200.8V3443.8H2156.5" fill="none" stroke="#262626" stroke-width="2"/>
<line x1="1646.7" y1="3443.8" x2="1646.7" y2="3431.8" stroke="#262626" stroke-width="2"/>
<text x="1646.7" y="3548.1" font-family="Liberation Sans, Arial, sans-serif" font-size="80" fill="#262626" text-anchor="middle">0</text>
<line x1="1816.6" y1="3443.8" x2="1816.6" y2="3431.8" stroke="#262626" stroke-width="2"/>
<text x="1816.6" y="3548.1" font-family="Liberation Sans, Arial, sans-serif" font-size="80" fill="#262626" text-anchor="middle">10</text>
<line x1="1986.6" y1="3443.8" x2="1986.6" y2="3431.8" stroke="#262626" stroke-width="2"/>
<text x="1986.6" y="3548.1" font-family="Liberation Sans, Arial, sans-serif" font-size="80" fill="#262626" text-anchor="middle">20</text>
<line x1="2156.5" y1="3443.8" x2="2156.5" y2="3431.8" stroke="#262626" stroke-width="2"/>
<text x="2156.5" y="3548.1" font-family="Liberation Sans, Arial, sans-serif" font-size="80" fill="#262626" text-anchor="middle">30</text>
<line x1="1646.7" y1="3443.8" x2="1658.7" y2="3443.8" stroke="#262626" stroke-width="2"/>
<text x="1620.5" y="3474.8" font-family="Liberation Sans, Arial, sans-serif" font-size="80" fill="#262626" text-anchor="end">0</text>
<line x1="1646.7" y1="3195.2" x2="1658.7" y2="3195.2" stroke="#262626" stroke-width="2"/>
<text x="1620.5" y="3226.2" font-family="Liberation Sans, Arial, sans-serif" font-size="80" fill="#262626" text-anchor="end">0.2</text>
<line x1="1646.7" y1="2946.6" x2="1658.7" y2="2946.6" stroke="#262626" stroke-width="2"/>
<text x="1620.5" y="2977.6" font-family="Liberation Sans, Arial, sans-serif" font-size="80" fill="#262626" text-anchor="end">0.4</text>
<line x1="1646.7" y1="2698" x2="1658.7" y2="2698" stroke="#262626" stroke-width="2"/>
<text x="1620.5" y="2729" font-family="Liberation Sans, Arial, sans-serif" font-size="80" fill="#262626" text-anchor="end">0.6</text>
<line x1="1646.7" y1="2449.4" x2="1658.7" y2="2449.4" stroke="#262626" stroke-width="2"/>
<text x="1620.5" y="2480.4" font-family="Liberation Sans, Arial, sans-serif" font-size="80" fill="#262626" text-anchor="end">0.8</text>
<line x1="1646.7" y1="2200.8" x2="1658.7" y2="2200.8" stroke="#262626" stroke-width="2"/>
<text x="1620.5" y="2231.8" font-family="Liberation Sans, Arial, sans-serif" font-size="80" fill="#262626" text-anchor="end">1</text>
<text x="1912.6" y="3651.5" font-family="Liberation Sans, Arial, sans-serif" font-size="88" fill="#262626" text-anchor="middle">Z_axis (m)</text>
<polyline points="1650.5,3443.8 1650.5,3443.8 1650.5,3440.3 1652.9,3440.3 1652.9,3436.9 1653.5,3436.9 1653.5,3433.4 1653.8,3433.4 1653.8,3430 1653.8,3430 1653.8,3426.5 1656.3,3426.5 1656.3,3423.1 1657.1,3423.1 1657.1,3419.6 1657.2,3419.6 1657.2,3416.2 1657.2,3416.2 1657.2,3412.7 1657.5,3412.7 1657.5,3409.3 1657.8,3409.3 1657.8,3405.8 1658.8,3405.8 1658.8,3402.4 1658.8,3402.4 1658.8,3398.9 1659.9,3398.9 1659.9,3395.5 1660.2,3395.5 1660.2,3392 1660.6,3392 1660.6,3388.6 1660.7,3388.6 1660.7,3385.1 1661.5,3385.1 1661.5,3381.7 1662.8,3381.7 1662.8,3378.2 1663.6,3378.2 1663.6,3374.7 1664,3374.7 1664,3371.3 1664.2,3371.3 1664.2,3367.8 1664.2,3367.8 1664.2,3364.4 1664.5,3364.4 1664.5,3360.9 1664.5,3360.9 1664.5,3357.5 1665.2,3357.5 1665.2,3354 1666,3354 1666,3350.6 1666.1,3350.6 1666.1,3347.1 1666.8,3347.1 1666.8,3343.7 1667.5,3343.7 1667.5,3340.2 1668.4,3340.2 1668.4,3336.8 1668.7,3336.8 1668.7,3333.3 1669.4,3333.3 1669.4,3329.9 1669.5,3329.9 1669.5,3326.4 1669.7,3326.4 1669.7,3323 1670,3323 1670,3319.5 1670.1,3319.5 1670.1,3316 1670.4,3316 1670.4,3312.6 1671.8,3312.6 1671.8,3309.1 1672.7,3309.1 1672.7,3305.7 1673.2,3305.7 1673.2,3302.2 1674,3302.2 1674,3298.8 1675.6,3298.8 1675.6,3295.3 1675.9,3295.3 1675.9,3291.9 1676,3291.9 1676,3288.4 1676.2,3288.4 1676.2,3285 1676.5,3285 1676.5,3281.5 1676.6,3281.5 1676.6,3278.1 1677.5,3278.1 1677.5,3274.6 1677.8,3274.6 1677.8,3271.2 1678,3271.2 1678,3267.7 1679.4,3267.7 1679.4,3264.3 1680.3,3264.3 1680.3,3260.8 1680.7,3260.8 1680.7,3257.4 1680.8,3257.4 1680.8,3253.9 1681.2,3253.9 1681.2,3250.4 1681.5,3250.4 1681.5,3247 1681.5,3247 1681.5,3243.5 1681.8,3243.5 1681.8,3240.1 1682,3240.1 1682,3236.6 1682.4,3236.6 1682.4,3233.2 1683.9,3233.2 1683.9,3229.7 1684,3229.7 1684,3226.3 1684.1,3226.3 1684.1,3222.8 1684.1,3222.8 1684.1,3219.4 1684.2,3219.4 1684.2,3215.9 1684.6,3215.9 1684.6,3212.5 1684.9,3212.5 1684.9,3209 1685.1,3209 1685.1,3205.6 1685.2,3205.6 1685.2,3202.1 1685.4,3202.1 1685.4,3198.7 1685.5,3198.7 1685.5,3195.2 1685.6,3195.2 1685.6,3191.7 1685.9,3191.7 1685.9,3188.3 1686,3188.3 1686,3184.8 1686.3,3184.8 1686.3,3181.4 1686.4,3181.4 1686.4,3177.9 1686.5,3177.9 1686.5,3174.5 1686.7,3174.5 1686.7,3171 1687.4,3171 1687.4,3167.6 1687.9,3167.6 1687.9,3164.1 1688,3164.1 1688,3160.7 1688.7,3160.7 1688.7,3157.2 1688.8,3157.2 1688.8,3153.8 1689,3153.8 1689,3150.3 1689,3150.3 1689,3146.9 1689,3146.9 1689,3143.4 1689.1,3143.4 1689.1,3140 1689.1,3140 1689.1,3136.5 1689.2,3136.5 1689.2,3133.1 1689.3,3133.1 1689.3,3129.6 1689.3,3129.6 1689.3,3126.1 1689.5,3126.1 1689.5,3122.7 1689.6,3122.7 1689.6,3119.2 1690,3119.2 1690,3115.8 1690,3115.8 1690,3112.3 1690.3,3112.3 1690.3,3108.9 1690.3,3108.9 1690.3,3105.4 1690.4,3105.4 1690.4,3102 1690.6,3102 1690.6,3098.5 1690.6,3098.5 1690.6,3095.1 1690.6,3095.1 1690.6,3091.6 1691,3091.6 1691,3088.2 1691.1,3088.2 1691.1,3084.7 1691.2,3084.7 1691.2,3081.3 1691.5,3081.3 1691.5,3077.8 1691.6,3077.8 1691.6,3074.4 1691.7,3074.4 1691.7,3070.9 1692.3,3070.9 1692.3,3067.4 1694,3067.4 1694,3064 1696.6,3064 1696.6,3060.5 1697.7,3060.5 1697.7,3057.1 1697.9,3057.1 1697.9,3053.6 1698,3053.6 1698,3050.2 1698.2,3050.2 1698.2,3046.7 1700.8,3046.7 1700.8,3043.3 1701.1,3043.3 1701.1,3039.8 1701.2,3039.8 1701.2,3036.4 1702.1,3036.4 1702.1,3032.9 1702.3,3032.9 1702.3,3029.5 1704.4,3029.5 1704.4,3026 1704.4,3026 1704.4,3022.6 1704.5,3022.6 1704.5,3019.1 1704.6,3019.1 1704.6,3015.7 1705,3015.7 1705,3012.2 1705.1,3012.2 1705.1,3008.8 1705.2,3008.8 1705.2,3005.3 1705.3,3005.3 1705.3,3001.8 1705.5,3001.8 1705.5,2998.4 1706,2998.4 1706,2994.9 1706.3,2994.9 1706.3,2991.5 1706.3,2991.5 1706.3,2988 1707.3,2988 1707.3,2984.6 1707.7,2984.6 1707.7,2981.1 1708.4,2981.1 1708.4,2977.7 1708.7,2977.7 1708.7,2974.2 1708.9,2974.2 1708.9,2970.8 1708.9,2970.8 1708.9,2967.3 1709.3,2967.3 1709.3,2963.9 1709.7,2963.9 1709.7,2960.4 1709.8,2960.4 1709.8,2957 1711.4,2957 1711.4,2953.5 1712.1,2953.5 1712.1,2950.1 1712.2,2950.1 1712.2,2946.6 1712.9,2946.6 1712.9,2943.1 1712.9,2943.1 1712.9,2939.7 1713.6,2939.7 1713.6,2936.2 1715.6,2936.2 1715.6,2932.8 1715.7,2932.8 1715.7,2929.3 1718.1,2929.3 1718.1,2925.9 1718.7,2925.9 1718.7,2922.4 1718.9,2922.4 1718.9,2919 1720.2,2919 1720.2,2915.5 1720.4,2915.5 1720.4,2912.1 1721.7,2912.1 1721.7,2908.6 1721.7,2908.6 1721.7,2905.2 1722.4,2905.2 1722.4,2901.7 1723.3,2901.7 1723.3,2898.3 1724.7,2898.3 1724.7,2894.8 1726.3,2894.8 1726.3,2891.4 1726.6,2891.4 1726.6,2887.9 1727,2887.9 1727,2884.5 1728.5,2884.5 1728.5,2881 1728.8,2881 1728.8,2877.5 1729.6,2877.5 1729.6,2874.1 1729.8,2874.1 1729.8,2870.6 1729.9,2870.6 1729.9,2867.2 1730.4,2867.2 1730.4,2863.7 1730.4,2863.7 1730.4,2860.3 1730.9,2860.3 1730.9,2856.8 1732,2856.8 1732,2853.4 1732.2,2853.4 1732.2,2849.9 1732.8,2849.9 1732.8,2846.5 1733,2846.5 1733,2843 1733.1,2843 1733.1,2839.6 1733.8,2839.6 1733.8,2836.1 1734.3,2836.1 1734.3,2832.7 1734.5,2832.7 1734.5,2829.2 1735.8,2829.2 1735.8,2825.8 1737,2825.8 1737,2822.3 1737.1,2822.3 1737.1,2818.8 1737.9,2818.8 1737.9,2815.4 1737.9,2815.4 1737.9,2811.9 1739.8,2811.9 1739.8,2808.5 1740.1,2808.5 1740.1,2805 1740.4,2805 1740.4,2801.6 1741.5,2801.6 1741.5,2798.1 1741.7,2798.1 1741.7,2794.7 1743,2794.7 1743,2791.2 1743.1,2791.2 1743.1,2787.8 1743.3,2787.8 1743.3,2784.3 1743.3,2784.3 1743.3,2780.9 1744,2780.9 1744,2777.4 1745.9,2777.4 1745.9,2774 1745.9,2774 1745.9,2770.5 1746.6,2770.5 1746.6,2767.1 1747.1,2767.1 1747.1,2763.6 1747.4,2763.6 1747.4,2760.2 1748.1,2760.2 1748.1,2756.7 1748.8,2756.7 1748.8,2753.2 1749.4,2753.2 1749.4,2749.8 1751.2,2749.8 1751.2,2746.3 1751.9,2746.3 1751.9,2742.9 1752,2742.9 1752,2739.4 1752.4,2739.4 1752.4,2736 1752.8,2736 1752.8,2732.5 1753,2732.5 1753,2729.1 1753.3,2729.1 1753.3,2725.6 1753.4,2725.6 1753.4,2722.2 1753.5,2722.2 1753.5,2718.7 1755.1,2718.7 1755.1,2715.3 1757.1,2715.3 1757.1,2711.8 1759.1,2711.8 1759.1,2708.4 1762.9,2708.4 1762.9,2704.9 1763.7,2704.9 1763.7,2701.5 1765.8,2701.5 1765.8,2698 1766.9,2698 1766.9,2694.5 1767.3,2694.5 1767.3,2691.1 1767.4,2691.1 1767.4,2687.6 1767.4,2687.6 1767.4,2684.2 1768.6,2684.2 1768.6,2680.7 1769.7,2680.7 1769.7,2677.3 1770.4,2677.3 1770.4,2673.8 1770.9,2673.8 1770.9,2670.4 1772.2,2670.4 1772.2,2666.9 1772.5,2666.9 1772.5,2663.5 1772.8,2663.5 1772.8,2660 1774.1,2660 1774.1,2656.6 1775.2,2656.6 1775.2,2653.1 1775.4,2653.1 1775.4,2649.7 1775.5,2649.7 1775.5,2646.2 1776.5,2646.2 1776.5,2642.8 1776.8,2642.8 1776.8,2639.3 1777.5,2639.3 1777.5,2635.9 1777.9,2635.9 1777.9,2632.4 1778,2632.4 1778,2628.9 1778.4,2628.9 1778.4,2625.5 1778.7,2625.5 1778.7,2622 1779.6,2622 1779.6,2618.6 1779.8,2618.6 1779.8,2615.1 1779.9,2615.1 1779.9,2611.7 1780.9,2611.7 1780.9,2608.2 1780.9,2608.2 1780.9,2604.8 1781.3,2604.8 1781.3,2601.3 1781.6,2601.3 1781.6,2597.9 1781.7,2597.9 1781.7,2594.4 1782,2594.4 1782,2591 1782.2,2591 1782.2,2587.5 1782.3,2587.5 1782.3,2584.1 1783.3,2584.1 1783.3,2580.6 1783.4,2580.6 1783.4,2577.2 1784.5,2577.2 1784.5,2573.7 1785.2,2573.7 1785.2,2570.2 1785.6,2570.2 1785.6,2566.8 1785.8,2566.8 1785.8,2563.3 1786.1,2563.3 1786.1,2559.9 1786.9,2559.9 1786.9,2556.4 1787.2,2556.4 1787.2,2553 1787.6,2553 1787.6,2549.5 1788.5,2549.5 1788.5,2546.1 1789.5,2546.1 1789.5,2542.6 1789.7,2542.6 1789.7,2539.2 1791.8,2539.2 1791.8,2535.7 1792.7,2535.7 1792.7,2532.3 1792.7,2532.3 1792.7,2528.8 1794.5,2528.8 1794.5,2525.4 1795.6,2525.4 1795.6,2521.9 1795.7,2521.9 1795.7,2518.5 1796.4,2518.5 1796.4,2515 1796.9,2515 1796.9,2511.6 1797,2511.6 1797,2508.1 1797.2,2508.1 1797.2,2504.6 1797.8,2504.6 1797.8,2501.2 1798,2501.2 1798,2497.7 1798,2497.7 1798,2494.3 1798,2494.3 1798,2490.8 1798.8,2490.8 1798.8,2487.4 1798.8,2487.4 1798.8,2483.9 1798.9,2483.9 1798.9,2480.5 1799,2480.5 1799,2477 1799.2,2477 1799.2,2473.6 1801.3,2473.6 1801.3,2470.1 1802.9,2470.1 1802.9,2466.7 1805,2466.7 1805,2463.2 1806.4,2463.2 1806.4,2459.8 1806.7,2459.8 1806.7,2456.3 1807.2,2456.3 1807.2,2452.9 1808.9,2452.9 1808.9,2449.4 1809.2,2449.4 1809.2,2445.9 1811.6,2445.9 1811.6,2442.5 1812.3,2442.5 1812.3,2439 1812.6,2439 1812.6,2435.6 1812.8,2435.6 1812.8,2432.1 1814.7,2432.1 1814.7,2428.7 1815.2,2428.7 1815.2,2425.2 1816.3,2425.2 1816.3,2421.8 1817.7,2421.8 1817.7,2418.3 1819.5,2418.3 1819.5,2414.9 1819.8,2414.9 1819.8,2411.4 1820.1,2411.4 1820.1,2408 1822.9,2408 1822.9,2404.5 1823.8,2404.5 1823.8,2401.1 1824,2401.1 1824,2397.6 1824.2,2397.6 1824.2,2394.2 1825.2,2394.2 1825.2,2390.7 1827,2390.7 1827,2387.2 1828.5,2387.2 1828.5,2383.8 1829,2383.8 1829,2380.3 1832.5,2380.3 1832.5,2376.9 1834.4,2376.9 1834.4,2373.4 1836.3,2373.4 1836.3,2370 1837,2370 1837,2366.5 1837.9,2366.5 1837.9,2363.1 1840.4,2363.1 1840.4,2359.6 1840.6,2359.6 1840.6,2356.2 1844.6,2356.2 1844.6,2352.7 1845.7,2352.7 1845.7,2349.3 1847,2349.3 1847,2345.8 1847.2,2345.8 1847.2,2342.4 1848.1,2342.4 1848.1,2338.9 1851.9,2338.9 1851.9,2335.5 1852.8,2335.5 1852.8,2332 1854.3,2332 1854.3,2328.6 1855.1,2328.6 1855.1,2325.1 1857.2,2325.1 1857.2,2321.6 1857.3,2321.6 1857.3,2318.2 1858.2,2318.2 1858.2,2314.7 1859.7,2314.7 1859.7,2311.3 1860.8,2311.3 1860.8,2307.8 1863,2307.8 1863,2304.4 1863.1,2304.4 1863.1,2300.9 1864,2300.9 1864,2297.5 1864.7,2297.5 1864.7,2294 1866.2,2294 1866.2,2290.6 1867,2290.6 1867,2287.1 1867.6,2287.1 1867.6,2283.7 1868.1,2283.7 1868.1,2280.2 1868.4,2280.2 1868.4,2276.8 1869.2,2276.8 1869.2,2273.3 1878.4,2273.3 1878.4,2269.9 1885.1,2269.9 1885.1,2266.4 1887.6,2266.4 1887.6,2263 1888.6,2263 1888.6,2259.5 1890.9,2259.5 1890.9,2256 1896,2256 1896,2252.6 1897.6,2252.6 1897.6,2249.1 1901,2249.1 1901,2245.7 1905.6,2245.7 1905.6,2242.2 1909.5,2242.2 1909.5,2238.8 1914.3,2238.8 1914.3,2235.3 1919.3,2235.3 1919.3,2231.9 1925.6,2231.9 1925.6,2228.4 1925.6,2228.4 1925.6,2225 1927,2225 1927,2221.5 1929.8,2221.5 1929.8,2218.1 1932.4,2218.1 1932.4,2214.6 1934.7,2214.6 1934.7,2211.2 1936.5,2211.2 1936.5,2207.7 1943.3,2207.7 1943.3,2204.3 1976.4,2204.3 1976.4,2200.8" fill="none" stroke="#0072bd" stroke-width="12" stroke-linejoin="round" stroke-linecap="butt"/>
<polyline points="1646.7,3443.8 1646.7,3443.8 1646.7,3440.3 1646.7,3440.3 1646.7,3436.9 1647.2,3436.9 1647.2,3433.4 1647.3,3433.4 1647.3,3430 1648.3,3430 1648.3,3426.5 1648.7,3426.5 1648.7,3423.1 1648.9,3423.1 1648.9,3419.6 1649.3,3419.6 1649.3,3416.2 1649.4,3416.2 1649.4,3412.7 1649.9,3412.7 1649.9,3409.3 1650.6,3409.3 1650.6,3405.8 1651,3405.8 1651,3402.4 1651.3,3402.4 1651.3,3398.9 1651.5,3398.9 1651.5,3395.5 1652,3395.5 1652,3392 1652.4,3392 1652.4,3388.6 1652.9,3388.6 1652.9,3385.1 1653.1,3385.1 1653.1,3381.7 1653.3,3381.7 1653.3,3378.2 1653.3,3378.2 1653.3,3374.7 1653.7,3374.7 1653.7,3371.3 1654.2,3371.3 1654.2,3367.8 1655.3,3367.8 1655.3,3364.4 1655.7,3364.4 1655.7,3360.9 1656.7,3360.9 1656.7,3357.5 1656.8,3357.5 1656.8,3354 1657.7,3354 1657.7,3350.6 1657.9,3350.6 1657.9,3347.1 1659.7,3347.1 1659.7,3343.7 1660.9,3343.7 1660.9,3340.2 1661.3,3340.2 1661.3,3336.8 1664.2,3336.8 1664.2,3333.3 1664.8,3333.3 1664.8,3329.9 1665.6,3329.9 1665.6,3326.4 1666.1,3326.4 1666.1,3323 1666.6,3323 1666.6,3319.5 1667.1,3319.5 1667.1,3316 1667.1,3316 1667.1,3312.6 1667.2,3312.6 1667.2,3309.1 1668,3309.1 1668,3305.7 1668.1,3305.7 1668.1,3302.2 1668.1,3302.2 1668.1,3298.8 1669.1,3298.8 1669.1,3295.3 1670.4,3295.3 1670.4,3291.9 1670.9,3291.9 1670.9,3288.4 1671,3288.4 1671,3285 1671.2,3285 1671.2,3281.5 1671.9,3281.5 1671.9,3278.1 1672.1,3278.1 1672.1,3274.6 1672.6,3274.6 1672.6,3271.2 1673.2,3271.2 1673.2,3267.7 1673.4,3267.7 1673.4,3264.3 1673.6,3264.3 1673.6,3260.8 1674.5,3260.8 1674.5,3257.4 1674.8,3257.4 1674.8,3253.9 1674.9,3253.9 1674.9,3250.4 1675.1,3250.4 1675.1,3247 1676,3247 1676,3243.5 1676,3243.5 1676,3240.1 1676.8,3240.1 1676.8,3236.6 1677.5,3236.6 1677.5,3233.2 1677.8,3233.2 1677.8,3229.7 1678.3,3229.7 1678.3,3226.3 1679,3226.3 1679,3222.8 1679.4,3222.8 1679.4,3219.4 1679.5,3219.4 1679.5,3215.9 1679.8,3215.9 1679.8,3212.5 1680.1,3212.5 1680.1,3209 1680.3,3209 1680.3,3205.6 1681.5,3205.6 1681.5,3202.1 1681.7,3202.1 1681.7,3198.7 1681.9,3198.7 1681.9,3195.2 1681.9,3195.2 1681.9,3191.7 1682.3,3191.7 1682.3,3188.3 1682.3,3188.3 1682.3,3184.8 1682.4,3184.8 1682.4,3181.4 1684.2,3181.4 1684.2,3177.9 1684.5,3177.9 1684.5,3174.5 1684.9,3174.5 1684.9,3171 1685.4,3171 1685.4,3167.6 1685.4,3167.6 1685.4,3164.1 1686.4,3164.1 1686.4,3160.7 1686.4,3160.7 1686.4,3157.2 1688,3157.2 1688,3153.8 1688.1,3153.8 1688.1,3150.3 1688.9,3150.3 1688.9,3146.9 1689,3146.9 1689,3143.4 1689.6,3143.4 1689.6,3140 1689.6,3140 1689.6,3136.5 1690.2,3136.5 1690.2,3133.1 1691.3,3133.1 1691.3,3129.6 1691.7,3129.6 1691.7,3126.1 1691.9,3126.1 1691.9,3122.7 1692.4,3122.7 1692.4,3119.2 1692.6,3119.2 1692.6,3115.8 1692.8,3115.8 1692.8,3112.3 1693.6,3112.3 1693.6,3108.9 1694.1,3108.9 1694.1,3105.4 1694.5,3105.4 1694.5,3102 1694.7,3102 1694.7,3098.5 1695.5,3098.5 1695.5,3095.1 1695.7,3095.1 1695.7,3091.6 1695.8,3091.6 1695.8,3088.2 1696,3088.2 1696,3084.7 1696.3,3084.7 1696.3,3081.3 1697.1,3081.3 1697.1,3077.8 1697.3,3077.8 1697.3,3074.4 1697.4,3074.4 1697.4,3070.9 1697.8,3070.9 1697.8,3067.4 1698.6,3067.4 1698.6,3064 1698.9,3064 1698.9,3060.5 1699.3,3060.5 1699.3,3057.1 1699.9,3057.1 1699.9,3053.6 1700.3,3053.6 1700.3,3050.2 1700.5,3050.2 1700.5,3046.7 1701.1,3046.7 1701.1,3043.3 1701.2,3043.3 1701.2,3039.8 1702,3039.8 1702,3036.4 1702.2,3036.4 1702.2,3032.9 1702.5,3032.9 1702.5,3029.5 1702.7,3029.5 1702.7,3026 1703,3026 1703,3022.6 1703.9,3022.6 1703.9,3019.1 1704.2,3019.1 1704.2,3015.7 1704.3,3015.7 1704.3,3012.2 1704.7,3012.2 1704.7,3008.8 1705.1,3008.8 1705.1,3005.3 1705.1,3005.3 1705.1,3001.8 1705.8,3001.8 1705.8,2998.4 1705.9,2998.4 1705.9,2994.9 1706.1,2994.9 1706.1,2991.5 1706.6,2991.5 1706.6,2988 1706.9,2988 1706.9,2984.6 1707,2984.6 1707,2981.1 1707,2981.1 1707,2977.7 1707.3,2977.7 1707.3,2974.2 1707.3,2974.2 1707.3,2970.8 1707.5,2970.8 1707.5,2967.3 1707.9,2967.3 1707.9,2963.9 1708.9,2963.9 1708.9,2960.4 1709.1,2960.4 1709.1,2957 1710.2,2957 1710.2,2953.5 1710.2,2953.5 1710.2,2950.1 1710.5,2950.1 1710.5,2946.6 1710.7,2946.6 1710.7,2943.1 1711.1,2943.1 1711.1,2939.7 1711.5,2939.7 1711.5,2936.2 1712,2936.2 1712,2932.8 1712.1,2932.8 1712.1,2929.3 1713.9,2929.3 1713.9,2925.9 1714.4,2925.9 1714.4,2922.4 1714.6,2922.4 1714.6,2919 1715.3,2919 1715.3,2915.5 1716,2915.5 1716,2912.1 1716,2912.1 1716,2908.6 1716,2908.6 1716,2905.2 1716.4,2905.2 1716.4,2901.7 1716.7,2901.7 1716.7,2898.3 1718.4,2898.3 1718.4,2894.8 1718.4,2894.8 1718.4,2891.4 1718.6,2891.4 1718.6,2887.9 1718.8,2887.9 1718.8,2884.5 1719.6,2884.5 1719.6,2881 1720.6,2881 1720.6,2877.5 1720.8,2877.5 1720.8,2874.1 1720.8,2874.1 1720.8,2870.6 1721.1,2870.6 1721.1,2867.2 1721.5,2867.2 1721.5,2863.7 1721.7,2863.7 1721.7,2860.3 1721.7,2860.3 1721.7,2856.8 1721.7,2856.8 1721.7,2853.4 1722.4,2853.4 1722.4,2849.9 1723.5,2849.9 1723.5,2846.5 1723.9,2846.5 1723.9,2843 1724.1,2843 1724.1,2839.6 1724.4,2839.6 1724.4,2836.1 1724.7,2836.1 1724.7,2832.7 1724.8,2832.7 1724.8,2829.2 1724.9,2829.2 1724.9,2825.8 1725,2825.8 1725,2822.3 1725.1,2822.3 1725.1,2818.8 1725.2,2818.8 1725.2,2815.4 1725.7,2815.4 1725.7,2811.9 1725.9,2811.9 1725.9,2808.5 1726,2808.5 1726,2805 1726.1,2805 1726.1,2801.6 1726.2,2801.6 1726.2,2798.1 1726.3,2798.1 1726.3,2794.7 1726.9,2794.7 1726.9,2791.2 1727.2,2791.2 1727.2,2787.8 1729,2787.8 1729,2784.3 1729.1,2784.3 1729.1,2780.9 1730.6,2780.9 1730.6,2777.4 1730.7,2777.4 1730.7,2774 1730.9,2774 1730.9,2770.5 1731,2770.5 1731,2767.1 1732.5,2767.1 1732.5,2763.6 1733.9,2763.6 1733.9,2760.2 1734.2,2760.2 1734.2,2756.7 1734.4,2756.7 1734.4,2753.2 1734.4,2753.2 1734.4,2749.8 1735.1,2749.8 1735.1,2746.3 1735.2,2746.3 1735.2,2742.9 1735.6,2742.9 1735.6,2739.4 1736.7,2739.4 1736.7,2736 1738,2736 1738,2732.5 1738.6,2732.5 1738.6,2729.1 1739,2729.1 1739,2725.6 1739.1,2725.6 1739.1,2722.2 1739.3,2722.2 1739.3,2718.7 1740,2718.7 1740,2715.3 1741.8,2715.3 1741.8,2711.8 1742,2711.8 1742,2708.4 1742.2,2708.4 1742.2,2704.9 1742.9,2704.9 1742.9,2701.5 1743.1,2701.5 1743.1,2698 1743.1,2698 1743.1,2694.5 1743.2,2694.5 1743.2,2691.1 1743.3,2691.1 1743.3,2687.6 1743.4,2687.6 1743.4,2684.2 1743.4,2684.2 1743.4,2680.7 1744.1,2680.7 1744.1,2677.3 1744.6,2677.3 1744.6,2673.8 1745,2673.8 1745,2670.4 1745.3,2670.4 1745.3,2666.9 1746.2,2666.9 1746.2,2663.5 1746.4,2663.5 1746.4,2660 1746.4,2660 1746.4,2656.6 1746.6,2656.6 1746.6,2653.1 1748.2,2653.1 1748.2,2649.7 1748.7,2649.7 1748.7,2646.2 1749.2,2646.2 1749.2,2642.8 1750.4,2642.8 1750.4,2639.3 1751.3,2639.3 1751.3,2635.9 1751.8,2635.9 1751.8,2632.4 1752.8,2632.4 1752.8,2628.9 1753.3,2628.9 1753.3,2625.5 1753.5,2625.5 1753.5,2622 1754.4,2622 1754.4,2618.6 1754.9,2618.6 1754.9,2615.1 1755.2,2615.1 1755.2,2611.7 1755.3,2611.7 1755.3,2608.2 1756.1,2608.2 1756.1,2604.8 1756.1,2604.8 1756.1,2601.3 1756.8,2601.3 1756.8,2597.9 1756.8,2597.9 1756.8,2594.4 1757,2594.4 1757,2591 1758.4,2591 1758.4,2587.5 1759.6,2587.5 1759.6,2584.1 1759.9,2584.1 1759.9,2580.6 1760.2,2580.6 1760.2,2577.2 1760.4,2577.2 1760.4,2573.7 1760.6,2573.7 1760.6,2570.2 1760.8,2570.2 1760.8,2566.8 1761.2,2566.8 1761.2,2563.3 1761.2,2563.3 1761.2,2559.9 1761.9,2559.9 1761.9,2556.4 1762.5,2556.4 1762.5,2553 1762.5,2553 1762.5,2549.5 1763.2,2549.5 1763.2,2546.1 1763.4,2546.1 1763.4,2542.6 1763.4,2542.6 1763.4,2539.2 1763.8,2539.2 1763.8,2535.7 1764,2535.7 1764,2532.3 1764,2532.3 1764,2528.8 1764.2,2528.8 1764.2,2525.4 1764.3,2525.4 1764.3,2521.9 1764.7,2521.9 1764.7,2518.5 1764.9,2518.5 1764.9,2515 1765.2,2515 1765.2,2511.6 1765.4,2511.6 1765.4,2508.1 1765.5,2508.1 1765.5,2504.6 1766.2,2504.6 1766.2,2501.2 1766.7,2501.2 1766.7,2497.7 1766.9,2497.7 1766.9,2494.3 1767.1,2494.3 1767.1,2490.8 1767.4,2490.8 1767.4,2487.4 1767.6,2487.4 1767.6,2483.9 1767.8,2483.9 1767.8,2480.5 1768.5,2480.5 1768.5,2477 1769.4,2477 1769.4,2473.6 1769.5,2473.6 1769.5,2470.1 1770,2470.1 1770,2466.7 1770.3,2466.7 1770.3,2463.2 1770.7,2463.2 1770.7,2459.8 1771,2459.8 1771,2456.3 1771.5,2456.3 1771.5,2452.9 1773,2452.9 1773,2449.4 1773.5,2449.4 1773.5,2445.9 1773.6,2445.9 1773.6,2442.5 1774.6,2442.5 1774.6,2439 1775.8,2439 1775.8,2435.6 1776.2,2435.6 1776.2,2432.1 1776.7,2432.1 1776.7,2428.7 1777.5,2428.7 1777.5,2425.2 1778.7,2425.2 1778.7,2421.8 1779,2421.8 1779,2418.3 1779.1,2418.3 1779.1,2414.9 1779.7,2414.9 1779.7,2411.4 1780,2411.4 1780,2408 1780.3,2408 1780.3,2404.5 1780.8,2404.5 1780.8,2401.1 1781.4,2401.1 1781.4,2397.6 1781.7,2397.6 1781.7,2394.2 1782.1,2394.2 1782.1,2390.7 1782.3,2390.7 1782.3,2387.2 1782.5,2387.2 1782.5,2383.8 1783,2383.8 1783,2380.3 1784.8,2380.3 1784.8,2376.9 1785.7,2376.9 1785.7,2373.4 1787.8,2373.4 1787.8,2370 1788.2,2370 1788.2,2366.5 1790.2,2366.5 1790.2,2363.1 1790.9,2363.1 1790.9,2359.6 1793.2,2359.6 1793.2,2356.2 1793.8,2356.2 1793.8,2352.7 1794.3,2352.7 1794.3,2349.3 1794.4,2349.3 1794.4,2345.8 1796.1,2345.8 1796.1,2342.4 1797.6,2342.4 1797.6,2338.9 1797.8,2338.9 1797.8,2335.5 1797.9,2335.5 1797.9,2332 1800.1,2332 1800.1,2328.6 1801,2328.6 1801,2325.1 1802.2,2325.1 1802.2,2321.6 1803.6,2321.6 1803.6,2318.2 1803.8,2318.2 1803.8,2314.7 1804.3,2314.7 1804.3,2311.3 1804.3,2311.3 1804.3,2307.8 1806,2307.8 1806,2304.4 1807.1,2304.4 1807.1,2300.9 1807.2,2300.9 1807.2,2297.5 1809.3,2297.5 1809.3,2294 1813.1,2294 1813.1,2290.6 1815,2290.6 1815,2287.1 1818.1,2287.1 1818.1,2283.7 1819.5,2283.7 1819.5,2280.2 1821.7,2280.2 1821.7,2276.8 1822.7,2276.8 1822.7,2273.3 1823,2273.3 1823,2269.9 1824.2,2269.9 1824.2,2266.4 1825.2,2266.4 1825.2,2263 1826.1,2263 1826.1,2259.5 1826.6,2259.5 1826.6,2256 1827,2256 1827,2252.6 1829.4,2252.6 1829.4,2249.1 1829.6,2249.1 1829.6,2245.7 1830.9,2245.7 1830.9,2242.2 1831.1,2242.2 1831.1,2238.8 1831.3,2238.8 1831.3,2235.3 1832.7,2235.3 1832.7,2231.9 1837.9,2231.9 1837.9,2228.4 1840.6,2228.4 1840.6,2225 1846.7,2225 1846.7,2221.5 1851.1,2221.5 1851.1,2218.1 1859.4,2218.1 1859.4,2214.6 1869.2,2214.6 1869.2,2211.2 1873.9,2211.2 1873.9,2207.7 1876.7,2207.7 1876.7,2204.3 1896.5,2204.3 1896.5,2200.8" fill="none" stroke="#d95319" stroke-width="12" stroke-linejoin="round" stroke-linecap="butt"/>
<text transform="translate(116.5 2832) rotate(-90)" font-family="Liberation Sans, Arial, sans-serif" font-size="87" fill="#262626" text-anchor="middle">Probability</text>
<text x="1256" y="2142.5" font-family="Liberation Sans, Arial, sans-serif" font-size="85" letter-spacing="0.9" fill="#000" text-anchor="middle">position errors distribution</text>
</svg></body></html>
